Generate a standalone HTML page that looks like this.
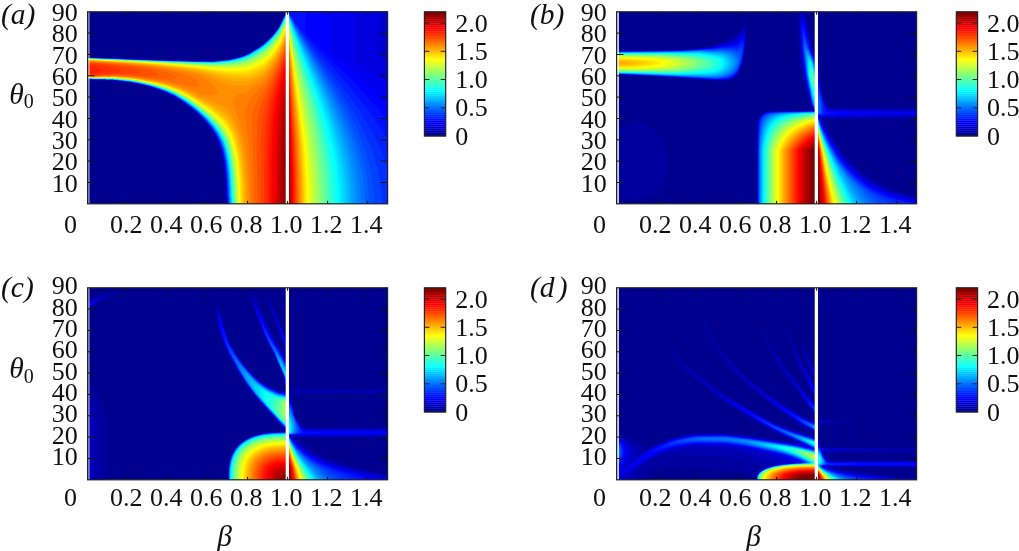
<!DOCTYPE html>
<html><head><meta charset="utf-8"><title>figure</title>
<style>
html,body{margin:0;padding:0;background:#fff}
body{width:1019px;height:551px;overflow:hidden}
svg{display:block}
text{font-family:"Liberation Serif","DejaVu Serif",serif;fill:#111}
.n{font-size:26px}
.i{font-size:29.5px;font-style:italic}
.s{font-size:20px}
</style></head><body>
<svg width="1019" height="551" viewBox="0 0 1019 551">
<rect width="1019" height="551" fill="#fff"/>
<g transform="translate(87.6 11.8)">
<rect x="0" y="0" width="300" height="192" fill="#00008f"/>
<path fill="#00009f" d="M0 45.4l10.2 0.1 3 0.3 24 0.7 3 0.4 10 0.1 3.6 0.4 50.4 1.5 21.6 0.1 14.4-1.5 12.1-2.7 7.8-3 10.7-6.6 5-3.4 3.5-3 4.9-5 4.6-5.6 3-4.7 6.3-13.5 101.9 0 0 192-161.7 0 0-4.2-0.5-2 0-9.6-0.5-2 0-5.4-0.5-2 0-4.5-0.5-1.5-0.1-3.4-0.4-1.6-0.6-6-2-10-1.4-5.1-1.6-4-4-8.1-5.8-8.4-5.5-6.4-5.7-5.7-2-1.5-2.4-2.4-10.5-8-7.9-5-8.2-4-7.6-3-9.2-3-12.2-2.9-8.3-1.5-10.1-1.1-1.6-0.4-3-0.1-1.4-0.4-5.6 0-3-0.4-10 0-2.4-0.4-3.8 0z"/>
<path fill="#0000af" d="M0 45.6l38.2 1.2 15.6 0.8 11.4 0.2 2.6 0.3 12 0.2 3 0.4 18 0.2 4 0.3 21.4 0 14-1.4 11.2-2.6 8.1-3 11-6.4 5-3.6 4-3.4 4.7-4.8 5-6.1 2.6-3.9 6.5-14 101.7 0 0 192-161.3 0-0.1-4.2-0.4-2.6 0-9-0.5-2.4 0-5-0.5-2.6-0.1-4-0.4-2-0.1-3-1-7.4-2.1-10.6-1.7-5.7-1.5-3.7-3.5-7-4.6-6.8-7-8.4-5.8-5.8-1.6-1.2-2.6-2.4-3.4-2.9-7.7-5.5-8.1-5-7.1-3.6-8.9-3.4-8.2-2.7-12-2.9-8.6-1.6-6-0.6-1.4-0.4-2.6-0.1-1.4-0.4-3 0-2-0.5-6 0-2-0.5-10.6 0.1-2-0.5-4.2 0z"/>
<path fill="#0000bf" d="M0 45.8l10.2 0.1 3.2 0.3 10.4 0.2 3 0.4 24 0.6 2.4 0.4 26 0.6 3.6 0.4 17.4 0.2 4 0.3 21.6 0.1 14.4-1.5 11.8-2.7 7.9-3 10.9-6.4 5-3.6 3.5-3 4.9-4.9 5-6.1 3-4.8 6.3-13.4 101.5 0 0 192-161 0-0.1-4.2-0.4-2.6-0.1-9.4-0.4-2-0.1-5.6-0.4-2-0.1-4-0.4-2-0.1-3-1.1-8-2-10-3-9.1-4-7.9-5.9-8.4-5.6-6.6-5.6-5.4-4.5-4-10.7-8-8-5-8.2-4-7.7-3-9.3-3-12.1-3-8-1.4-10-1.1-1.4-0.3-3-0.1-2-0.4-5.6 0-2.4-0.5-10.6 0.1-2.4-0.5-3.8 0z"/>
<path fill="#0000cf" d="M0 45.8l10.2 0.2 3 0.3 10.6 0.2 3 0.3 10.4 0.2 3 0.3 10 0.2 3 0.3 10.6 0.2 3.4 0.4 37 1 21.6 0.1 14.4-1.5 12.2-2.8 7.8-3 10.1-6 5.7-4 3.4-3 4.8-4.8 5.6-6.7 2.4-4.1 6.5-13.6 101.3 0 0 192-160.7 0-0.1-4.2-0.4-2.6-0.1-9.4-0.4-2-0.1-5.6-0.4-2-0.1-4-0.4-2-0.1-3-1.1-8-2-10-1.5-5-1.7-4.4-3.8-7.6-4.4-6.4-7.1-8.6-5.8-5.7-4.4-3.7-9.6-7.5-8.9-5.5-8.1-4-8-3.2-9-2.9-12.2-2.9-8.4-1.6-10-1-1.4-0.4-3-0.1-2-0.4-5.6 0-2.4-0.4-10.6 0-2.4-0.4-3.8 0z"/>
<path fill="#0000df" d="M0 45.9l9.8 0.1 3.4 0.4 10 0.2 3.6 0.3 10 0.2 3.4 0.3 42.6 1.6 21.4 0.5 21.6 0.1 14.4-1.5 11-2.4 8.2-2.9 2-1 9.1-5.6 5.6-4 3.5-3 4.6-4.6 5.6-6.7 2.4-4 6.6-13.9 92.7 0 0.1 44.2 0.2 0.6 1 0.7 7.2 2.4 0 144.1-160.5 0 0-4.2-0.5-2.6 0-9.4-0.5-2.6 0-5-0.5-2 0-4-0.5-2 0-3-1.1-8-2.2-10.4-3-9-4-7.8-5.7-8.2-5.6-6.6-6.1-6-4.1-3.4-9.7-7.6-9.7-6-7.5-3.6-8-3.1-9-2.9-12-2.9-8.6-1.6-6-0.5-1.4-0.4-2.6-0.1-1.4-0.4-3-0.1-1.6-0.4-6 0-2.4-0.5-10.6 0.1-2.4-0.4-3.8 0z"/>
<path fill="#0000ef" d="M0 46l9.2 0.1 73.6 3 21.4 0.5 21.6 0.1 14.4-1.5 11.3-2.4 8.1-3 11.1-6.6 5.1-3.5 4-3.4 4.4-4.5 5.6-6.7 2.4-4.1 6.8-14 68 0 0.1 49.2 1.4 1.6 29.7 18.2 1.8 0.8 0 122.2-160.2 0 0-4.2-0.5-2.6 0-9.4-0.5-2.6-0.1-5-0.4-2.4-0.1-4-0.4-1.6-0.1-3.4-1-7.6-2.2-10.4-3.1-9-4-8-5.7-8-5.5-6.6-6.4-6.2-4.4-3.8-10.7-8-8-5-7.9-3.8-8-3.1-9-2.8-12-2.9-8.6-1.6-10-1-1.4-0.4-3-0.1-1.6-0.4-6 0-2.4-0.4-10.6 0-2.4-0.5-3.8 0.1z"/>
<path fill="#0000ff" d="M0 46l82.8 3.2 22 0.5 21.4 0.1 10-1 7-1 8.6-2 8.1-3 11-6.6 5.3-3.8 3.7-3.2 4.9-4.8 5-6.2 2.4-4 6.9-14.2 43.3 0 0 38.8 0.4 2 2.4 2.4 38.3 31.6 15.3 12.8 1.2 0.6 0 103.8-160 0 0-4.2-0.5-3 0-9-0.5-2.6 0-5-0.5-2.4 0-4-0.4-1.6-0.2-3.4-1-7.6-2.1-10.4-3.1-9-4.1-8-4.4-6.4-7-8.4-6.4-6.2-1.6-1.1-2.5-2.5-10.9-8.1-7.8-4.9-8.2-3.9-8-3.1-9-2.9-12-2.8-8.6-1.6-10-1-1.4-0.4-3-0.1-1.6-0.3-6 0-2.4-0.5-10.6 0.1-2-0.5-4.2 0z"/>
<path fill="#0010ff" d="M0 46.1l37.2 1.2 30.6 1.4 11.4 0.2 3.6 0.3 21.4 0.6 22 0 14-1.4 5.6-1.1 7.4-1.9 7.9-3.2 12.7-7.8 5.7-4.6 5.7-5.9 5.6-7 2-3.5 6.4-13.4 18.7 0 0 19.8 0.3 1.4 1 1.6 8 8.9 32.2 32.1 14.2 14.4 13.4 14.6 11.8 13.8 1.2 0.9 0 84.5-159.7 0 0-4.2-0.5-3 0-9-0.5-2.6 0-5-0.5-2.4-0.1-4-0.4-2-0.1-3-1-7.6-2.2-10.4-1.5-5-1.7-4.6-3.9-7.4-6-8.6-5.6-6.4-6.3-6-4.2-3.7-9.6-7.2-9-5.7-8.2-4-8.2-3.1-9-2.9-12-2.8-8.6-1.6-10-1-1.4-0.4-3-0.1-1.6-0.3-6 0-2.4-0.5-10.6 0.1-2-0.4-4.2-0.1z"/>
<path fill="#0020ff" d="M0 46.2l37.2 1.2 30 1.4 37.6 1.1 21.4 0 14-1.4 5.6-1.1 7.4-1.9 7-2.7 11-6.6 5-3.6 3.9-3.4 4.7-4.6 5-6.1 2.4-3.9 7.2-14.6 1.8 0 1.6 3.6 2.4 4.2 5 7 6.6 8.3 12 14.2 30.7 34.9 16.4 20 11.4 15.6 6 9 5.9 9.7 0.8 0.5 0 65-159.4 0-0.1-4.8-0.4-2.4-0.1-9-0.4-2.6-0.1-5-0.4-2.4-0.1-4-0.4-2-0.1-3-1-7.6-2.2-10.4-1.5-5-1.8-4.6-3.8-7.4-4.5-6.6-7.2-8.4-6.3-6.1-4.4-3.9-9.6-7.1-9-5.6-8-3.9-8.4-3.2-9-2.9-12-2.9-8.6-1.5-10-1-1.4-0.4-2.6 0-2-0.4-6 0-2.4-0.5-10.6 0.1-2-0.4-4.2 0z"/>
<path fill="#0030ff" d="M0 46.2l10.2 0.2 3.5 0.4 10.1 0.1 3.1 0.3 9.9 0.2 3.4 0.4 42 1.5 22.6 0.6 21.4 0.1 14-1.4 5.6-1.1 7.4-1.9 7-2.7 11-6.6 5.1-3.5 3.9-3.5 4.6-4.6 5-6.1 2.4-3.9 6.3-12.9 1.1-1.8 1.1 0 1.5 3.5 2.6 4.3 10 14.5 11.4 15.5 27.3 35.4 13.4 18.6 11.5 17.4 9.1 16 5.7 12 3.1 7.6 2.9 8.2 0.6 0.9 0.2 0 0 38.1-159.2 0 0-4.8-0.5-2.4 0-9-0.4-2.6-0.1-5-0.5-2.4 0-4-0.5-2 0-3-1.2-8-2-10-1.5-5-1.8-4.6-4.1-7.8-4.4-6.5-7-8.1-6.6-6.3-4.3-3.7-9.7-7.3-9.3-5.7-7.7-3.7-8.4-3.3-9-2.8-12-2.8-8.6-1.5-10-1.1-1.4-0.3-3-0.1-1.6-0.4-6 0-2.4-0.4-10.6 0.1-2-0.5-4.2 0z"/>
<path fill="#0040ff" d="M0 46.3l9.8 0.2 3.4 0.3 10 0.2 3.6 0.3 10 0.2 45.4 1.9 22.6 0.6 21.4 0.1 14-1.5 5.6-1 7.4-2 7-2.6 11-6.6 5.2-3.6 3.8-3.4 4.6-4.6 5-6 2.5-4 6.3-13 1.2-1.5 0.4 0 0.8 0.9 3.8 7.2 6.4 10.1 32.8 47.7 12.5 19 10.6 17.6 8.5 16 4.4 9.4 3.9 9.6 3.2 9 2.8 9.4 2.1 9 1.4 9 0.9 9 0.3 8.8-153.5 0 0-4.8-0.5-2.4 0-9.6-0.5-2 0-5-0.5-2.4-0.1-4-0.4-2-0.1-3-1.1-8-2.2-10.6-3.1-9-4.2-8-4.5-6.4-6.8-8-6.8-6.6-4.1-3.4-11-8.1-8-4.9-8-3.9-8.3-3.1-9.1-2.9-12-2.8-8.6-1.5-10-1-1.4-0.4-3-0.1-1.6-0.4-6 0-2.4-0.4-10.6 0.1-2-0.4-4.2 0z"/>
<path fill="#0050ff" d="M0 46.3l9.8 0.2 72.4 3 22.6 0.5 21.4 0.1 14-1.4 5.6-1 7-1.8 7.4-2.9 11-6.5 5.3-3.7 3.7-3.3 4.6-4.5 5.1-6.2 2.5-4 6.3-13 1.1-1.3 0.4 0.1 4 7.5 5.6 9.2 27.2 42.5 12.6 20.4 10.9 19.6 8.6 17.4 4.4 10.6 3.6 9.4 3 9.6 2.4 9 1.8 9 1.4 9 0.8 9 0.3 9.2-145.4 0-0.1-4.8-0.4-2.4-0.1-9.6-0.4-2.4-0.1-5-0.4-2.6-0.1-3.4-1.6-13-2.2-10.6-3.1-9-4.2-8-6.1-8.4-5.7-6.6-6.3-6-4.4-3.6-11-8.1-8-4.9-8-3.8-8-3-9.4-3-12-2.8-8-1.4-10-1.1-2-0.4-2.6 0-2-0.4-6 0-2.4-0.5-10.6 0.1-2-0.4-4.2 0z"/>
<path fill="#0060ff" d="M281.3 192l-139.7 0 0-4.8-0.4-2.4-0.1-9.6-0.5-2.4 0-5-0.5-2.6 0-3.4-1.6-13-2.2-10.6-3.2-9-4.1-8-4.5-6.4-7.3-8.6-6.4-6-4.6-3.8-9.5-7.2-9.5-5.8-8-3.7-8-3.1-9.4-2.9-12-2.8-8-1.4-10-1-2-0.5-2.6 0-2-0.4-6 0-2.4-0.4-10.6 0.1-2-0.5-4.2 0.1 0-20.5 9.8 0.2 72.4 2.9 22.6 0.6 21.4 0.1 14-1.4 5.6-1 7.4-2 7.6-2.9 10.4-6.3 5.5-3.8 3.5-3.2 4.6-4.5 5.2-6.3 2.5-4 6.3-13 1-1.1 0.4 0.1 0.7 1 3.3 6.8 5.6 9.6 25.2 41.6 11 19 10 19 8.3 18 4.2 10.4 3.4 9.6 3 10 2.2 9 1.8 9.4 1.3 9 0.8 9.6z"/>
<path fill="#0070ff" d="M277.1 192l-135.2 0 0-4.8-0.5-3 0-9-0.5-2.4 0-5-0.5-2.6 0-3.4-1.6-13-2.2-10.6-1.6-5-1.8-4.4-4.2-8-5.8-8-5.8-6.6-6.6-6.3-4.4-3.7-9.6-7.1-9.6-5.8-8-3.8-8-3-9.4-2.9-12-2.8-8-1.4-10-1-2-0.4-2.6 0-2-0.5-6 0-2.4-0.4-10.6 0.1-2-0.4-4.2 0 0-20.4 9.2 0.2 73 3 22.6 0.6 21.4 0.1 14-1.4 5.6-1.1 7.4-1.9 7.6-2.9 11-6.6 5-3.6 8-7.6 5.3-6.4 2.5-4 6.2-12.9 1-1 0.4 0.1 9 17.3 24.2 41.9 10.5 19 9.5 19 7.7 17.6 3.7 10 3.2 9.4 2.9 10 2.2 9.6 1.8 9.4 1.2 9 0.7 9.6z"/>
<path fill="#0080ff" d="M273.4 192l-131.2 0 0-4.8-0.5-3 0-9-0.5-2.4 0-5-0.5-2.6 0-3.4-1.6-13-2.2-10.6-1.6-5-1.8-4.4-4.2-8-4.6-6.6-7-8-6.9-6.4-4.2-3.6-9.8-7.3-9.3-5.7-8.3-3.8-8-3-9-2.7-12.4-3-8-1.4-10-1-2-0.4-2.6 0-2-0.4-6 0-2.4-0.5-10.6 0.2-2-0.5-4.2 0 0-20.2 82.8 3.1 33 0.7 10 0.1 14.4-1.4 5.6-1.1 7.4-1.9 7.6-2.9 10.4-6.2 5.6-4 7.6-7.1 5.8-7 2.7-4.6 5.9-12.1 1-1 0.4 0.1 8.6 17.2 23.2 42.4 9.9 19 9.1 19 7.1 17 3.8 10.4 3 9.6 2.6 9.4 2.1 9.6 1.7 9.4 1.1 9 0.7 9.6z"/>
<path fill="#008fff" d="M270 192l-127.5 0 0-4.8-0.5-3 0-9-0.5-2.4 0-5-0.5-2.6-0.1-4-1.5-12.4-2.2-10.6-1.8-5.4-1.6-4-4.2-8-4.6-6.6-7.2-8.2-6.7-6.2-4.3-3.7-10-7.4-9-5.5-8.6-3.9-8-3-9-2.8-12.4-2.9-8-1.4-10-0.9-2-0.5-2.6 0-2-0.4-6 0-2.4-0.4-10.6 0.1-2-0.4-4.2 0 0-20.2 82.8 3.2 33.4 0.7 9.6 0 14.4-1.3 5.6-1.1 8-2 6.4-2.5 11-6.5 5.6-3.9 7.4-7.1 5.7-6.8 2.6-4 6.3-13 1-1 0.4 0.2 8 16.9 21.7 41.5 9.5 19 9.2 20 6.9 17.4 3.4 10 3.1 10 2.4 9.6 2 9.4 1.6 9.6 1.1 9 0.6 9z"/>
<path fill="#009fff" d="M266.8 192l-124 0-0.1-4.8-0.4-3-0.1-9-0.4-2.4-0.1-5-0.4-2.6-0.1-4-1.5-12.4-2.2-10.6-1.6-5-1.8-4.4-4.3-8.3-4.6-6.3-7.3-8.4-11.1-9.9-11-8-8-4.8-8.6-4-8-2.9-9-2.8-12.4-2.9-8-1.3-12-1.4-2.6-0.1-2-0.4-6 0.1-2.4-0.5-10.6 0.1-2-0.4-4.2 0 0-20 82.8 3.1 35.4 0.8 8 0 14.6-1.4 5.4-1.1 7.6-1.9 7.4-3 11-6.6 5-3.7 7.6-7.2 5.2-6.4 2.6-4 6.2-12.8 1-1 0.4 0.2 8 17.7 20.3 40.5 9.6 20 8.4 19.4 6.5 17 3.1 9.6 2.9 10 2.5 10 1.9 9.4 1.5 9.6 1 9 0.7 9z"/>
<path fill="#00afff" d="M263.9 192l-120.8 0-0.1-4.8-0.4-3-0.1-9-0.4-2.4-0.1-5-0.4-2.6-0.1-4-1.5-12.4-2.4-11-3.2-9-4.5-8.6-4.7-6.4-7-8-7.1-6.6-4.3-3.6-11-7.9-8-4.8-8.6-3.9-8-3-9-2.7-12.4-2.8-8-1.4-12-1.4-2.6 0-2-0.4-6 0-2.4-0.4-10 0.1-2.6-0.4-4.2 0 0-20 82.8 3.2 35.4 0.8 8 0 14.6-1.4 5.4-1.1 8-2.1 6.6-2.5 11-6.5 5.4-4 7.1-6.8 6.2-7.4 2.4-4 5.9-12.2 1-1.1 0.4 0.3 8 18.5 19.2 39.9 9 19.6 7.7 18.4 6.4 17.6 3.2 10 2.8 10 2.2 9.4 1.9 9.6 1.5 9.4 1 9 0.6 9.6z"/>
<path fill="#00bfff" d="M261.2 192l-117.8 0-0.1-4.8-0.4-3-0.1-9-0.4-2.4-0.1-5-0.4-2.6-0.1-4-1.6-13-2.2-10.4-2-6-1.4-3.6-4.3-8-4.7-6.4-7.4-8.3-7-6.4-4.4-3.7-11-7.9-8.6-5-8-3.7-8-2.9-9-2.7-12.4-2.8-8-1.4-12-1.4-2.6 0-2-0.4-6 0-2.4-0.4-10 0.2-2.6-0.5-4.2 0 0-19.9 82.8 3.3 38.4 0.8 5.6-0.1 14.4-1.4 6.6-1.3 7-1.9 7-2.8 11-6.6 3.4-2.6 3.6-3 6.1-6.2 4.7-6 2.4-4 6.2-12.8 0.6-0.2 1 1.1 3 8 4 9.4 18.6 40.5 8.2 18.4 7.4 18.6 6.4 18 5.7 20 2.3 10 1.7 9 1.4 9.4 0.9 9 0.7 9.6z"/>
<path fill="#00cfff" d="M258.7 192l-115 0-0.1-4.8-0.4-3-0.1-9-0.4-3-0.1-4.4-0.4-2.6-0.1-4-1.6-13-2.2-10.4-1.8-5.6-1.6-4-4.3-8-4.7-6.4-7.6-8.6-11.4-10-9.7-7-9.4-5.6-8-3.7-8.6-3.1-9-2.7-12-2.7-8.4-1.5-12-1.3-2.6-0.1-2-0.4-5.4 0.1-3-0.4-10 0.1-2.6-0.4-4.2 0 0-19.8 82.8 3.2 39.4 0.9 4.6-0.1 14-1.3 7-1.3 7.4-2.1 6-2.4 11-6.5 5.6-4.1 6.9-6.8 5.4-6.4 2.8-4.6 5.9-12.2 1-1.1 0.4 0.3 7.6 19.2 18.2 41.4 8 19 6.9 18 5.7 17 5.4 19.4 3.8 19 1.3 9.6 0.9 9 0.6 9z"/>
<path fill="#00dfff" d="M256.3 192l-112.3 0-0.1-4.8-0.4-3 0-9-0.5-3 0-4.4-0.5-3-0.1-3.6-1.5-13-2.3-10.4-1.5-5-1.9-4.6-4.6-8.4-4.7-6.6-7.2-8-11.5-10-10-7.2-9.4-5.6-8.6-3.9-8-2.8-9-2.7-12-2.7-8.4-1.5-10-0.9-1.6-0.4-3 0-2-0.4-5.4 0-3-0.4-10 0.1-2.6-0.4-4.2 0.1 0-19.8 82.8 3.3 43.4 0.8 14.6-1.3 7.4-1.4 7.6-2.1 6-2.4 11-6.6 6-4.6 6.1-6.2 5.7-7 2.4-4 6.2-12.7 0.8-0.3 0.8 1.2 3 8.9 4.4 11.5 17.2 40.4 7.1 17.6 6.6 18 5.5 17 5.2 19.4 3.6 19 2.2 18.6z"/>
<path fill="#00efff" d="M254 192l-109.7 0 0-4.8-0.5-3.4 0-8.6-0.5-3 0-4.4-0.5-3-0.1-3.6-1.5-13-2.2-10.4-1.6-5-1.8-4.6-4.6-8.4-4.8-6.6-7.2-8-11.8-10.2-11-7.8-8-4.7-8.4-3.9-8.6-3.1-9-2.6-12-2.7-8.4-1.4-10-1-1.6-0.3-3-0.1-2-0.4-5.4 0.1-3-0.5-10 0.2-2.6-0.4-4.2 0 0-19.6 82.2 3.2 40.6 1 4-0.1 10.4-0.8 5-0.7 7-1.3 7-2 6-2.6 11-6.5 5.6-4.3 6.4-6.5 5.2-6.4 2.7-4.6 5.7-11.7 1-1.1 0.4 0.3 0.6 1 3 9.4 4 10.8 16.7 41.3 6.6 17 6.4 18 5.3 17 5 19.6 3.4 18.4 2.1 18.6z"/>
<path fill="#00ffff" d="M251.7 192l-107.1 0 0-4.8-0.5-3.4 0-8.6-0.5-3 0-4.4-0.5-3 0-3.6-1.6-13-2.1-10.4-1.8-5.6-1.9-4.4-4.3-8-4.8-6.6-7.4-8.1-12-10.3-9.7-7-9.3-5.5-8.4-3.9-8-2.8-9.6-2.8-12-2.7-8.4-1.4-10-1-1.6-0.3-3-0.1-2-0.4-5.4 0.1-3-0.4-10 0.1-2.6-0.4-4.2 0.1 0-19.6 82.2 3.3 40 1 4.6 0 12-1 9.4-1.6 7.6-2 6-2.4 11-6.4 6-4.7 6.3-6.2 5.5-7 2.4-4 5.8-12 1-1.2 0.4 0.3 0.6 1.1 2.4 8.5 4 11.4 22.8 59.3 6.1 18 4.9 16.6 4.8 19.4 3.3 18.6 1.9 18z"/>
<path fill="#10ffef" d="M249.4 192l-104.5 0 0-5.2-0.5-3 0-8.6-0.4-3-0.1-4.4-0.4-3-0.1-3.6-1.5-13-2.3-11-1.6-5-1.9-4.4-4.7-8.6-4.8-6.4-7.3-8-11.7-10-9.8-7.1-9.6-5.6-8.4-3.8-8-2.9-9.6-2.7-12-2.7-8.4-1.4-11.6-1.3-3 0-2-0.4-5.4 0-3-0.4-10 0.2-2.6-0.4-4.2 0 0-19.4 82.2 3.3 40 1 5 0 10-0.8 6.6-0.8 5.4-1.1 7-1.9 5.6-2.2 11-6.4 3-2.1 3.4-2.9 6-6.1 5.3-6.7 2.4-4 5.9-12.1 1-1.2 0.4 0.3 0.6 1.2 3 10.5 4 11.7 15.2 41.2 6 17 5.7 17.4 4.7 16.6 4.5 19.4 3 18 1.9 18z"/>
<path fill="#20ffdf" d="M247.2 192l-101.9 0-0.1-5.2-0.4-3 0-8.6-0.5-3 0-4.4-0.5-3-0.1-3.6-1.5-13-2.2-11-1.6-5-1.9-4.4-4.7-8.6-4.8-6.4-7.4-8-11.8-10.2-10-7.2-9.6-5.5-8.4-3.8-8-2.8-9.6-2.7-12-2.7-8.4-1.4-16.6-1.7-5.4 0.1-3-0.5-10 0.2-2.6-0.4-4.2 0.1 0-19.4 82.2 3.3 41 1.2 7.6-0.3 8.4-0.7 11-1.8 7-2 5-2.1 11-6.4 6-4.7 6-6.1 5.3-6.5 2.6-4.6 5.7-11.7 1-1.3 0.4 0.4 0.6 1.2 3 11.1 4 12.3 20.1 57.6 5.3 17 4.3 16 4.4 19.4 2.9 18 1.8 18z"/>
<path fill="#30ffcf" d="M245 192l-99.4 0 0-5.2-0.5-3 0-8.6-0.4-3-0.1-4.4-0.4-3-0.1-3.6-1.5-13-2.3-11-1.2-4-2.2-5.4-4.7-8.6-5-6.6-7.4-8.1-12-10.2-10-7.1-9-5.2-9-4.1-8-2.7-9.6-2.7-12-2.7-8.4-1.4-16.6-1.7-5.4 0.1-2.6-0.4-10.4 0.2-2.6-0.4-4.2 0 0-19.2 82.8 3.3 40.4 1.3 6-0.2 10.6-0.8 10.4-1.7 7-1.9 5-2.1 11-6.3 6-4.7 6-6.1 5.2-6.6 2.7-4.4 5.7-11.9 1-1.3 0.4 0.3 0.6 1.3 2.4 10 4 13.1 19.4 57.9 5.1 17 4.1 16 4.1 19 2.8 18 1.7 18z"/>
<path fill="#40ffbf" d="M242.9 192l-96.9 0 0-5.2-0.5-3 0-9-0.5-2.6 0-5-0.4-2.4-0.7-9-1.5-11-1.7-7.6-1-3.4-2.6-6.6-4.8-8.4-4.9-6.6-7.4-8-12.2-10.2-11-7.6-8.6-4.9-8.4-3.7-8-2.8-9.6-2.7-12-2.6-8.4-1.4-16.6-1.7-5.4 0.1-2.6-0.4-10.4 0.2-2.6-0.4-4.2 0.1 0-19.2 82.8 3.4 40.4 1.3 6.6-0.1 9.4-0.6 12-1.9 6-1.7 5-2 11-6.3 6-4.7 5.6-5.5 5.3-6.7 3-5 5.7-11.9 1-1.3 0.4 0.3 3.6 13.9 2.4 8.6 14.4 44.4 5.8 19 4.5 16 3.5 14.6 3.8 18.4 2.6 18 1.6 17.6z"/>
<path fill="#50ffaf" d="M240.8 192l-94.4 0-0.1-5.2-0.4-3-0.1-9-0.4-2.6-0.1-5-0.4-2.4-0.6-9-1.6-11-2.6-11-2.5-6.6-4.8-8.5-4.9-6.5-7.5-8-12.2-10.1-3.4-2.7-8-5.3-8-4.6-9-3.9-8-2.7-9.6-2.7-12-2.6-8.4-1.4-16.6-1.6-5.4 0.1-2.6-0.4-10.4 0.2-2.6-0.5-4.2 0.1 0-19 82.8 3.4 41 1.5 16.4-0.8 11-1.7 6-1.6 5-2 11-6.2 6-4.7 5.6-5.5 5.3-6.7 3-5 5.7-12 1-1.3 0.4 0.2 3.6 14.7 2.4 9.1 13.8 44.7 5.4 18.6 4.1 15.4 3.4 14.6 3.6 18.4 2.4 17.6 1.4 17z"/>
<path fill="#60ff9f" d="M238.8 192l-92 0-0.1-5.2-0.4-3-0.1-9-0.4-3-0.1-4.6-1-11.4-1.6-11-1.6-7.6-1.1-4-2.6-6.4-4.9-8.6-5-6.4-7.1-7.7-12.6-10.3-3.4-2.7-8-5.2-8.6-4.8-8.4-3.7-8-2.7-9.6-2.6-12-2.6-8.4-1.4-16.6-1.6-5.4 0.1-2.6-0.4-10.4 0.2-2.6-0.4-4.2 0 0-18.9 123.8 5.1 16-0.6 11.4-1.7 6-1.5 5-2 11-6.1 6-4.6 5.9-5.9 5.1-6.6 2.7-4.4 5.9-12.4 1-1.4 0.4 0.2 3.6 15.5 2.4 9.7 12.9 43.8 5.3 19 3.8 15 3.1 14 3.3 18 2.4 17.6 1.4 17z"/>
<path fill="#70ff8f" d="M236.9 192l-89.7 0-0.1-5.2-0.4-3-0.1-9-0.4-3-0.1-4.6-1-11.4-1.5-11-2.8-11.6-2.5-6.4-4.9-8.6-4.9-6.4-7.7-8-12.6-10.4-10-6.9-9.4-5.4-8.6-3.7-8.4-2.9-9-2.4-12.6-2.7-8.4-1.4-16.6-1.6-5.4 0.1-2.6-0.4-10.4 0.2-2.6-0.4-4.2 0.1 0-18.8 124.2 5.3 16-0.6 12-1.7 6.6-1.8 4.4-1.9 10.6-5.8 6-4.8 5.4-5.7 5-6.4 2.7-4.6 5.9-12.2 1-1.5 0.4 0.2 3.6 16.4 2.4 10.3 12.6 44.8 4.6 17.6 3.5 14.4 3 14 3.1 18 2.1 17 1.4 17z"/>
<path fill="#80ff80" d="M235 192l-87.4 0 0-5.2-0.5-3.6 0-8.4-0.5-3 0-4.6-0.5-3-0.1-3.4-1.5-13-2.2-11-2-6.6-1.5-3.4-4.8-8.6-5-6.4-4.6-5-3.6-3.6-7.6-6.3-8-6-6.4-4.4-10-5.6-8.6-3.7-8-2.7-9.4-2.6-12.6-2.6-8.4-1.4-11.6-1.1-2.4-0.1-2-0.3-6 0-2.6-0.4-10.4 0.3-2.6-0.4-4.2 0 0-18.7 37.8 1.5 87 4.1 15.4-0.4 12.6-1.8 6.4-1.7 4-1.7 10.6-5.7 6-4.8 5.4-5.7 5-6.5 2.8-4.7 5.8-12.2 1-1.5 0.4 0.2 5.6 26.1 15.5 59.4 3.9 16.4 3.1 15.6 3 18 2 17 1.3 16.4z"/>
<path fill="#8fff70" d="M233.1 192l-85.1 0 0-5.2-0.5-3.6 0-8.4-0.4-3-0.1-4.6-0.4-3-0.1-3.4-1.6-13-2.1-11-1.8-6-1.6-4-4.9-8.6-5.4-7-4.3-4.7-4-3.7-7.3-6-2.3-1.5-5.6-4.5-6.8-4.6-9.6-5.3-9-3.9-8-2.6-9.4-2.6-12.6-2.7-8.4-1.3-16-1.5-6 0.1-2.6-0.4-10.4 0.2-2.6-0.4-4.2 0.1 0-18.6 48 1.9 77.2 3.9 15.6-0.3 12.4-1.7 6.6-1.7 4-1.7 10.4-5.7 6-5 5-5.2 5-6.5 2.6-4.3 6-12.7 1-1.6 0.4 0.2 5.6 27.5 14.7 59.8 3.5 16 2.9 15 2.8 17.6 1.9 16.4 1.1 16.6z"/>
<path fill="#9fff60" d="M231.2 192l-82.7 0 0-5.2-0.5-3.6 0-8.4-0.5-3 0-4.6-0.5-3-0.1-3.4-1.5-13-2.3-11.6-2-6.4-1.4-3.6-4.6-8-5.4-7-4.6-5-3.9-3.6-7.4-6.1-2.6-1.6-5.4-4.4-7-4.6-9.6-5.3-9-3.8-8-2.6-9.4-2.6-12.6-2.6-8.4-1.3-16-1.5-6 0.1-2.6-0.4-10.4 0.3-2.6-0.4-4.2 0 0-18.4 45.9 1.8 79.9 4.3 15-0.2 7-0.7 6-0.9 7.4-2.1 9.6-4.7 4.4-2.7 5-4.3 5-5.2 5-6.6 2.6-4.3 6-12.7 1-1.7 0.4 0.2 5.6 28.9 13.8 59.7 3.3 16 2.5 14 2.6 17 1.8 16.6 1 16z"/>
<path fill="#afff50" d="M229.3 192l-80.3 0-0.1-5.2-0.4-3.6 0-8.4-0.5-3-0.6-11-1.5-13-2.3-11.6-1.9-6.4-1.5-3.6-4.8-8.4-5.4-7-4.3-4.6-3.9-3.7-7.8-6.3-2.3-1.4-5.9-4.7-6.8-4.3-9.8-5.4-9-3.8-8-2.6-9.4-2.5-12.6-2.6-8.4-1.3-16-1.5-6 0.1-2.6-0.4-10.4 0.3-2.6-0.4-4.2 0.1 0-18.4 63.2 2.8 63 3.7 15-0.1 7.6-0.7 5.4-0.8 7-1.8 10-5 4.6-2.7 4.4-3.9 5-5.3 5-6.6 2.6-4.3 6-12.7 1-1.8 0.4 0.1 5.6 30.4 12.7 59.1 5.5 29.4 2.3 17 1.7 16 1 16z"/>
<path fill="#bfff40" d="M227.5 192l-78 0 0-5.2-0.5-3.6 0-8.4-0.4-3-0.6-11-1.6-13.6-2.2-11-2.1-7-1.4-3.4-4.6-8-5.4-7-4.8-5-4.1-3.9-7.6-6-2.4-1.5-5.6-4.3-7-4.6-10-5.4-9-3.7-8-2.6-9.4-2.5-12.6-2.5-8-1.3-12-1.1-2.4 0-2-0.4-6 0.1-2.6-0.4-10.4 0.3-2.6-0.4-4.2 0.1 0-18.2 60.4 2.7 66.8 4.2 15 0 8-0.7 5-0.8 6.6-1.7 10-4.9 4.4-2.9 4.6-3.9 5-5.5 4.6-6.2 2.4-4.2 7-14.6 0.4 0.1 5 29.3 12.2 60.4 5 29 2.2 16.4 1.6 16 0.9 16z"/>
<path fill="#cfff30" d="M225.7 192l-75.7 0 0-5.2-0.4-3.6-0.1-8.4-0.4-3-0.6-11-1.6-13.6-2.3-11.4-1.9-6.6-1.6-4-4.2-7.4-5.9-7.6-4.8-4.9-3.8-3.5-7.7-6-2.5-1.6-6-4.5-7-4.5-9.4-5.2-9.6-3.9-8-2.5-9.4-2.4-12.6-2.6-8-1.2-12-1.1-2.4 0-2-0.4-6 0.1-2.6-0.4-10.4 0.3-2.6-0.4-4.2 0.1 0-18 39 1.6 27.4 1.6 39.8 2.4 22 1.8 14.6 0.1 8-0.6 5.4-0.8 6-1.7 10-4.9 4-2.5 4.6-4 5-5.5 4.4-6.1 2.6-4.4 7-14.6 0.4 0 5.6 33.4 11.2 59.8 4 25 2 16.6 1.5 16 0.9 16z"/>
<path fill="#dfff20" d="M224 192l-73.4 0 0-5.2-0.5-3.6 0-8.4-0.4-3.6-0.6-10.4-1.6-13.6-2.2-11.4-3.3-10-3.4-6.6-2.3-3.4-4.5-5.6-5-5.2-4-3.6-8-6.2-2.6-1.5-5.9-4.5-6.5-4.1-10-5.4-9-3.7-8-2.5-10-2.5-12.6-2.5-8-1.2-16.4-1.5-6 0.1-2.6-0.4-10.4 0.4-2.6-0.4-4.2 0.1 0-17.9 36.6 1.5 34.9 2 36.6 2.6 21.1 1.8 14 0.2 7.6-0.4 6-0.8 5.4-1.5 10.6-5 4-2.6 4.4-4.1 5-5.7 4.3-5.9 2.3-4.1 7-14.8 0.4 0 0.6 2.1 4.4 30 10.7 60.8 3.7 24.4 1.9 17 1.4 16 0.8 15.6z"/>
<path fill="#efff10" d="M222.4 192l-71.2 0 0-5.2-0.4-4-0.1-8-0.4-3.6-0.6-11-1.5-13-2.3-11.4-1.9-6.6-1.5-4-3.3-6.4-2-3.1-4.9-5.9-4.9-5-4.2-3.8-8-6-2.9-1.8-5.5-4.1-6.6-4.2-10-5.3-10-4-8-2.5-9-2.2-12.4-2.5-8.6-1.3-16.4-1.4-6 0.1-2.6-0.3-10.4 0.3-2.6-0.4-4.2 0.1 0-17.8 33.9 1.5 34 2 38.9 2.9 18 1.8 7.4 0.5 12.6 0.3 7-0.4 5.4-0.7 5.6-1.5 10-4.7 4-2.6 4.4-4.1 5-5.8 4.4-6.1 2.2-3.9 7-14.9 0.4 0 0.6 2.1 4 28.3 9.7 59.4 3.7 26 1.9 17 1.2 16 0.8 15.4z"/>
<path fill="#ffff00" d="M220.9 192l-69 0 0-5.2-0.5-4 0-8-0.4-3.6-0.6-11-1.5-13-2.4-12-1.9-6.4-1.5-4-3.9-7.6-1.6-2.4-4.7-5.6-5-5-4.1-3.6-8-5.9-15.6-10.2-10.4-5.5-9-3.6-8-2.4-10-2.4-12.6-2.5-8-1.1-16.4-1.4-6 0.1-2.6-0.3-10.4 0.3-2-0.4-4.8 0.1 0-17.5 40.2 1.9 31.5 2 34.1 2.6 20 2.3 13 0.9 11.4-0.1 7.6-0.7 5-1.3 10-4.6 4-2.6 4.4-4.2 5-5.8 4.3-6.1 2.3-4.1 7-14.9 0.4 0 0.6 2.2 3.4 26.2 9.3 59.6 3.5 27 1.7 16.6 1.3 16.4 0.7 15.6z"/>
<path fill="#ffef00" d="M219.5 192l-66.8 0-0.1-5.2-0.4-4 0-8-1.1-14.6-1.5-13.4-2.1-11-1.4-5-2.1-6-4-8-1.6-2.6-7.2-8-7.4-6.5-8-5.8-2.6-1.3-6-4.3-4.4-2.8-12-6.5-10-3.9-8.6-2.5-9-2.1-12.4-2.5-8.6-1.2-12-1-2.4 0-2-0.4-6 0.2-2.6-0.3-10.4 0.3-2-0.3-4.8 0.1 0-17.4 37.2 1.8 37.4 2.4 32.6 2.9 19 2.4 13.6 1.2 11 0.1 8-0.7 4.4-1.3 10-4.6 4-2.7 4-3.8 4.6-5.3 4.4-6.3 2.4-4.3 7.2-15.4 0.4 0 0.6 2.3 3.4 27.5 7.8 53 3.9 31 1.6 16.6 1.1 16 0.7 16z"/>
<path fill="#ffdf00" d="M218.3 192l-64.8 0-0.1-5.8-0.4-3.4 0-8-1-14.6-1.6-13.4-2.2-11.6-1.7-6-1.8-5-4.4-9-3.5-4.4-5-5.4-7.6-6.4-8-5.6-3-1.6-5.4-3.8-7-4.2-10-5.2-10-3.8-8-2.4-9.6-2.2-12.4-2.3-8.6-1.2-16.4-1.4-5.6 0.2-3-0.4-10 0.4-3-0.4-4.2 0.2 0-17.2 42.2 2.1 34.5 2.6 31.7 3 18.8 2.7 13.6 1.5 11 0.2 7.4-0.6 4-1.1 10-4.5 3.6-2.3 4.4-4.3 4.6-5.4 4.4-6.4 2.4-4.4 7.2-15.4 0.4 0 0.6 2.5 3 25 7.6 54.9 3.2 27.6 1.7 18.4 1.1 16 0.6 16z"/>
<path fill="#ffcf00" d="M217.1 192l-62.7 0-0.1-5.8-0.4-3.4 0-8.6-1-14-1.5-13.4-2.3-12-2-7-1.5-4-4.5-9.6-2.2-3-6.1-6.4-7.6-6.3-8.4-5.7-3-1.6-5.6-3.7-7-4.2-10-5-10.4-3.9-8-2.3-9.6-2.1-12.4-2.4-8.6-1.1-16.4-1.3-5.6 0.2-3-0.4-10 0.4-2.4-0.3-4.8 0.1 0-16.9 38.7 1.9 33.7 2.6 34.7 3.4 20.1 3.3 13.6 1.9 11 0.5 7.4-0.4 4-1.1 10-4.4 3.6-2.4 4-3.8 5-6 4.4-6.6 2.2-4 7.4-16 0.4 0.1 0.6 2.6 3 26.2 6.7 51.1 3.3 30 1.5 17.6 1 16 0.6 16z"/>
<path fill="#ffbf00" d="M216.1 192l-60.7 0 0-5.8-0.4-4-0.1-8-0.9-14-1.5-13.4-2.2-12-1.4-5-2-6-4.7-10-2.6-4-5.4-5.6-8.4-6.8-8.1-5.2-3-1.4-12.9-7.9-10-5-10.6-3.8-8.4-2.4-9.6-2-12.4-2.3-8.6-1.1-16.4-1.3-5.6 0.2-3-0.3-10 0.4-2.4-0.4-4.8 0.2 0-16.7 34.9 1.8 38.6 3 35.3 4 32.4 6 11 0.8 7.6-0.4 4-1.1 9.4-4.3 3.6-2.4 4-4 5-6.2 4.4-6.7 2.3-4.1 7.3-16 0.4 0.1 3.6 30.3 6.2 49.6 3 28.4 1.4 17.6 0.9 16 0.6 16z"/>
<path fill="#ffaf00" d="M215.1 192l-58.5 0-0.5-17.8-0.9-14.4-1.5-13.6-2.1-11.4-2.5-9-1.5-4-4.7-10-2.1-3.4-3.2-3.6-4.8-4.2-5.3-3.8-9.1-5.6-7.2-3.6-9.4-5.6-10-4.7-10.6-3.7-8-2.2-9.4-2-13-2.2-8.6-1.2-16.4-1.1-5.6 0.2-3-0.3-10 0.4-2.4-0.4-4.8 0.2 0-16.4 38.4 2.2 19.3 1.4 20.8 2 30.7 4 33 7.3 9.6 0.9 7.4-0.1 4.6-1.2 9.4-4.4 3.6-2.5 3.4-3.5 4.6-5.6 5-7.4 2.4-4.7 6-13.5 1.6-3 0.4 0.2 9.2 79.1 2.7 27.4 2.3 33.6z"/>
<path fill="#ff9f00" d="M214.1 192l-56.1 0-0.4-17.8-1.4-20-2.1-15-1.1-5.4-1.9-7.6-1.8-5-3.9-9-4.6-7.7-1-1.3-2.2-2-7.4-5.3-10.4-5.7-8-3.7-9-5-7.6-3.6-3.4-1.4-10-3.4-8.6-2.1-22.4-4.1-12-1.4-13-0.8-5.6 0.2-3-0.3-10 0.4-2.4-0.3-4.8 0.2 0-16.1 41 2.4 22.8 2 17.8 2 20.9 3 8.2 1.6 6.2 1.4 21.3 6.4 4 1 9.6 1 7.4 0 4.6-1.3 9-4.5 3.4-2.4 3.6-3.6 5-6.4 5-7.7 2.4-4.8 6-13.6 1.6-2.9 0.4 0.3 8.7 79.1 2.5 27 2 32.4z"/>
<path fill="#ff8f00" d="M213.2 192l-53.5 0-0.4-17.8-1.3-19.4-1.4-12.6-1.6-9-3.2-12-4.4-11-4-7.4-2.2-3.5-1.4-1.7-2-1.6-6-3.4-10.6-4.4-8.4-3.1-9.6-4.8-11-4.7-10-3.1-8.4-2-23-4-8.6-1-16.4-1.1-5.6 0.3-3-0.3-10 0.5-2.4-0.3-4.8 0.2 0-15.7 21.7 1.1 26.6 2 23.8 2.6 14.2 2 17.2 3 10.2 2.4 7.1 2.6 17 7.1 3.4 1.2 3 0.6 4.6 0.4 9.4-0.1 2.6-0.5 2.4-1 9-5 3.6-2.5 3.4-3.7 5-6.6 5.6-8.7 2.4-5 6-13.8 1.6-2.8 0.4 0.4 0.6 3.4 2.4 27.2 5.3 49.4 1.9 22 2.1 33.4z"/>
<path fill="#ff8000" d="M199.8 26.5l0.4 0.6 0.6 3.7 8.9 97 1.9 33 0.6 31.2-50.5 0-0.4-17.8-0.8-15-1.1-14-1.6-11.4-1.2-6.6-1.9-7.4-8.6-26.6-0.6-3 0.2-2.4 0.8-2 1.7-1.7 2.7-1.3 7.3-2.1 3.6-1.7 12-8.4 3.4-3.4 5.6-7.4 6.4-10.5 3-6 6-14.1zM0 49.4l31 1.8 31.1 3 20.7 3 19 4 5.6 1.6 5.5 2 4.1 2 4.1 2.4 3.9 3 3.4 3.6 1.6 3 0.1 2-0.6 1-0.7 0.5-3.6 0.9-4.4 0.3-6-0.9-4-1.2-17.6-6.8-11-3-9-1.9-9-1.6-18.4-2.6-20-1.3-5.6 0.3-3-0.3-10 0.6-2.4-0.4-4.8 0.2z"/>
<path fill="#ff7000" d="M199.8 28.8l0.4 0.9 0.6 4 8.2 95.1 1.7 32.4 0.6 30.8-47.3 0-0.3-18.2-0.9-20-1.7-21-3.2-24-0.2-6.6 0.5-4.4 1.7-5 3.6-6 4.4-5.6 8.3-8.4 3.6-4.9 4-6.3 6.4-11.5 8-18.7zM0 49.7l25.3 1.5 22 2 19.4 2.6 13.8 2.4 13.4 3.6 10.4 4 2.8 1.4 2.5 2 1.6 2 0.4 2-0.5 1-1.3 0.8-1.6 0.2-3-0.2-22-4.6-9-1.6-23.4-3.2-8-0.8-17-0.9-5.6 0.4-3-0.3-10 0.6-2.4-0.3-4.8 0.1z"/>
<path fill="#ff6000" d="M199.8 31.3l0.4 1.2 0.6 4.3 7.4 92.4 1.7 32.6 0.5 30.2-43.6 0-0.6-32.8-1.9-42 0.2-9 1.1-8 1.4-5.4 2.1-5 1.9-3.6 6.8-10.1 10.4-19 3.6-7.4 6.4-15.9zM0 50.1l18.8 1.1 17.1 1.6 16.6 2 12.3 2 9.2 2 7.9 2.4 4.8 2.6 1.6 1.4 0.2 1-0.7 0.7-1.6 0.5-7 0.2-19-1.4-9-1.2-12.4-0.9-13-0.5-5.6 0.3-3-0.2-10 0.6-2.4-0.3-4.8 0.3z"/>
<path fill="#ff5000" d="M199.8 34.1l0.4 1.4 0.6 4.8 6.7 89.9 1.5 32 0.5 29.8-39.6 0-0.8-67.8 0.5-12 1.1-9 1.9-7.4 3.4-8.6 5-11.4 9.2-19.5 8-20 1-1.8zM0 50.5l28.3 2.3 12.6 1.4 9.5 1.6 9.6 2 5 1.4 4.3 2 0.9 1 0.1 0.6-1.1 0.9-1.4 0.4-7 0.6-18-1.2-16.6-0.4-6 0.4-3-0.2-10 0.8-2.4-0.3-4.8 0.2z"/>
<path fill="#ff4000" d="M199.8 37l0.4 1.8 0.6 5.3 6 87.7 1.4 30.4 0.5 29.8-35.4 0-0.1-62.2 0.8-14 1.5-12 2.5-11.6 3.7-11.4 3.3-8.6 5.8-13.5 8-20.6 0.4-0.8zM0 51.2l19.2 1.6 18.2 2.4 10.4 2.6 3.4 1.4 1 1-0.2 0.6-1.2 0.6-6 0.7-8 0.3-10.6 0-5.4 0.6-3.6-0.2-10 0.9-2.4-0.3-4.8 0.4z"/>
<path fill="#ff3000" d="M199.8 40.3l0.4 2.2 5.9 88.7 1.3 31.6 0.4 29.2-31.4 0 0-37.2 0.4-23 0.8-16 1.5-13.6 2.4-12 3.3-11.4 11.4-31.6 2.6-6.1 0.4-0.8zM0 52l12.4 1.2 12.5 2 6.9 2 1.8 1 0.3 0.6 0 0.4-1.1 0.8-3.6 0.9-8 1-3.4 0-10 1.2-3-0.2-4.8 0.4z"/>
<path fill="#ff2000" d="M199.2 43.6l0.6 0.2 0.4 2.7 4.9 79.3 1.5 34.4 0.4 31.8-28 0 0.2-36.8 0.3-22 0.8-16.4 1.4-13.6 2-11.4 2.8-11 8.7-27.4 3-8zM0 53.6l4.3 0.6 6.5 1.6 3.5 1.4 1.1 1 0.1 0.6-0.8 1-0.8 0.4-3.1 1-3 0.7-3 0.1-4.8 0.6z"/>
<path fill="#ff1000" d="M199.2 47.3l0.6 0.5 0.4 3.2 4.3 75.2 1.3 34.6 0.4 31.2-24.8 0 0.1-36.2 0.4-21 0.8-16.6 1.3-14 2-12.4 3-12.6 5.8-20.4 3.4-9.7z"/>
<path fill="#ff0000" d="M199.2 51.3l0.6 0.8 0.9 10.1 3.2 64.6 1.2 33.4 0.4 31.8-22 0 0.6-54.2 0.7-17 1.2-14 2-13.6 3.6-17 3.8-14.4 2.8-8.7z"/>
<path fill="#ef0000" d="M199.2 55.9l0.6 1.1 0.7 9.2 2.9 60.6 1.1 34 0.3 31.2-19.2 0 0.6-52.2 0.7-17 1.1-14 2-16 2.9-15.6 3.1-12.4 2.2-7.1z"/>
<path fill="#df0000" d="M199.2 61l0.6 1.6 0.5 6.6 2.6 58 1 34.6 0.3 30.2-16.6 0 0.6-50.8 0.7-17.4 1-15 1.7-14.6 2.2-13.4 3-13 2-6.3z"/>
<path fill="#cf0000" d="M199.2 66.9l0.6 2 0.4 6.5 2.1 51.8 0.9 33 0.3 31.8-14.1 0 0.6-49.8 0.6-17 0.9-14.4 1.4-14 1.8-12 3.1-14 1-3.4z"/>
<path fill="#bf0000" d="M199.2 73.9l0.6 2.5 0.4 7.5 1.7 43.3 0.8 33.6 0.3 31.2-12 0 0.6-47.2 1.3-30.6 1.1-12.4 1.4-11 2.5-13 0.9-3.4z"/>
<path fill="#af0000" d="M199.2 82.3l0.6 3.1 0.4 8.8 1.2 33.6 0.7 33.4 0.3 30.8-9.8 0 0.5-43.2 1.1-29 0.9-12 1.2-10.6 1.9-12.1 0.6-2.2z"/>
<path fill="#9f0000" d="M199.2 93.1l0.6 3.6 0.4 10.1 0.8 24 0.6 31.4 0.2 29.8-7.7 0 0.5-37.8 0.9-26.4 1.7-22.6 1.6-11.2z"/>
<path fill="#8f0000" d="M199.2 107.9l0.6 4 1 30.2 0.5 49.9-5.5 0 0.4-31.2 0.7-23 1.2-21 0.7-7z"/>
<path fill="#800000" d="M199.2 132l0.6 3 0.4 13.8 0.5 43.2-3.1 0 0.6-39.2 0.6-14.9z"/>
<rect x="0.6" y="0" width="1.3" height="192" fill="#fff" opacity="0.70"/>
<rect x="198.1" y="0" width="3.3" height="192" fill="#fff"/>
<path d="M0 170.7h7M300 170.7h-7M0 149.3h7M300 149.3h-7M0 128.0h7M300 128.0h-7M0 106.7h7M300 106.7h-7M0 85.3h7M300 85.3h-7M0 64.0h7M300 64.0h-7M0 42.7h7M300 42.7h-7M0 21.3h7M300 21.3h-7M40.0 0v3M40.0 192v-3M80.0 0v3M80.0 192v-3M120.0 0v3M120.0 192v-3M160.0 0v3M160.0 192v-3M200.0 0v3M200.0 192v-3M240.0 0v3M240.0 192v-3M280.0 0v3M280.0 192v-3" stroke="#111" stroke-width="1" fill="none"/>
<rect x="0" y="0" width="300" height="192" fill="none" stroke="#222" stroke-width="1.2"/>
<text class="n" x="-9.8" y="179.8" text-anchor="end">10</text>
<text class="n" x="-9.8" y="158.4" text-anchor="end">20</text>
<text class="n" x="-9.8" y="137.1" text-anchor="end">30</text>
<text class="n" x="-9.8" y="115.8" text-anchor="end">40</text>
<text class="n" x="-9.8" y="94.4" text-anchor="end">50</text>
<text class="n" x="-9.8" y="73.1" text-anchor="end">60</text>
<text class="n" x="-9.8" y="51.8" text-anchor="end">70</text>
<text class="n" x="-9.8" y="30.4" text-anchor="end">80</text>
<text class="n" x="-9.8" y="9.1" text-anchor="end">90</text>
<text class="n" x="-17" y="220.8" text-anchor="middle">0</text>
<text class="n" x="38.7" y="220.8" text-anchor="middle">0.2</text>
<text class="n" x="78.7" y="220.8" text-anchor="middle">0.4</text>
<text class="n" x="118.7" y="220.8" text-anchor="middle">0.6</text>
<text class="n" x="158.7" y="220.8" text-anchor="middle">0.8</text>
<text class="n" x="198.7" y="220.8" text-anchor="middle">1.0</text>
<text class="n" x="238.7" y="220.8" text-anchor="middle">1.2</text>
<text class="n" x="278.7" y="220.8" text-anchor="middle">1.4</text>
</g>
<g transform="translate(424.4 11.8)">
<rect x="0" y="122.26" width="21.3" height="2.24" fill="#00008f"/>
<rect x="0" y="120.32" width="21.3" height="2.24" fill="#00009f"/>
<rect x="0" y="118.38" width="21.3" height="2.24" fill="#0000af"/>
<rect x="0" y="116.44" width="21.3" height="2.24" fill="#0000bf"/>
<rect x="0" y="114.50" width="21.3" height="2.24" fill="#0000cf"/>
<rect x="0" y="112.56" width="21.3" height="2.24" fill="#0000df"/>
<rect x="0" y="110.62" width="21.3" height="2.24" fill="#0000ef"/>
<rect x="0" y="108.67" width="21.3" height="2.24" fill="#0000ff"/>
<rect x="0" y="106.73" width="21.3" height="2.24" fill="#0010ff"/>
<rect x="0" y="104.79" width="21.3" height="2.24" fill="#0020ff"/>
<rect x="0" y="102.85" width="21.3" height="2.24" fill="#0030ff"/>
<rect x="0" y="100.91" width="21.3" height="2.24" fill="#0040ff"/>
<rect x="0" y="98.97" width="21.3" height="2.24" fill="#0050ff"/>
<rect x="0" y="97.03" width="21.3" height="2.24" fill="#0060ff"/>
<rect x="0" y="95.09" width="21.3" height="2.24" fill="#0070ff"/>
<rect x="0" y="93.15" width="21.3" height="2.24" fill="#0080ff"/>
<rect x="0" y="91.21" width="21.3" height="2.24" fill="#008fff"/>
<rect x="0" y="89.27" width="21.3" height="2.24" fill="#009fff"/>
<rect x="0" y="87.33" width="21.3" height="2.24" fill="#00afff"/>
<rect x="0" y="85.39" width="21.3" height="2.24" fill="#00bfff"/>
<rect x="0" y="83.45" width="21.3" height="2.24" fill="#00cfff"/>
<rect x="0" y="81.51" width="21.3" height="2.24" fill="#00dfff"/>
<rect x="0" y="79.57" width="21.3" height="2.24" fill="#00efff"/>
<rect x="0" y="77.62" width="21.3" height="2.24" fill="#00ffff"/>
<rect x="0" y="75.68" width="21.3" height="2.24" fill="#10ffef"/>
<rect x="0" y="73.74" width="21.3" height="2.24" fill="#20ffdf"/>
<rect x="0" y="71.80" width="21.3" height="2.24" fill="#30ffcf"/>
<rect x="0" y="69.86" width="21.3" height="2.24" fill="#40ffbf"/>
<rect x="0" y="67.92" width="21.3" height="2.24" fill="#50ffaf"/>
<rect x="0" y="65.98" width="21.3" height="2.24" fill="#60ff9f"/>
<rect x="0" y="64.04" width="21.3" height="2.24" fill="#70ff8f"/>
<rect x="0" y="62.10" width="21.3" height="2.24" fill="#80ff80"/>
<rect x="0" y="60.16" width="21.3" height="2.24" fill="#8fff70"/>
<rect x="0" y="58.22" width="21.3" height="2.24" fill="#9fff60"/>
<rect x="0" y="56.28" width="21.3" height="2.24" fill="#afff50"/>
<rect x="0" y="54.34" width="21.3" height="2.24" fill="#bfff40"/>
<rect x="0" y="52.40" width="21.3" height="2.24" fill="#cfff30"/>
<rect x="0" y="50.46" width="21.3" height="2.24" fill="#dfff20"/>
<rect x="0" y="48.52" width="21.3" height="2.24" fill="#efff10"/>
<rect x="0" y="46.58" width="21.3" height="2.24" fill="#ffff00"/>
<rect x="0" y="44.63" width="21.3" height="2.24" fill="#ffef00"/>
<rect x="0" y="42.69" width="21.3" height="2.24" fill="#ffdf00"/>
<rect x="0" y="40.75" width="21.3" height="2.24" fill="#ffcf00"/>
<rect x="0" y="38.81" width="21.3" height="2.24" fill="#ffbf00"/>
<rect x="0" y="36.87" width="21.3" height="2.24" fill="#ffaf00"/>
<rect x="0" y="34.93" width="21.3" height="2.24" fill="#ff9f00"/>
<rect x="0" y="32.99" width="21.3" height="2.24" fill="#ff8f00"/>
<rect x="0" y="31.05" width="21.3" height="2.24" fill="#ff8000"/>
<rect x="0" y="29.11" width="21.3" height="2.24" fill="#ff7000"/>
<rect x="0" y="27.17" width="21.3" height="2.24" fill="#ff6000"/>
<rect x="0" y="25.23" width="21.3" height="2.24" fill="#ff5000"/>
<rect x="0" y="23.29" width="21.3" height="2.24" fill="#ff4000"/>
<rect x="0" y="21.35" width="21.3" height="2.24" fill="#ff3000"/>
<rect x="0" y="19.41" width="21.3" height="2.24" fill="#ff2000"/>
<rect x="0" y="17.47" width="21.3" height="2.24" fill="#ff1000"/>
<rect x="0" y="15.53" width="21.3" height="2.24" fill="#ff0000"/>
<rect x="0" y="13.58" width="21.3" height="2.24" fill="#ef0000"/>
<rect x="0" y="11.64" width="21.3" height="2.24" fill="#df0000"/>
<rect x="0" y="9.70" width="21.3" height="2.24" fill="#cf0000"/>
<rect x="0" y="7.76" width="21.3" height="2.24" fill="#bf0000"/>
<rect x="0" y="5.82" width="21.3" height="2.24" fill="#af0000"/>
<rect x="0" y="3.88" width="21.3" height="2.24" fill="#9f0000"/>
<rect x="0" y="1.94" width="21.3" height="2.24" fill="#8f0000"/>
<rect x="0" y="0.00" width="21.3" height="2.24" fill="#800000"/>
<path d="M0 96.0h5M21.3 96.0h-5M0 67.7h5M21.3 67.7h-5M0 39.5h5M21.3 39.5h-5M0 11.3h5M21.3 11.3h-5" stroke="#222" stroke-width="1" fill="none"/>
<rect x="0" y="0" width="21.3" height="124.2" fill="none" stroke="#222" stroke-width="1.2"/>
<text class="n" x="30.8" y="132.8">0</text>
<text class="n" x="30.8" y="104.6">0.5</text>
<text class="n" x="30.8" y="76.3">1.0</text>
<text class="n" x="30.8" y="48.1">1.5</text>
<text class="n" x="30.8" y="19.9">2.0</text>
</g>
<g transform="translate(616.6 11.8)">
<rect x="0" y="0" width="300" height="192" fill="#00008f"/>
<path fill="#00009f" d="M181.9 0l7.1 0 2 8.2 3.2 17.9 2 9.4 2.6 7 0.4 0.9 0.6 0.3 1-0.9 0.7 2 2.3 24 1 8 1 5.4 1 3.7 1.4 3.6 2 3 2 2 1.6 0.9 86.2 0.5 0 11.3-90.8 0.5-1 0.1-0.6 0.4 0.3 1 7.9 14.5 7.4 12 4.6 5.9 4 4.7 9.5 9.5 6.4 5.4 5.4 4 5.7 3.6 7.4 4 7.7 3.4 10.5 4 9.2 3 6.4 1.6 0 7.2-160.1 0 0.2-78.8 0.5-4 1.3-3.4 1.8-2.6 2.5-2.1 3-1.5 2.6-0.6 43.4-0.5 1.6-0.3 0-0.5-3.3-5.9-2-5.6-5.5-19.4-2.4-12.6-0.8-9-1-34.4zM128.8 8.9l0.5 3.3 0.3 5.6-0.4 12.4-1.1 12-1.5 8-2 6-2.4 5-1.5 2-1.9 1.9-2.6 2-1.4 0.8-2 0.5-5 0.6-8.6 0.1-20-1.7-35.4-2.2-43.8-2 0-24.3 39.2-0.5 30-0.9 12.6-0.9 5.8-0.8 7.4-1.6 4.8-1.4 9.6-4 5.1-2.6 3.3-2 2.4-2.2 4-4.7 1.6-2.6 2.4-6zM19.2 110.6l3 0.1 3 0.5 3 0.8 3 1.2 5.6 3.5 4.6 4.5 4.2 6 2.9 6.6 1.9 7.4 0.7 7.6-0.5 7.4-1.7 7.6-2.7 6.4-4 6.2-4.6 4.8-5.4 3.7-3 1.4-3 1-3 0.6-3 0.2-5-0.5-5-1.5-4.4-2.3-5-3.9-0.8-0.3 0-60.6 0.8-0.2 5-3.9 4-2.1 4.4-1.5z"/>
<path fill="#0000af" d="M182.9 0l4.3 0 1.5 4.2 1.7 7 4.8 24.4 2 5.7 2 4.8 1.6 2.6 0.4 1.8 1.2 8.3 1.8 16.9 1.6 8 1 3.4 1.4 3.4 2 3 2 2.1 1.6 0.8 86.2 0.7 0 8.9-73.8 0.4-20 0.4-0.7 0.4 0.3 1 3.2 5.6 5.8 10.8 7.4 12.1 4.6 6.1 4 4.8 4.4 4.7 5.3 4.9 5.8 5 6.1 4.6 5.7 3.4 7.6 4 7.9 3.6 9.5 3.4 9.6 3 7.3 1.7 0 6.1-159.7 0 0.3-78.8 0.4-4 1.4-3.4 1.8-2.5 2-1.7 3-1.5 2.6-0.7 11.4-0.3 33.8-0.3 0.3-0.6-2.8-5.4-2-5.6-5.1-19-2.5-13-0.9-9-1.1-22-0.4-16.4zM128.7 12.8l0.5 7.4-0.3 3.6 0 6.4-1.1 11.6-1.7 9-2.5 7-2.2 4-3.2 3.3-3.4 2.3-2 0.6-5 0.6-8.6 0.1-19.4-1.6-36.2-2.3-43.6-2 0-23.5 39.2-0.5 30-1 13-0.9 12.6-2.1 3.8-1 10.8-4 5.8-2.5 2.9-1.5 2.7-2.2 3.4-4 1.6-2.5 2-4.7 0.4-0.6z"/>
<path fill="#0000bf" d="M184.5 0l0.4 0 1.6 2.2 1.7 4 1.4 5.6 5 24 5.9 16 1.5 7 2.2 18 1.6 7.9 1 3.2 1.4 3.4 2 3 2 2.2 1.6 0.8 86.2 0.7 0 7.1-52.2 0.2-41 0.6-2.9-0.1-0.2 0.4 10.5 19.6 7.6 12 4 5.6 4.4 5.4 4.6 4.8 5.4 5.2 6.5 5.4 5.5 4.1 5.8 3.5 7.8 4 8.3 3.4 10 3.6 9.1 2.6 6.8 1.5 0 5.1-159.4 0 0-53.2 0.3-25.6 0.6-4.4 1.6-3.6 1.7-2 2.4-1.9 3-1.2 2.6-0.5 43.4-0.6 1.4-0.2-0.2-1-3-6-1.4-4.6-5.1-20-2.4-13.4-1.5-18-1-24 0.2-8.2 0.6-2.2zM128.2 14.6l0.6 2.4 0.1 3.2-0.3 3 0 7-1 11.6-1.6 8.4-2.1 6-2.5 5-3.2 3.6-2.4 1.8-1.6 0.7-2 0.5-5 0.6-7.4 0.1-20-1.6-36-2.3-43.8-2 0-23.2 39.2-0.5 30-0.9 12.6-0.8 12.2-2 4.3-1 17.7-6 2.8-1.3 2-1.5 3.4-3.9 1.6-2.4 2-4.3z"/>
<path fill="#0000cf" d="M184.8 3l0.4 0.1 1 1.1 1.7 4 1.4 5.6 4.6 21.4 5.7 15.6 2.2 9.9 2.2 16.5 1.8 8.3 1 3.1 1.4 3.3 2 3.1 2 2.3 1 0.5 15.3 0.4 71.5 0.6 0 5.4-52.2 0.4-41 0.7-1.6-0.1-2-0.8-0.4-0.1-0.3 0.5 0.7 2.1 10.6 19.7 8 12.8 4 5.6 4.4 5.4 4.6 4.8 4.8 4.6 6.6 5.5 6 4.4 6 3.5 7 3.6 8.4 3.4 10.2 3.5 9 2.5 7.2 1.5 0 4.3-159.2 0 0-53.2 0.4-24.6 0.4-4.4 1.5-4 1.5-2 2.2-1.9 2.4-1.2 3-0.8 13-0.4 32-0.3 0.7-0.4-3-6.6-1.5-4.4-5-20.6-1.9-11-1.9-19-1-21 0-10 0.5-2.4zM128.2 17.5l0.4 3.3-0.2 8.4-0.5 7.6-1 8-1.3 6-2.1 6-2.4 4.4-3.3 3.6-3.6 2.2-2 0.6-5 0.5-8 0.1-19.4-1.5-36-2.3-43.8-1.9 0-22.9 39.2-0.5 29.7-0.9 12.9-0.9 11-1.5 6-1.3 16-4.6 4-1.5 2-1.3 2.4-2.6 2-2.7 2.6-4.7z"/>
<path fill="#0000df" d="M184.8 5.5l0.4 0 1 1.1 1.6 3.8 5.8 25.4 5.5 14.4 3.1 16.3 2 13.2 1.6 6.6 2.4 6.3 2 3.2 2 2.3 2 0.4 24 0.6 61.8 0.6 0 3.7-52.2 0.4-41 1-1.6-0.2-2.4-0.7-0.7 0.3-0.1 0.6 1.8 4.1 9.4 18.2 8.6 13.7 4 5.6 4.4 5.4 4.6 4.8 5 4.7 5.4 4.6 5 3.8 4.6 2.9 5 2.7 9 4.2 9.4 3.5 12.6 3.7 9.2 1.8 0 3.5-159 0 0-53.2 0.4-24 0.4-5 0.6-2 1-2 1.6-2 2.2-1.9 2.6-1.2 3-0.6 15.4-0.5 29.6-0.4 0.4-0.4-2.7-5.6-1.5-4.4-5-21-1.9-10.6-2-19-1-16.4-0.2-11.6 0.3-3.4zM128.1 20.2l0.1 8.6-0.5 8-1.1 8.4-1.5 6.6-2.3 6-2 3.6-3.6 3.5-1.9 1.3-1.5 0.7-7 1-7.6 0.1-19.4-1.5-36-2.3-43.8-1.9 0-22.6 38.8-0.5 30.4-0.8 9-0.5 14-1.8 6-1.1 17.3-4.2 3.7-1.3 2-1.3 2.6-2.7 1.4-2 2-3.6 0.6-0.4z"/>
<path fill="#0000ef" d="M185.2 8l1 1 1.3 3.2 5.7 23.6 4.3 11 1.5 4.4 5.1 29 1.6 6.6 2.5 6.5 3.6 5.3 2 0.5 25 0.8 61.2 1.2 0 0.9-52.8 1-40.4 1.2-4-0.6-0.7 0.2-0.4 0.4 0.5 2.1 1.6 3.5 8.4 16.7 3.6 6.2 5 7.9 4 5.8 4.4 5.6 5 5.4 5.2 4.8 5.8 5 5.5 4 4.5 2.9 5.9 3.1 8.7 3.8 10 3.5 11 3.1 9.2 1.8 0 2.6-158.8 0 0-53.2 0.4-22.6 0.5-6.4 0.6-2 1-2 1.6-2 1.9-1.6 2.6-1.2 3-0.7 12.4-0.4 31.6-0.4 1.4-0.3 0.2-0.4-2.9-6-1.4-4.6-4.6-20-1.9-10.4-2.1-19-0.9-15-0.3-12 0.4-3zM127.5 22.8l0.5 5.4-0.5 8.6-1.1 8.4-1.6 6.8-2 5.3-2 3.7-3.8 3.8-1.8 1.2-1.7 0.8-7.3 0.9-7 0.1-55.4-3.7-43.8-1.9 0-22.4 39.2-0.5 30-0.8 8.6-0.5 14-1.6 6-0.8 7-1.7 12-2.3 2.9-0.8 1.5-1 2-2.1 4-5.5z"/>
<path fill="#0000ff" d="M185.2 11l0.6-0.1 0.4 0.6 1 2.3 5.6 22 4.6 11.4 1.2 3.6 1 5 1.6 11.1 4.4 20.3 2 5.6 3.1 6 0.5 0.5 1.6 0.4 20 1.1 5.6 0.4 0.5 0.6-4.7 0.4-27.4 1.5-4-0.4-1.1 0.5-0.1 1 0.6 2.2 3.6 7.8 8 15.5 6.4 10.7 6.6 9.2 7.4 8.5 9.6 8.6 9 6.6 8 4.4 9 3.9 6.4 2.3 10 2.9 8 2 5.8 0.9 0 1.7-158.6 0 0-52.8 0.3-20.4 0.5-8 0.6-2.4 1-2.2 1.4-2 2.4-2 2.2-1 3-0.7 13.4-0.5 30.6-0.4 1.7-0.4-0.1-1-2.5-5-1.3-4-4.7-20.4-1.5-8-1.5-11.6-1.4-15-0.8-17 0.1-4zM127.2 24.8l0.5 4-0.4 8.4-1.1 7.7-2 7.9-2 5.1-2 3.3-3.7 3.6-1.4 1-1.9 0.7-6.4 1-7.6 0.1-55.4-3.6-43.8-1.9 0-22.2 39.2-0.4 30-0.9 8.6-0.4 18-2 9-1.7 13-1.9 2.4-0.6 1-0.6 2-2 3.6-4.6z"/>
<path fill="#0010ff" d="M185.8 14l0.4 0.2 0.6 0.9 1 2.7 4.9 19 5.4 13.4 1.4 6.6 1.7 12.6 1.6 5.8 1.8 9 1.5 5.6 3 7.4 0.4 2 0.3 0.6 1 0.4 8.1 1 0.3 0.6-8.4 1-8.6 0.4-0.4 0.2-0.4 0.8 1.8 6 4 8.6 6.6 12.6 7 11.5 6.4 9.1 7.6 8.4 9.4 8.5 4.6 3.5 4.4 3.1 8.6 4.5 10 4.1 12 3.8 15.8 3.9 0 0.2-158 0 0-52.8 0.3-19 0.6-9.4 0.7-2.9 1-2 1.8-2.1 2.1-1.6 2.3-1 2.4-0.5 14.4-0.6 30-0.4 1-0.1 0.5-0.4-0.2-1-2.6-5.4-1.3-4-4.6-21-1.3-7.6-2.8-25.4-0.7-15.6 0-3.1zM127.2 27.9l0 6.9-0.7 7-1.3 6.7-2 6.4-1.9 4.3-1.5 2.2-3.8 3.4-3.1 1.4-6.7 1.1-7.4 0.1-55-3.5-43.8-1.9 0-22 57.8-0.8 20.4-0.9 18.6-1.8 9-1.6 14-1.4 1-0.3 1-0.7 5-5.4z"/>
<path fill="#0020ff" d="M186.2 17.5l0.6 0.4 1 2.4 4.6 16.5 4.2 10 1.4 4 1.5 7.4 1.7 13.8 1.6 5.2 2.2 10 2.8 9 0.2 3.6 0.4 1.4-0.2 0.6-2 0.7-4.4 0.6-0.5 0.7 0.5 2.7 2.4 6.7 4 8.4 5 9.9 6 10.1 6 8.9 7.6 9 9 8.5 8.4 6.8 7 4.2 9.6 4.5 8 3 15.9 4.7 1 0.6 0 0.2-149.9 0 0-52.8 0.4-18.4 0.6-9.6 0.9-3.4 1-2 1.8-2 2.1-1.6 2.6-1 2-0.3 14.6-0.6 30.5-0.5 0.6-0.6-0.2-1-2.7-5.4-1.1-3.6-4.5-21-1.3-7-2.9-26-0.5-13.4 0.1-2.6zM126.8 30.2l0.1 5.6-0.7 6.3-1.4 7.3-2 6-1.6 3.3-2 2.7-3.4 3.1-3 1.4-6.6 1.1-7.4 0.2-55-3.4-43.8-1.9 0-21.8 57.8-0.8 20.4-0.9 18.6-1.5 10.4-1.5 13-0.5 1.6-0.8 4.4-4.2z"/>
<path fill="#0030ff" d="M186.8 21.3l0.4 0.5 1 2.4 3.8 12.6 4.4 10 1.5 4.4 1.6 8.6 1.7 14.7 1.6 4.7 3.7 15 0.2 3.6-0.2 3.4-0.3 0.6-1 0.4-3.4 0.7-0.7 0.9 0.1 1.2 1.6 5 2 5.1 9 18.2 7.4 12.5 6 8.4 7.6 8.5 8.4 7.9 7 5.5 7 4.4 9.6 4.6 15.3 6.1 0.5 0.8-140.6 0 0-52.8 0.3-14.4 0.5-9.4 0.4-4.2 1-3.4 1-2 1.2-1.6 2-1.4 2.2-1 2.6-0.7 14-0.7 30.6-0.5 1-0.1 0.3-0.6-2.7-6-1.3-4-5.6-27-2.9-26-0.4-11.4 0.1-2zM126.2 33.3l0.2 2.5-0.2 3.6-1 6.5-1.4 5.7-2 5.4-2 3.2-3 2.9-2.6 1.7-2.8 1-7.2 1-9 0-51.4-3.1-43.8-1.9 0-21.6 58.2-0.8 19.6-0.8 6.4-0.6 12.6-0.7 10.4-1.2 6.6-0.1 6.4 0.5 1.6-0.6 3.4-2.9 0.6-0.2z"/>
<path fill="#0040ff" d="M187.2 25.1l1 1.5 3.3 9.6 4.6 10.6 1.5 4.4 1.9 9.6 1.7 16.3 2 6.5 1.9 8.2 0.4 5-0.2 4.4-1.1 0.9-3 1-0.2 0.7 0.2 1.7 1.6 5.1 2 5.1 6.4 13.7 7 12.6 4.6 7.2 5.4 7.3 6 6.9 7 6.7 7 5.9 7 4.9 12.5 7.3 2.8 2.6 0.6 1.2-129 0 0-52.8 0.5-14.4 0.4-7 0.6-5.6 0.9-3.4 1.3-2.9 1.3-1.7 2.1-1.4 2.5-1 2.8-0.6 13.7-0.7 29.6-0.5 1.3-0.2 0.2-0.6-2.6-5.4-1.2-3.6-5.5-27-3.1-26.4-0.2-9zM125.7 37.2l-0.1 3.6-0.8 5.5-2 7.1-2 4.7-2.6 3-3 2.5-2.2 1.2-3.9 1-6.3 0.8-7.6 0-51.4-3-43.8-1.9 0-21.4 39.2-0.4 30-0.8 15-1 12.6-0.4 10-0.8 7.4 0.2 6.6 1 4-2.1 0.4 0.1z"/>
<path fill="#0050ff" d="M187.8 28.7l1 1.3 2.7 7.2 4.8 10.6 1.1 3.4 1 4.6 1.2 7.4 1.2 13.4 0.4 3.2 2.4 9 0.9 7-0.2 5.4-0.5 0.6-2.6 1-0.3 1.4 1.9 6.9 4 9.8 6 12.3 6 10.6 4.4 7.1 5 6.8 6 6.9 6.6 6.4 7 6.2 10 8 5 5.6 0.6 1.2-121 0 0-52.8 0.4-12.6 0.4-7.4 0.8-5.4 1.1-4.6 1.4-3 1.7-2 2.2-1.4 2.8-1 2.6-0.4 13-0.7 29-0.5 1.5-0.4 0-1-2.5-5.4-1.2-3.6-5.2-25.6-3.1-27-0.1-6.4zM124.6 40.8l-0.1 3-0.8 4.4-1.9 6.7-1.6 3-3 3.3-3 2.3-3.2 1.3-4.4 1-5.4 0.5-7.3-0.1-50.1-2.7-43.8-1.9 0-21.2 58.2-0.8 19-0.7 7-0.6 12.6-0.1 9-0.7 8.4 0.6 3 0.7 3.6 1.2 3-0.7 0.4 0.3z"/>
<path fill="#0060ff" d="M188.2 31.8l1 1.2 6.6 14.2 1.4 4 1.2 5.6 1.2 8 1.2 14.7 2.1 10.7 0.6 5.6-0.2 5.4-2.1 1.3-0.3 0.7-0.1 1 2 7.3 3.4 9 7.6 15.4 6 10.6 5.4 8.3 4.6 5.9 5 5.7 15.9 15.8 7 8.6 0.5 1.2-115.6 0 0-52.8 0.4-11 0.6-8 0.8-5.4 1.4-5 1.4-3 1.7-2 1.9-1.4 2.6-1.2 2.4-0.5 4.4-0.5 10.3-0.4 27.4-0.6 1.7-0.4-0.1-1-2.3-4.6-1.5-4.4-5.1-25.6-2.8-25.8-0.1-5.2zM123.2 44.2l-0.2 3.6-1.2 5.4-1 2.7-1.7 2.3-2.9 3-2.4 1.8-4.6 1.6-4.4 0.9-5 0.5-7-0.1-58-3-34.8-1.4 0-21 58.2-0.8 19.6-0.6 6.4-0.6 12 0.1 9.6-0.4 6 0.6 4.4 1 2.2 1 2.4 1.4 1.6 0.6 0.5 0.4z"/>
<path fill="#0070ff" d="M188.8 34.5l0.4 0.3 1 1.7 5.6 11.2 1.2 3.5 1.4 6.6 1.2 8.4 1.2 16.7 1.4 8.3 0.4 4.6 0 5-0.2 0.4-1.5 1.6-0.2 1.4 1.5 6.2 3 8.4 7.6 16 6 11 4.4 7.3 8 10.6 13.4 15.1 9 12 0.5 1.2-111.2 0 0-52.2 0.3-9.3 0.7-7.7 0.9-6.6 1.3-5 1.7-3.5 2-2.4 2-1.5 3-1.3 3.4-0.7 14-0.9 27-0.7 0.7-0.4-0.4-1.6-2.3-4.4-1.2-3.6-5-25-0.9-6.4-1.9-18.6 0-4.4zM121.8 47.8l-0.3 3.4-1 3.6-1.6 2.4-2.8 3-2.3 1.9-2.6 1.1-4.4 1.4-4 0.7-5 0.3-6.6-0.1-91.2-4.1 0-20.8 57.8-0.7 19.4-0.6 7-0.5 12 0.3 9-0.2 6.6 0.9 2.4 0.6 2.6 1.1 1.9 1.3 1.4 1.4 1.3 2z"/>
<path fill="#0080ff" d="M189.2 36.8l1 0.9 1.6 2.5 3.7 7.6 1.4 4 1.5 7 1.1 8 1.1 18.4 1.2 10.6-0.1 5-0.9 1.9-0.1 1.5 1.5 6.6 3 8.6 7 15.3 5.6 10.4 4 6.8 6.4 9.4 11.2 13.9 10.7 15.6 0.5 1.2-107.4 0 0-52.2 0.3-6.6 0.7-8.8 1.1-7.2 1.5-5.2 1.7-3.8 1.7-2.1 2.4-1.9 3.4-1.4 3.2-0.8 12-0.9 27-0.6 1.5-0.3 0.5-0.4-0.2-1-2.8-5.4-1-2.9-4.9-24.7-0.9-6.6-1.7-17.4 0-4zM120.4 49.8l-0.1 2.4-0.9 2.6-2.1 3-2.5 2.5-2.3 1.5-3.4 1.4-3.9 1.1-4 0.7-5.4 0.2-7-0.1-88.8-3.8 0-20.6 58.2-0.7 19.6-0.5 6.4-0.5 12 0.6 8.6 0 6.7 1.2 2.7 0.9 2 1.1 1.8 1.4 1.1 1.6 0.9 2z"/>
<path fill="#008fff" d="M189.8 38.7l1 0.8 1 1.5 3.5 6.8 1.4 4 1.7 8 1.2 10 0.7 18.4 0.6 7.6-0.1 2.8-1-1-1.6-2.4-1.5-4-5-24.4-1.1-7.6-1.4-16 0-3.4zM118.9 50.2l-0.1 2.4-0.9 2.2-1.7 2.5-2.4 2.5-3.3 2-3.3 1.3-3.4 0.9-3.6 0.5-8 0.3-19.5-0.6-72.7-3 0-20.4 58.2-0.7 25.6-0.8 12.4 0.8 7.6 0.1 6 1.1 2.7 0.9 2.3 1.2 1.6 1.4 1.2 1.4 0.9 2zM150.5 107.2l2.2-2 2.7-1.4 2.8-1.1 4.6-0.8 10-0.7 28-0.8 0.3 0.8-0.6 2 0.2 1.6 2.5 9.7 4 10.3 5.6 11.6 5 9.7 4.4 7.7 12.5 18 12.3 19 0.5 1.2-103.9 0 0-52.2 0.4-7.6 1-9 1.3-7 1.9-5.4z"/>
<path fill="#009fff" d="M117.3 50.2l-0.1 2-0.8 2.6-1.7 2.4-2 2-3.2 2-3.3 1.4-3.4 1-3.6 0.4-8.4 0.3-20.6-0.4-70.2-2.8 0-20.2 68.2-0.8 15.6-0.5 12 1 7 0.2 5.4 1 2.6 1 2.4 1.2 1.6 1.2 1.2 1.6 0.8 1.4zM190.2 40.4l1 0.7 1.6 2.3 2.8 5.8 1.2 3.8 1.8 8.8 0.7 5.4 0.4 7.6 0.3 20-0.2 1.4-0.6-0.2-1-1.4-1.5-3.8-5-25-0.9-7-1.1-14.6 0-3zM151.4 107.8l2.2-2 2.6-1.6 3-1.1 4-0.9 11.3-1 25.8-0.4 0.3 0.4-0.2 2 0.4 2.3 2.4 9.4 3.6 9.3 5 11 9 17.3 9.9 15.7 13.6 22.6 0.4 1.2-100.7 0 0-52.2 0.4-6 1.1-10 1.5-7 1.8-5z"/>
<path fill="#00afff" d="M115.6 50.8l-0.2 2-1 2.4-1.4 2-2.3 2-2.5 1.6-3.3 1.4-3.1 0.8-4 0.6-8.6 0.3-20-0.3-69.2-2.6 0-20 67.8-0.6 16-0.4 18 1.5 5.4 1 4.6 2.1 1.4 1.2 1.2 1.4 0.8 1.6zM190.8 42l1 0.7 1.4 2.2 2.5 5.3 1.6 6 1.4 7.6 0.7 6.4 0.3 10.6-0.5 12-0.4 1.5-0.6-0.5-1-2.1-1-3.7-4.4-23.2-0.8-6.6-0.8-12.4 0-3zM152.3 108.2l2.5-2.1 3-1.7 3.3-1.2 4.6-1 4.3-0.4 10.8-0.6 18-0.4 1.4 0.3 0.6 4.7 2.4 9.6 3 8.2 4 9.2 9 18.1 22.7 39.9 0.4 1.2-97.8 0 0-52.2 0.3-4.6 1.2-10 1.5-7.4 2.1-5.6z"/>
<path fill="#00bfff" d="M0 41.1l84.2-0.7 18 1.8 4.6 1.2 2.8 1.4 2.5 2 1.4 2.4 0.3 2.6-0.4 2-1.2 2.1-1.6 1.9-2.6 2-2.8 1.4-2.4 0.8-6.6 1.1-11 0.3-20.9-0.2-64.3-2.3zM191.2 43.5l1 0.7 1 1.4 2.4 5.2 1.8 7 1.4 7.3 0.5 6.1 0.2 10-0.8 10.6-0.5 0.7-0.4-0.5-1-2.8-4.9-25-0.7-6.4-0.5-10.6 0.1-2.9zM153.2 108.7l2.6-2.2 3.2-1.7 4.5-1.6 4.7-0.9 5.3-0.5 9.6-0.6 15.1-0.3 1.8 0.3 0.8 5 2 8 2.4 7.4 3.6 8.6 9.4 20 13 24.8 8.7 15.8 0.4 1.2-95.3 0 0-51.8 0.2-4.5 1.3-9.9 1.7-7.7 2.2-5.3z"/>
<path fill="#00cfff" d="M112 50.8l-0.1 2-0.8 2-1.4 2-2.2 2-2.5 1.4-2.6 1-3.2 0.8-4 0.5-11.4 0.5-19 0-64.8-2.2 0-19.6 84.2-0.4 17 2.1 4 0.9 3 1.4 1.8 1.6 1.5 2zM191.8 45.1l0.4 0.2 1 1.1 2.2 4.4 1.8 7.1 1.5 7.9 0.5 7 0.1 9-0.6 6.4-0.5 2.2-0.4 0.2-0.6-0.9-1-4.1-4.1-21.8-0.6-6-0.4-9 0.1-2.9zM154.2 109.1l2.6-2.1 3.1-1.8 4.2-1.4 4.3-1 5.8-0.8 7.6-0.5 15-0.5 3 0.3 0.3 0.5 0.7 4.7 2 8.2 2.4 7.5 3 7.5 9.6 20.7 11 22.4 9.4 18 0.3 1.2-93 0 0-51.8 0.3-3.9 1.4-10.1 1.7-7.4 2.3-5.6z"/>
<path fill="#00dfff" d="M0 41.4l49.8-0.3 34.4 0.1 16.6 2.4 4 1.1 2.4 1.4 1.7 1.7 1.1 2 0.2 2-0.5 2-1.1 2-1.8 2-2 1.4-2.4 1-2.6 0.8-7 1-15.6 0.6-14.4 0.1-62.8-2zM192.2 46.6l0.6 0.2 1 1.3 1.4 3.2 2 7.5 1.3 7 0.5 6 0.1 8.4-0.5 5.6-0.4 2.1-0.4 0.9-0.6-0.6-0.4-1.6-4.5-22.8-0.5-6-0.2-7.6 0.2-2.8zM199.3 101.2l0.6 0.6 1.3 7.4 2 7.6 4.6 12.4 15 33.5 13.8 28.1 0.3 1.2-90.9 0 0.1-53.8 1.1-8.4 1.3-6.6 1.7-5.4 2-4.3 2.6-3.4 3-2.6 4-2.2 4.7-1.5 6.3-1.3 8-0.7 11.8-0.6z"/>
<path fill="#00efff" d="M0 41.5l49.8-0.2 34 0.4 15.7 2.5 3.7 1.1 2.6 1.3 1.4 1.5 0.9 1.7 0.3 2-0.5 2-1.2 2-1.5 1.5-2.1 1.5-2.4 1-2.9 0.7-7.6 1-14.4 0.8-15.6 0-60.2-1.8zM192.8 48.2l1 0.8 1.4 3.2 2 7.5 1.1 6.1 0.5 5.4 0.1 8-0.5 5-0.6 2.6-0.6-0.3-0.4-1.5-4.2-20.8-0.5-5-0.1-6 0.2-4zM156.2 110l2.8-2.2 3.8-2 4-1.4 4.7-1.2 6.9-1 6.5-0.4 12.9-0.5 1.4 0.1 0.5 0.4 3.1 13.8 4.4 13 14 32.9 13.9 29.3 0.3 1.2-88.8 0 0.2-54.2 1.4-9.6 2.1-8 2.6-6z"/>
<path fill="#00ffff" d="M0 41.6l52.2-0.1 31.6 0.7 14.4 2.7 4 1.2 2.1 1.1 1.4 1.6 0.7 1.4 0.1 1.6-0.5 2-0.9 1.4-1.4 1.6-2.5 1.5-2.4 1-3.6 0.8-9.4 1.1-12.6 0.7-15 0.1-58.2-1.6zM193.2 49.9l1 1 1.6 4 1.4 5.8 1 5.9 0.4 5.2 0 6-0.3 4.4-0.5 2.3-0.6 0-0.4-1.3-3-13.6-1-5.4-0.4-5 0-4.4 0.3-4zM157.5 110.2l2.7-2.1 3.5-1.9 4.2-1.4 4.3-1.1 5.4-0.9 7.6-0.8 13.6-0.5 0.6 0.3 3.4 14.2 4 12 13.4 33.1 13.4 29.7 0.4 1.2-86.8 0 0.2-54.2 1.7-10 2.1-7.6 2.6-5.4 1.8-2.6z"/>
<path fill="#10ffef" d="M0 41.8l52.2 0 31.6 0.9 11.9 2.5 5.1 1.6 1.8 1 1 1 0.8 1.4 0.2 1.6-0.6 2-1 1.4-1.8 1.5-2 1.1-6 1.7-10.4 1.3-11.6 0.7-15 0.2-56.2-1.4zM193.8 51.8l1 1.4 1.4 4.4 1 4.2 0.9 5.4 0.3 5.6-0.1 6-0.5 3.4-0.6 0.2-0.4-1.1-2-8.2-1.8-9.3-0.3-4 0-4.6 0.5-3zM199.2 101.9l0.6 1.2 3 13.4 4 12.2 13 33.1 12.5 29 0.3 1.2-84.7 0 0-53.2 1.2-7 1.3-6 1.8-5.6 1.9-4 2.7-3.7 3-2.8 3.8-2.5 5-2 6-1.4 7.2-1.1 11.6-0.9 4.8-0.2z"/>
<path fill="#20ffdf" d="M0 42l53.2 0.1 17 0.5 13 0.7 10.6 2.5 4.8 1.4 1.9 1 1.1 1 0.6 1 0.2 1.6-0.7 2-1.3 1.4-2.2 1.4-2.4 1.1-7.6 1.7-11 1.2-11.4 0.6-12.6 0.1-53.2-1.2zM193.8 53.8l0.4 0 0.6 0.7 1 2.4 1 3.6 1 5.4 0.3 4.3 0.1 4.6-0.4 4.6-0.6 0.8-0.4-0.8-1.6-5.3-1.8-9.3-0.4-7 0.2-2.5zM159.5 111.2l2.7-2.1 3.4-1.9 3.9-1.4 4.7-1.4 6.4-1.2 8.2-0.9 8.4-0.5 1.6 0.1 0.4 0.3 3.6 14.7 3.4 11 12.6 33.2 12.3 29.7 0.3 1.2-82.8 0 0.1-53.8 1.8-9.4 2.4-7.6 2.9-5.6 1.7-2.4z"/>
<path fill="#30ffcf" d="M0 42.1l52.8 0.3 17 0.6 13 1 9.1 2.2 4.4 1.6 1.8 1 1.1 1 0.5 1 0.1 1-0.6 1.4-1.3 1.6-2.1 1.3-2.6 1-8 1.9-10.3 1.2-10.7 0.6-12.4 0.2-51.8-1.1zM194.2 55.6l0.6 0.3 1 2.2 1 3.6 0.8 4.5 0.3 7-0.1 2.7-0.6 1.8-0.4-0.3-1-2.7-2-9.2-0.4-6.7 0.4-2.5zM198.8 102.1l0.4 0.4 0.6 1.6 3 13.3 3.4 11.2 12 32.9 11.8 29.3 0.3 1.2-81 0 0-53.2 1.1-6 1.4-5.6 1.5-4.4 1.9-4.3 2.6-3.8 3-3.2 3.9-2.7 4.2-2 5.9-1.8 7-1.4 11-1.3z"/>
<path fill="#40ffbf" d="M0 42.3l49.8 0.3 14 0.5 12 0.8 8 1 7.5 2.3 4.1 2 1 1 0.2 1.6-0.7 1.4-1.1 1.2-2.3 1.4-2.6 1-7.7 1.8-10 1.3-10.4 0.6-12 0.2-49.8-0.9zM194.8 57.5l0.4 0.6 1 2.8 1.2 5.9 0.2 6-0.4 2.3-0.4 0.4-0.6-0.9-1-3.1-1.2-6.7-0.2-5 0.4-2.2zM198.8 102.4l0.4 0.5 0.6 1.6 3 13.4 3 9.9 12 34 11.3 29 0.2 1.2-79.3 0 0-53.2 1.1-5.6 1.4-5.4 1.6-4.6 1.9-4 2.7-4 3.1-3.2 3.9-2.8 4.2-2 5.9-1.8 7-1.5 9-1.1 5-0.5z"/>
<path fill="#50ffaf" d="M0 42.5l46.8 0.3 13 0.5 13.2 0.9 7.7 1 4.4 1 3.8 1.6 2.8 1.4 1.1 1 0.3 1.6-0.9 1.4-1.1 1-2.8 1.6-2.7 1-7.4 1.6-9.4 1.2-10.6 0.6-12 0.1-46.2-0.7zM194.8 59.4l0.4 0.3 0.6 1 1.1 5.1 0.4 5-0.5 2.5-0.6-0.4-0.4-1.2-1.4-5.9-0.2-4.6zM198.8 102.8l0.4 0.6 0.6 1.5 3 13.5 3 10.1 11.4 33.5 10.9 28.8 0.3 1.2-77.7 0 0.1-52.8 1-5.2 1.4-5.5 1.6-4.3 1.8-4 2.6-4 3.3-3.4 3.7-2.8 4.6-2.2 6.1-2 6.9-1.5 11.4-1.5z"/>
<path fill="#60ff9f" d="M0 42.7l45.8 0.4 13.4 0.6 10.6 0.8 8.4 1.2 5.6 1.3 4.2 2.2 1 1 0.3 1.6-0.9 1.4-1.2 1-4.4 2.1-7.6 1.8-9.7 1.1-9.7 0.6-12.6 0.2-43.2-0.6zM195.2 61.7l1 2.4 0.6 3.1 0 2.7-0.6 0.8-1-2.7-0.4-3.2 0-2.1zM198.8 103.2l0.4 0.6 0.6 1.5 3 13.6 2.6 9.3 11.4 34 10.7 29.8-76 0 0-52.8 0.9-4.4 1.6-5.6 1.4-4 1.8-3.9 2.6-4.1 3.2-3.4 4-3 4.2-2.3 6-2.1 7-1.6 10.5-1.6 3.1-0.2z"/>
<path fill="#70ff8f" d="M0 43l41.8 0.4 12.4 0.4 11 0.9 8.7 1.1 6.5 1.4 2.6 1 1.5 1 0.9 1 0.3 1-0.5 1.6-1 1-3.9 2-6.5 1.7-9.6 1.3-9.4 0.6-13 0.2-41.8-0.5zM198.8 103.6l1 2.1 3 13.8 2.4 8.9 3.8 10.8 7.2 23.2 10.4 29.6-74.3 0 0-52.8 2.3-9 3.2-7.6 2.7-4.4 3-3.4 3.8-3 4.4-2.6 5.5-2.1 7-1.7 10-1.7 3-0.3z"/>
<path fill="#80ff80" d="M0 43.2l39.2 0.4 21.4 1.2 8.6 1 7 1.4 2.9 1 1.8 1 0.9 1 0.3 1-0.5 1.6-1.1 1-4.3 2-6.2 1.4-8.8 1.2-9 0.6-12.4 0.3-39.8-0.4zM198.8 104l1 2.1 3 13.9 2.4 9.1 3.5 10.1 7.3 24 9.7 28.8-72.6 0 0.1-52.8 2-8 3.1-7.4 2.8-4.6 3-3.4 3.7-3.1 4.4-2.7 5.6-2.2 7-1.9 10.4-1.8 2.6-0.2z"/>
<path fill="#8fff70" d="M0 43.5l37.8 0.5 12 0.5 9.4 0.7 8 1 6.6 1.6 3.3 1.4 1.1 1 0.3 1-0.2 1-0.9 1-1.5 1-2.4 1-6.3 1.7-9 1.2-9 0.5-12 0.3-37.2-0.2zM198.8 104.5l1 2.1 3 14 2 7.6 3.5 11 7.3 24.6 9.2 28.2-70.8 0 0-52.8 2.1-7.4 2.9-7 2.7-4.6 3.1-3.6 3.9-3.4 4.1-2.4 5.4-2.4 6.6-1.9 10.4-1.9 2.6-0.3z"/>
<path fill="#9fff60" d="M0 43.7l35 0.5 20.8 1.2 7 0.9 6.8 1.5 3.7 1.4 1.2 1 0.4 1-0.3 1-1 1-1.7 1-2.6 1-6.4 1.6-7.1 0.9-8.9 0.5-11.7 0.4-35.2-0.2zM198.8 105l1 2 3 14.2 2 7.7 3.2 10.3 7 24.6 8.8 28.2-68.9 0 0-52.8 1.9-6.5 2.6-6.5 2.6-4.4 3.2-4.1 3.9-3.5 4.1-2.6 5.2-2.4 6.4-2 10-2 2.4-0.4z"/>
<path fill="#afff50" d="M0 44l34.8 0.6 18.5 1.2 7.5 1 6 1.4 3.3 1.6 0.6 0.4 0.4 1-0.4 1-1 1-3.2 1.6-5.8 1.4-7.3 1-8.6 0.6-11.6 0.4-33.2-0.1zM198.8 105.5l1 2 3 14.4 2 7.8 2.9 9.5 7.1 25.8 8.1 27-67.1 0 0-52.8 1.8-6 2.5-6 2.9-5 3.2-3.9 3.6-3.2 4.3-2.9 5.3-2.4 6.1-2 9.7-2.2 2.6-0.3z"/>
<path fill="#bfff40" d="M0 44.3l33.2 0.7 18.8 1.2 6.8 1 4.1 1 3.3 1.6 0.6 0.4 0.4 1-0.4 1-1.1 1-3.4 1.6-4.5 1.1-6.4 0.9-18.9 1-32.5 0zM198.8 106.1l1 1.9 4.4 20.6 3.2 10.6 6.8 26.2 7.7 26.6-65.2 0 0.1-52.8 1.5-5 2.5-5.8 2.6-4.6 3-4 3.7-3.6 4.2-3 5.5-2.7 6.4-2.2 9.6-2.2 2-0.2z"/>
<path fill="#cfff30" d="M0 44.6l29.2 0.7 18.6 1.2 6.1 0.7 4.7 1 3.6 1.6 0.6 0.4 0.5 1-0.9 1.6-3 1.4-4.6 1.2-6.6 0.9-18 1-30.2 0.2zM198.8 106.6l1 1.9 4.4 20.9 2.9 9.8 6.7 26.6 7.2 26.2-63.3 0 0-52.2 1.1-4 2.4-6 2.9-5 3-4 3.5-3.6 4.2-3 5-2.7 6-2.3 9.7-2.4 2.3-0.3z"/>
<path fill="#dfff20" d="M0 45l28.2 0.7 15.6 1.1 7.6 1 4.3 1 2.4 1 0.7 0.4 0.5 1-0.5 1-0.5 0.6-3.1 1.3-5 1.1-5.4 0.7-17 1-27.8 0.3zM198.8 107.2l1 1.9 4 19.1 3 11 5.4 23 7.9 29.8-61.4 0 0-52.2 0.6-2.6 2.5-6 2.6-5 3.3-4.4 3.4-3.6 4.1-3.1 5.2-2.9 6.3-2.4 9.1-2.5 2-0.2z"/>
<path fill="#efff10" d="M0 45.4l26.2 0.8 15.4 1 6.6 1 3.6 0.9 2.6 1.1 0.6 1-0.6 1-0.7 0.6-2.4 1-4.5 1-6 0.7-16 1-24.8 0.3zM198.8 107.9l0.4 0.5 1 3.2 3.6 17.3 2.7 10.3 5.3 23.2 7.4 29.6-59.5 0 0.1-52.2 0.4-2 2-5.2 2.6-4.8 3.1-4.6 3.8-4 4.1-3.2 5-2.9 6-2.5 9-2.6 2-0.3z"/>
<path fill="#ffff00" d="M0 45.8l23.8 0.8 14.4 1.1 8.8 1.5 2.4 1 0.7 1-0.7 1-2.6 1.2-3.6 0.8-6.4 0.9-15 0.9-21.8 0.4zM198.8 108.5l1 1.7 3.4 17.3 2.9 11.3 5.1 23.6 7.1 29.6-57.5 0 0-52.2 0.4-2 1.6-3.7 2.7-5.3 3.1-4.6 3.6-3.9 4-3.3 5.4-3.2 5.8-2.6 8.4-2.5 2-0.3z"/>
<path fill="#ffef00" d="M0 46.3l19.8 0.7 13.4 1 7.7 1.2 2.9 1 0.8 1-0.8 1-2.6 1-9 1.5-13.4 0.8-18.8 0.5zM198.8 109.2l0.4 0.5 1 3.1 3 15.4 2.8 11 4.8 23.1 6.8 29.7-55.7 0 0-51.8 0.3-2 1-2.6 2.7-5.4 3.3-4.9 3.6-3.9 4-3.4 5-3.2 5.4-2.6 8.6-2.8 1.4-0.3z"/>
<path fill="#ffdf00" d="M0 46.8l15.2 0.6 12.6 1 8.2 1.4 2.2 1 0.2 0.4-1 1-1.3 0.6-4.3 0.9-4.6 0.5-12 0.8-15.2 0.5zM198.8 110l0.4 0.4 1 3 2.6 13.2 2.8 12.2 4.6 23.3 6.6 29.9-53.8 0 0-51.8 0.1-1.4 0.7-1.7 2.6-5.3 3.2-5 3.6-4.3 4-3.5 4.9-3.2 5.7-2.8 8-2.8 1.4-0.3z"/>
<path fill="#ffcf00" d="M0 47.4l10.8 0.5 11.1 0.9 6.4 1 1.7 0.4 0.9 0.6 0.3 0.4-0.3 0.6-2.8 1-6.3 0.9-9.6 0.7-12.2 0.5zM198.8 110.7l0.4 0.4 0.6 1.1 3 15.1 2.7 11.9 4.7 25 5.9 27.8-52 0 0-51.8 0.5-2.4 2.6-5.3 3.1-4.7 3.5-4.2 4.3-3.8 4.7-3.2 5.5-2.8 7.5-2.8 1.4-0.3z"/>
<path fill="#ffbf00" d="M0 48.1l15.7 1.1 5.5 1 1.2 0.6 0.3 0.4-0.4 0.6-1.3 0.4-5.2 1-15.8 1zM198.8 111.5l0.4 0.4 0.6 1 3 15.2 2.4 11.1 4 22.1 6.2 30.7-50.1 0 0-51.8 0.5-2.3 2.6-5.1 3-4.6 3.4-4 4-3.6 4.8-3.4 5.2-2.6 7.2-2.8z"/>
<path fill="#ffaf00" d="M0 49l8.2 0.8 3.6 0.8 0.8 0.6-0.7 0.6-2.1 0.5-9.8 1zM198.8 112.4l0.4 0.3 0.6 1 0.4 1.9 2.6 13.3 2.1 9.9 3.9 21.9 6 31.3-48.3 0 0-51.2 0.3-2.6 2.6-5 3.1-4.4 3.4-4 3.9-3.5 4.4-3.2 5.3-2.9 6.7-2.6z"/>
<path fill="#ff9f00" d="M198.8 113.2l0.4 0.4 0.6 1 4.9 24.2 4.1 23.9 5.4 29.3-46.5 0 0-51.2 0.3-2.6 2.5-4.4 3.1-4.6 3.5-4 3.7-3.3 4.4-3.1 5-2.8 6-2.5z"/>
<path fill="#ff8f00" d="M198.8 114.2l0.4 0.3 0.6 0.9 0.4 1.8 4.3 21.6 3.7 23.2 5.4 30-44.7 0 0-51.2 0.4-2.6 2.5-4.3 3-4.2 3-3.5 3.7-3.4 4.3-3.1 5.1-2.9 5.3-2.4z"/>
<path fill="#ff8000" d="M198.8 115.1l0.4 0.3 0.6 0.9 0.4 1.8 4.1 20.7 3.5 22.4 5.2 30.8-42.8 0 0-51.2 0.2-2 1.9-3.6 3.1-4.4 3.4-3.9 3.4-3.2 4.6-3.4 4.4-2.6 5-2.3z"/>
<path fill="#ff7000" d="M198.8 116.1l0.4 0.3 0.6 0.9 0.4 1.7 3.9 19.8 3.7 24.7 4.6 28.5-40.9 0 0-51.2 0.2-2 2.1-3.7 3-4.1 3-3.4 3.5-3.4 4.5-3.2 4.6-2.8 4.3-2z"/>
<path fill="#ff6000" d="M198.8 117.2l0.4 0.3 0.6 0.8 0.4 1.7 3.7 18.8 3.3 23.9 4.6 29.3-39 0 0-51.2 0.2-2 2.1-3.6 3-4 3.1-3.4 3-2.8 4.4-3.2 4.6-2.9 3.6-1.6z"/>
<path fill="#ff5000" d="M198.8 118.2l0.4 0.3 0.6 0.8 0.4 1.7 3.5 17.8 7.5 53.2-37 0 0-51.2 0.2-2 1.8-3.1 3-3.9 3-3.4 3-2.7 4-3.1 4.7-2.8 2.9-1.4z"/>
<path fill="#ff4000" d="M198.8 119.4l0.4 0.2 0.6 0.8 0.4 1.6 3.3 16.8 7.1 53.2-35 0 0-51.2 0.2-2 1.9-3 2.7-3.6 6-6 3.9-3 4.9-3 2-0.8z"/>
<path fill="#ff3000" d="M198.8 120.5l1 1.1 0.4 1.5 3.1 15.7 6.7 53.2-33 0 0-51.2 0.2-2 1.6-2.5 2.7-3.5 5.7-5.7 3.7-2.9 4.3-2.8 2-0.9z"/>
<path fill="#ff2000" d="M198.8 121.7l1 1 0.4 1.6 2.9 14.5 6.4 53.2-31.1 0 0.1-52.8 0.7-1.4 3.1-4 5.9-6 3.6-2.8 4-2.6 1.4-0.6z"/>
<path fill="#ff1000" d="M198.8 123l1 1 0.4 1.4 2.7 13.4 6 53.2-29 0 0.1-52.8 0.7-1.4 2.5-3.3 5.7-5.7 6.9-5.1 1.4-0.7z"/>
<path fill="#ff0000" d="M198.8 124.3l1 0.9 0.4 1.5 2.5 12.5 5.6 52.8-27 0 0.1-52.8 0.8-1.4 2.4-3 5.6-5.6 6-4.5 1-0.4z"/>
<path fill="#ef0000" d="M198.8 125.6l1 0.9 0.4 1.5 2.3 11.2 5.1 52.8-24.7 0 0.1-52.8 0.8-1.4 2-2.6 5.4-5.3 5-3.8 1-0.5z"/>
<path fill="#df0000" d="M198.8 127l1 0.9 0.4 1.4 2.1 9.9 4.6 52.8-22.5 0 0.1-52.8 0.5-1 2-2.4 5.2-5.2 4-3.1 1-0.5z"/>
<path fill="#cf0000" d="M198.8 128.4l1 0.9 0.4 1.4 1.8 8.5 4.2 52.8-20.2 0 0.1-52.8 0.5-1 1.6-2 5.1-5 3.5-2.6z"/>
<path fill="#bf0000" d="M198.8 129.9l1 0.8 0.4 1.4 1.6 7.1 3.6 52.8-17.8 0 0.1-52.8 0.5-1 1.6-1.8 5-4.8 2-1.5z"/>
<path fill="#af0000" d="M197.8 131.4l1.4 0.2 0.6 0.6 1 3.3 0.7 3.7 3.1 52.8-15.4 0 0-52.2 0.6-1.6 2.8-3 3.6-3.2z"/>
<path fill="#9f0000" d="M197.8 132.9l1.4 0.3 0.6 0.6 1.4 5.4 2.5 52.8-12.8 0 0-52.2 0.6-1.6 1.9-2 2.8-2.6z"/>
<path fill="#8f0000" d="M197.8 134.6l1 0 1 0.8 1 3.8 2 52.8-10.3 0 0.1-52.2 0.3-1 1.3-1.7 2-1.9z"/>
<path fill="#800000" d="M197.8 136.2l1 0 1 0.8 0.6 2.8 1.4 52.2-7.6 0 0.1-52.2 0.3-1 0.8-1 1.4-1.2z"/>
<rect x="0.6" y="0" width="1.6" height="192" fill="#fff" opacity="1.00"/>
<rect x="198.1" y="0" width="3.3" height="192" fill="#fff"/>
<path d="M0 170.7h7M300 170.7h-7M0 149.3h7M300 149.3h-7M0 128.0h7M300 128.0h-7M0 106.7h7M300 106.7h-7M0 85.3h7M300 85.3h-7M0 64.0h7M300 64.0h-7M0 42.7h7M300 42.7h-7M0 21.3h7M300 21.3h-7M40.0 0v3M40.0 192v-3M80.0 0v3M80.0 192v-3M120.0 0v3M120.0 192v-3M160.0 0v3M160.0 192v-3M200.0 0v3M200.0 192v-3M240.0 0v3M240.0 192v-3M280.0 0v3M280.0 192v-3" stroke="#111" stroke-width="1" fill="none"/>
<rect x="0" y="0" width="300" height="192" fill="none" stroke="#222" stroke-width="1.2"/>
<text class="n" x="-9.8" y="179.8" text-anchor="end">10</text>
<text class="n" x="-9.8" y="158.4" text-anchor="end">20</text>
<text class="n" x="-9.8" y="137.1" text-anchor="end">30</text>
<text class="n" x="-9.8" y="115.8" text-anchor="end">40</text>
<text class="n" x="-9.8" y="94.4" text-anchor="end">50</text>
<text class="n" x="-9.8" y="73.1" text-anchor="end">60</text>
<text class="n" x="-9.8" y="51.8" text-anchor="end">70</text>
<text class="n" x="-9.8" y="30.4" text-anchor="end">80</text>
<text class="n" x="-9.8" y="9.1" text-anchor="end">90</text>
<text class="n" x="-17" y="220.8" text-anchor="middle">0</text>
<text class="n" x="38.7" y="220.8" text-anchor="middle">0.2</text>
<text class="n" x="78.7" y="220.8" text-anchor="middle">0.4</text>
<text class="n" x="118.7" y="220.8" text-anchor="middle">0.6</text>
<text class="n" x="158.7" y="220.8" text-anchor="middle">0.8</text>
<text class="n" x="198.7" y="220.8" text-anchor="middle">1.0</text>
<text class="n" x="238.7" y="220.8" text-anchor="middle">1.2</text>
<text class="n" x="278.7" y="220.8" text-anchor="middle">1.4</text>
</g>
<g transform="translate(956.3 11.8)">
<rect x="0" y="122.26" width="21.3" height="2.24" fill="#00008f"/>
<rect x="0" y="120.32" width="21.3" height="2.24" fill="#00009f"/>
<rect x="0" y="118.38" width="21.3" height="2.24" fill="#0000af"/>
<rect x="0" y="116.44" width="21.3" height="2.24" fill="#0000bf"/>
<rect x="0" y="114.50" width="21.3" height="2.24" fill="#0000cf"/>
<rect x="0" y="112.56" width="21.3" height="2.24" fill="#0000df"/>
<rect x="0" y="110.62" width="21.3" height="2.24" fill="#0000ef"/>
<rect x="0" y="108.67" width="21.3" height="2.24" fill="#0000ff"/>
<rect x="0" y="106.73" width="21.3" height="2.24" fill="#0010ff"/>
<rect x="0" y="104.79" width="21.3" height="2.24" fill="#0020ff"/>
<rect x="0" y="102.85" width="21.3" height="2.24" fill="#0030ff"/>
<rect x="0" y="100.91" width="21.3" height="2.24" fill="#0040ff"/>
<rect x="0" y="98.97" width="21.3" height="2.24" fill="#0050ff"/>
<rect x="0" y="97.03" width="21.3" height="2.24" fill="#0060ff"/>
<rect x="0" y="95.09" width="21.3" height="2.24" fill="#0070ff"/>
<rect x="0" y="93.15" width="21.3" height="2.24" fill="#0080ff"/>
<rect x="0" y="91.21" width="21.3" height="2.24" fill="#008fff"/>
<rect x="0" y="89.27" width="21.3" height="2.24" fill="#009fff"/>
<rect x="0" y="87.33" width="21.3" height="2.24" fill="#00afff"/>
<rect x="0" y="85.39" width="21.3" height="2.24" fill="#00bfff"/>
<rect x="0" y="83.45" width="21.3" height="2.24" fill="#00cfff"/>
<rect x="0" y="81.51" width="21.3" height="2.24" fill="#00dfff"/>
<rect x="0" y="79.57" width="21.3" height="2.24" fill="#00efff"/>
<rect x="0" y="77.62" width="21.3" height="2.24" fill="#00ffff"/>
<rect x="0" y="75.68" width="21.3" height="2.24" fill="#10ffef"/>
<rect x="0" y="73.74" width="21.3" height="2.24" fill="#20ffdf"/>
<rect x="0" y="71.80" width="21.3" height="2.24" fill="#30ffcf"/>
<rect x="0" y="69.86" width="21.3" height="2.24" fill="#40ffbf"/>
<rect x="0" y="67.92" width="21.3" height="2.24" fill="#50ffaf"/>
<rect x="0" y="65.98" width="21.3" height="2.24" fill="#60ff9f"/>
<rect x="0" y="64.04" width="21.3" height="2.24" fill="#70ff8f"/>
<rect x="0" y="62.10" width="21.3" height="2.24" fill="#80ff80"/>
<rect x="0" y="60.16" width="21.3" height="2.24" fill="#8fff70"/>
<rect x="0" y="58.22" width="21.3" height="2.24" fill="#9fff60"/>
<rect x="0" y="56.28" width="21.3" height="2.24" fill="#afff50"/>
<rect x="0" y="54.34" width="21.3" height="2.24" fill="#bfff40"/>
<rect x="0" y="52.40" width="21.3" height="2.24" fill="#cfff30"/>
<rect x="0" y="50.46" width="21.3" height="2.24" fill="#dfff20"/>
<rect x="0" y="48.52" width="21.3" height="2.24" fill="#efff10"/>
<rect x="0" y="46.58" width="21.3" height="2.24" fill="#ffff00"/>
<rect x="0" y="44.63" width="21.3" height="2.24" fill="#ffef00"/>
<rect x="0" y="42.69" width="21.3" height="2.24" fill="#ffdf00"/>
<rect x="0" y="40.75" width="21.3" height="2.24" fill="#ffcf00"/>
<rect x="0" y="38.81" width="21.3" height="2.24" fill="#ffbf00"/>
<rect x="0" y="36.87" width="21.3" height="2.24" fill="#ffaf00"/>
<rect x="0" y="34.93" width="21.3" height="2.24" fill="#ff9f00"/>
<rect x="0" y="32.99" width="21.3" height="2.24" fill="#ff8f00"/>
<rect x="0" y="31.05" width="21.3" height="2.24" fill="#ff8000"/>
<rect x="0" y="29.11" width="21.3" height="2.24" fill="#ff7000"/>
<rect x="0" y="27.17" width="21.3" height="2.24" fill="#ff6000"/>
<rect x="0" y="25.23" width="21.3" height="2.24" fill="#ff5000"/>
<rect x="0" y="23.29" width="21.3" height="2.24" fill="#ff4000"/>
<rect x="0" y="21.35" width="21.3" height="2.24" fill="#ff3000"/>
<rect x="0" y="19.41" width="21.3" height="2.24" fill="#ff2000"/>
<rect x="0" y="17.47" width="21.3" height="2.24" fill="#ff1000"/>
<rect x="0" y="15.53" width="21.3" height="2.24" fill="#ff0000"/>
<rect x="0" y="13.58" width="21.3" height="2.24" fill="#ef0000"/>
<rect x="0" y="11.64" width="21.3" height="2.24" fill="#df0000"/>
<rect x="0" y="9.70" width="21.3" height="2.24" fill="#cf0000"/>
<rect x="0" y="7.76" width="21.3" height="2.24" fill="#bf0000"/>
<rect x="0" y="5.82" width="21.3" height="2.24" fill="#af0000"/>
<rect x="0" y="3.88" width="21.3" height="2.24" fill="#9f0000"/>
<rect x="0" y="1.94" width="21.3" height="2.24" fill="#8f0000"/>
<rect x="0" y="0.00" width="21.3" height="2.24" fill="#800000"/>
<path d="M0 96.0h5M21.3 96.0h-5M0 67.7h5M21.3 67.7h-5M0 39.5h5M21.3 39.5h-5M0 11.3h5M21.3 11.3h-5" stroke="#222" stroke-width="1" fill="none"/>
<rect x="0" y="0" width="21.3" height="124.2" fill="none" stroke="#222" stroke-width="1.2"/>
<text class="n" x="30.8" y="132.8">0</text>
<text class="n" x="30.8" y="104.6">0.5</text>
<text class="n" x="30.8" y="76.3">1.0</text>
<text class="n" x="30.8" y="48.1">1.5</text>
<text class="n" x="30.8" y="19.9">2.0</text>
</g>
<g transform="translate(87.6 287.8)">
<rect x="0" y="0" width="300" height="192" fill="#00008f"/>
<path fill="#00009f" d="M129.2 16l0.6 0.1 1.2 2.7 9.8 32 2.4 5.7 3.6 6.2 4 6 4.4 6 10 11.2 4 3.9 3.1 2.4 5 3.6 4.3 2.4 8.7 3.6 3.4 1 4.5 0.8 1-0.3 0.4-0.5 0.2-3.6-2-0.6-0.9-0.8-0.7-7.5-2-5-9.4-21.5-6.8-12.6-5-12-4.6-13-4.4-14.4-1.3-6.6 0-1.4 0.5-0.6 1 0.3 1 0.9 2.3 3.4 10.3 23.7 5.4 11.6 5 9.2 7.9 11.9 3.2 6 0.8 2.6 0.5 3.4 1.2 19.1 0.9 3.9 0.9 1.6 96.4 0.1 0 4.7-94.8 0-1 0.1-0.3 1.1 0.3 3.9 1.6 9.3 1 4.3 1.4 4.5 1.6 3 2.4 3.2 2.6 2.2 3.4 2.1 1.6 0.3 80.2 0.3 0 9.9-89.7 0.4-0.9 0.6 0.8 1 5 4 9 6.4 6 3.6 7.1 3.4 11.3 4.6 14.4 4.4 20.4 5 9.9 2 6.7 1.1 0 5.7-160.2 0 0.2-7.8 0.4-5.4 1-5.6 1-3.4 1.7-4 1.9-3.6 3-4 3.2-3.1 3.6-2.7 4-2.3 5-2.2 4.4-1.4 4.6-1.1 6-0.9 6.4-0.6 10-0.2 1.3-0.5-0.5-1-8.8-10-19.3-21.4-6.4-8-4.6-6.6-5.4-8.4-10.6-19-3.5-7-2.9-7-2.5-7.6-1.9-7.4-1.2-6-0.9-8.6-0.2-7zM30.4 5.8l-0.3 0.4-1.7 1-11.4 4.6-5.3 2.4-5.9 3.6-4.6 3.2-1.2 0.4 0-8.7 8.8-4.2 7.4-2.4 4.6-0.8 4.4-0.3 4 0.2zM179.8 6.2l0.4 0 15.3 36.6 3.9 10.4 1.1 4 0.2 3-0.2 3-0.7 1-0.6 0.3-1.4-0.2-0.8-0.5-0.8-4.9-5-14.7-8.7-23-2.1-6.4-1.2-5 0-2zM0 94.4l1.5 0.8 3.6 4 3 4 2.7 4.6 2.1 4.4 1.8 4.6 1.4 4.4 1.2 5.6 0.8 5.4 0.4 5.6 0 54.2-18.5 0z"/>
<path fill="#0000af" d="M164.2 6.5l0.6 0.1 1 1 2.4 4.3 9.6 21.9 6.4 13.3 3.6 6.2 6.7 10.5 4.7 8.6 1.2 5.4 0.5 8 0.1 11.4-0.2 0.9-0.6 0.4-2-0.1-0.8-0.6-0.4-1.6-0.2-5.1-2-5.3-9-20.6-6.9-13-4.9-11.4-4-11-3.9-12.6-1.9-7.4-0.2-2zM20.6 7.8l-0.2 0.4-1.4 1-9.1 5-8.7 6-1.2 0.4 0-7.1 0.8-0.1 6.4-3.3 4.6-1.7 6-1.1 2 0zM181.2 11.9l1.6 2.3 12.2 28.6 3.4 9 1.5 4.4 0.5 3-0.3 3.6-0.3 0.9-0.6 0.3-1-0.1-0.6-0.7-0.8-4.2-2.6-7.6-11.1-30.2-1.9-6.6-0.2-1.8zM129.8 17.8l0.4 0.6 1.3 3.4 7.3 24.1 2 5.9 3 6.5 3.4 5.9 7.6 10.5 6 7.1 5 5.3 3.9 3.7 3.1 2.4 4.3 3 4.3 2.6 5.8 2.4 4.2 1.6 3.9 1 3.5 0.5 1-0.5 1-3.1 0.4-0.6 1.6 1.6 1 0.3 96.2 0 0 2.5-95.2 0-1 0.2-0.6 1.1 1 7.4 1.6 8.4 1 3.9 1.4 4.2 2 3.7 2 2.4 2.8 2.4 3.2 2.1 1.6 0.2 80.2 0.3 0 8.1-91.8 0.4-1.6 0.5 0.5 1 4 3.4 9.7 7.6 7.1 4.4 7.9 4 12.7 5 14.9 4.6 21.6 5 15 2.4 0 4.8-159.8 0 0.4-11.8 0.9-6 1.5-5 1.9-4.4 2.2-3.6 2.4-3 3.3-3.1 3.4-2.6 4.6-2.6 4.4-1.8 5-1.6 8.6-1.6 6-0.5 13.2-0.6 0.2-0.6-0.6-1-12.4-14-13.2-14.4-9.1-11-4.9-7-5-8-10.4-18.6-3.1-6-3-7-2.5-7-1.9-7-1.5-7-0.7-4.4-0.7-10.6 0.1-1.4zM0 104.6l0.8 0.4 1.6 2.8 3.6 8 2.4 8 1.3 7.4 0.5 7 0 53.8-10.2 0z"/>
<path fill="#0000bf" d="M14.8 9.3l0.1 0.5-1 1-12.7 8.8-1.2 0.5 0-6 9.2-4 3.6-0.9zM165.2 10.2l0.6-0.1 0.4 0.5 2.6 4.2 9 20.5 6.4 13.2 3 5.2 6.8 10.5 5.2 9.6 1 4.4 0.5 8 0 10.6-0.3 1-0.6 0.4-1.6-0.1-0.8-0.9-0.5-6.4-2.1-5.5-9-20.6-6.4-11.9-5-11.6-3.4-9.4-3.4-10.6-1.9-7zM183.2 17.3l2 3.8 8.2 18.7 4.5 11.4 1.5 4.6 0.7 3-0.2 3.4-0.7 1.3-1-0.1-0.3-0.6-0.7-3.3-2.4-7.6-10.6-28.8-1.1-4.3-0.1-1zM129.8 20.1l0.4-0.3 1 2.4 7.6 24.6 2.4 6.9 4.6 8.6 6 8.9 6 7.6 8 8.7 4.5 4.3 6.9 5 6.4 3.4 4.9 2 4.7 1.6 5.6 1 1-0.1 1.4-1.3 0.8 0.4 0.4 1 3.4 17.8 2 6.6 1.4 3.2 2 2.9 2.6 2.6 2.4 1.9 2 1.2 1.6 0.2 80.2 0.3 0 6.7-92.8 0.5-2.4 0.2-0.2 0.3 1.2 1.6 8 7 7.9 6 6.5 4 9.3 4.4 13.4 5 14 4 20.4 4.6 14.7 2.2 0 4-159.6 0 0.1-7.2 0.5-6 1-5.6 1-3.4 1.9-4.6 2.1-3.4 2.8-3.6 3.4-3.3 3.6-2.5 3.4-2 4.6-1.9 4.4-1.5 4.6-1 6.4-1 6.6-0.6 11-0.3 0.7-0.3 0.1-0.6-0.8-1.4-22.8-25-10.6-12.6-7.4-10.4-8.1-13.6-9.4-17.4-2.9-7-2.1-6-2.4-8.6-1.4-7-0.8-8zM0 114.4l0.8 0.6 2.3 7.2 1.4 6.6 0.7 6 0.1 57.2-5.3 0z"/>
<path fill="#0000cf" d="M10.8 11.1l-0.3 0.7-1.6 1.4-7.7 5.9-1.2 0.5 0-5.1 7.8-3.2 2-0.4zM166.8 13.6l1 1.2 1.4 2.7 8.6 19.1 5.4 11.1 3.6 6.2 6.6 10.3 5.7 10.6 1 4.4 0.5 7-0.1 10-0.2 1-0.5 0.7-1 0.1-1.1-0.8-0.7-6.4-2.2-5.9-9-20.6-6.2-11.5-4.5-10.6-3.5-9.4-3.4-10.6-1.5-6-0.2-2zM130.2 21.8l0.6 0.3 1 2.7 6.9 22.4 2.5 7 4 7.7 6.6 9.7 6 7.6 7.4 8.2 4.7 4.4 5.9 4.4 5.9 3.6 7.1 3 5 1.5 7 1.1 0.5 0.4 0.9 1.3 0.6 1.5 3 14.8 1 3.6 1.4 3.9 1.6 2.8 2 2.7 2 2.1 3 2.4 1.4 0.7 81.8 0.5 0 5.5-55.8 0.1-37.4 0.5-3.6-0.5-0.3 0.5 0.3 0.6 3.6 4 7.4 6.7 8 5.8 6.6 3.9 9.6 4.6 12.4 4.4 14.1 4 19.3 4.2 15.8 2.4 0 3.2-159.5 0 0.5-12.2 0.9-5.6 1.1-4 1.6-4 2.3-4 2.6-3.4 3.3-3.2 3.4-2.7 4-2.3 5-2.1 4.6-1.4 5-1.2 7-0.9 16.4-0.7 0.6-0.4 0-0.7-0.7-1.4-23.2-25.6-9.8-11.4-7.2-10-7.9-13-10-18.6-5-12.4-2.4-8.6-1.4-7-1-8.7zM185.8 24l8 17.4 4.2 10.8 1.8 6.6 0 2.4-0.6 1.7-0.4 0.2-0.7-0.9-0.6-3-2.3-6.7-9-25.1-0.8-3.2zM0 126.4l0.2 0 0.6 1.3 0.4 2.5 0.6 7 0 54.8-1.8 0z"/>
<path fill="#0000df" d="M7.6 12.8l-0.6 1-5.8 4.8-1.2 0.6 0-4.2 5.8-2.3 1.4-0.2zM167.8 17.4l0.4 0.2 1.6 2.5 8 17.6 5.4 11 3 5.2 6.7 10.3 6 11 1.1 4.6 0.5 7-0.3 9.4-0.2 1-0.5 0.6-0.7 0-0.9-0.6-0.7-6.4-2-5-9-20.8-6.7-12.8-3.8-9-3-8-2.9-8.9-1.6-5.4zM130.8 24.3l0.4 0.4 1 2.7 6.4 20.4 2.5 6.4 4.1 8 6.6 9.8 5.4 6.9 7.6 8.3 4.7 4.6 5.3 4 5.4 3.5 6.4 2.9 5.6 2 7 1.5 1.3 0.5 1.7 2.9 0.6 1.2 3 13.8 2.4 7.3 1.6 2.8 2 2.7 5 4.7 1.4 0.6 81.8 0.5 0 4.3-54.2 0.2-39 0.5-3.6-0.3-0.9 0.4 0.5 1.1 5 5.8 7 6.3 8 5.8 7 4 9.8 4.4 12.6 4.5 13.6 3.7 19 4 15.2 2.3 0 2.3-159.3 0 0.4-11.8 0.9-5.4 1.4-5 1.6-4 2.4-4 2.8-3.6 3-2.9 4-2.8 3.6-2 5-2.1 4.4-1.3 5-1.1 7-0.9 16.6-0.9 0.2-1-0.8-1.6-22.2-24.4-9.9-11.4-6.6-9-8.4-13.6-10.6-19.4-4.9-12-1.8-6.2-2-8.8-1-8.8zM188.8 31.7l6 12.8 4 10.9 0.6 2.4 0.3 2-0.5 2.2-0.4 0.3-10.1-29.5z"/>
<path fill="#0000ef" d="M5 14.2l-0.6 1-3.6 3.4-0.8 0.2 0-3.4 3.8-1.3 1-0.1zM169.2 21.3l2 3.3 6.3 13.6 5.7 11.4 2.6 4.3 6.6 10.3 6.4 11.6 1.1 4.4 0.5 7-0.3 9-0.3 1-0.6 0.4-1-0.3-0.3-0.5-0.7-6.3-3-7.4-8-18.4-6.2-11.9-4.3-10-4.9-14.2-1.6-5.7zM131.8 28l1.4 3.5 5.4 16.7 2.5 6.6 4.5 8.4 6.6 9.8 5.6 6.8 7.4 8.3 4.6 4.2 5.1 3.9 5.6 3.6 6.5 3 5.8 2 6.4 1.2 1 0.7 2.6 5.3 3 12.7 2.4 7.1 3 5 5 5.2 2 0.7 81.8 0.7 0 2.9-54.8 0.3-39 0.7-4 0-0.2 0.5 0.8 1.7 3 3.8 3.4 3.8 6.6 5.7 8.4 5.9 7.5 4.1 9.1 3.9 11 3.8 10.4 3 17.6 3.9 20.2 3.7 0 0.9-159.2 0 0.2-7.8 0.4-5.4 1.1-5.6 1-3.4 1.9-4.6 2.2-3.4 2.3-3 3.3-3.3 3.6-2.6 3.4-2 4.6-2 4.4-1.4 6-1.4 5.6-0.7 6.4-0.6 11-0.3 0.8-0.3 0.1-1-0.3-1.3-23-25.1-9.9-11.6-5.9-8-7.5-12-10.8-19.4-2.5-5.2-2.5-6.4-1.9-6-2-8.1-1.1-6.3-0.2-4zM192.2 40.1l3.6 7.6 3 8.5 0.6 3-0.2 1.4-0.4 0.5-6.6-19.5-0.2-1.4z"/>
<path fill="#0000ff" d="M2.8 15.6l-1.2 1.6-0.8 0.8-0.8 0.3 0-2.4 2.2-0.5zM170.8 26l0.4 0.4 7.8 15.8 4.2 8 8.8 14 6.8 12.5 1 4.1 0.4 6-0.2 8.4-0.2 1.6-0.6 0.6-0.4 0-0.6-0.6-0.9-6.6-11.1-25.8-6.1-11.6-3.9-9.1-4-11.3-1-3.4zM132.8 33.7l0.4-0.2 1 2.3 5.8 17 4.2 8.4 3.5 5.6 5.1 7.2 4.4 5.6 5.6 6.1 4 4.2 3.7 3.3 4.7 3.6 4.7 3 5.1 2.4 5.1 2 4.1 1.2 5 1 0.6 0.4 0.7 1 0.7 2.7 2 4.4 2.8 11.3 2.2 6 3 5.1 5 5.5 2 0.4 15 0.3 66.8 0.9 0 0.9-76.8 1.1-21 0.7-0.4 0.4 0.4 1.6 3 4.3 3 3.4 4 3.9 4 3.4 5 3.7 8.6 5 9.4 4.2 13 4.6 12 3.4 21.9 5.2 2.9 1 0.7 0.8-148.7 0 0.1-7.2 0.4-5.6 0.9-5 1.1-4 1.6-4 2.3-4 2.7-3.4 3.1-3.1 3.6-2.6 3.4-2 4.6-2 5-1.6 6.4-1.4 5-0.7 7-0.5 10-0.2 1-0.5 0.1-1-0.5-1.4-22.3-24.6-10-11.4-5.9-8-6.5-10-11.4-20.6-4.5-9.6-2.4-7-1.6-5.5-1-4.9zM194.8 46.5l2 4.7 2 6.1 0.1 1.5-0.1 0.8-1-2.2-3-9.1-0.3-1.5z"/>
<path fill="#0010ff" d="M0 17.6l0-1.1 0.9 0.3-0.1 0.5zM172.8 31.2l10.2 19.6 8.9 14 4.5 8 2.4 4.6 0.9 3.8 0.4 5.6-0.2 7.4-0.2 2-0.5 0.9-0.4 0-0.6-0.7-0.8-6.2-11.1-26-6.1-11.6-3-6.9-3.4-9.7-1-3.6zM134.8 40.1l1 1.7 4.8 13 4.9 9 4.7 7 4 5.4 4.6 5.4 6.4 7.1 3.8 3.5 3.7 3 4.3 3 4.2 2.6 8.6 3.6 4.4 1.4 4.6 0.8 1.1 0.6 0.7 1.6 1.2 4.4 1.4 2.9 2.8 10.7 1.8 4.8 2.4 4.7 5 6.8 1 0.5 18 1.2-2.8 0.4-17.6 0.8-7 0.7-4 0.1-1 0.3-0.1 1.1 1.5 2.9 2.6 3.5 3 3.5 5 4.8 5.4 4.4 6 4 6 3.2 7.6 3.3 10 3.7 25.5 7.7 4.4 2 0.6 0.8-138.2 0 0.5-12.2 0.9-5.6 1.1-4 1.9-4.4 2-3.6 2.7-3.4 3.6-3.4 3.4-2.5 3.6-2 4.4-1.9 4.6-1.4 5-1.1 7-1 6.4-0.5 10.4-0.2 0.7-0.6 0.1-1-0.4-1.4-0.6-1-21.3-23-9.5-11-5.4-7-6-9-5.1-8.6-6.3-11.5-5-10-2.6-6.6-1.4-4.9-1.1-5-0.1-3z"/>
<path fill="#0020ff" d="M174.8 37.1l1 1.1 7.9 14.6 9.3 14.4 5.8 11 0.8 3.6 0.5 5-0.3 7-0.6 2.9-0.4 0-0.6-1.2-0.4-4.3-0.4-1.4-10.9-25.6-5.7-11-2-4.4-3-7.9zM136.8 48.2l0.4-0.1 3.3 7.1 3.5 6.6 6.7 10 7.5 9.4 9.6 10.2 7.3 5.8 7.1 4.3 8 3.4 4 1.1 4.6 0.8 1 0.6 0.7 1.8 0.7 4 0.6 1.4 1.4 2.7 4 13.5 2 4.3 4.3 6.7 1 3-1 0.4-2.7 0.7-8.6 0.8-0.8 0.5 0.4 1.6 2 3.6 5 6.3 4.4 4.5 4.6 3.8 5.4 4 5 3 5 2.5 6 2.6 23.9 8.7 6.8 3.4 0.5 0.8-129.2 0 0.5-12.2 0.9-5.6 1.3-4.4 1.7-4 2.4-4 2.8-3.4 3-2.8 3.4-2.6 3.6-1.9 4.4-2 5-1.5 5.6-1.2 6.4-0.9 16.6-0.7 0.4-0.3 0.3-0.7-0.3-1.8-0.4-1.1-21.5-23.1-7-8-6.1-7.6-5.6-8-7.4-12-9.4-17.7-2-4.6-2-5.7-0.9-4z"/>
<path fill="#0030ff" d="M177.2 42.6l6.3 10.6 8.7 13.4 3.8 6.6 2.8 5.7 0.8 3.3 0.4 4.6-0.2 6-0.6 3.2-0.4 0.1-1.3-6.3-11.1-26-6.2-12.1-3-7.9zM139.2 54.7l1 1.2 6.4 10.3 6.8 9.6 8.8 10.2 7 7 7 5.3 6.6 3.8 7.4 3.1 4 1.1 4.6 0.8 1 0.7 0.7 2 0.7 4.7 2.6 5.4 3.2 10.9 2.1 4.4 3.1 5.6 0.5 1.4-0.1 2-1.1 1-3.3 0.8-6.6 0.8-0.4 0.4 0.6 2 2 3.6 5 6.6 4 4.1 4 3.5 5 3.8 4.4 3 8 4.3 18.7 8.1 8.3 5 0.4 0.8-120.3 0 0.1-7.2 0.5-5.6 0.7-4.4 1.4-5 2-4.6 2.1-3.4 2.7-3.3 3-2.8 3.4-2.6 4-2.2 4.6-1.9 4.4-1.3 5.6-1.2 6.4-0.9 16.6-0.7 0.4-0.2 0.4-0.9-0.3-2-0.5-1.2-5-5.1-22-24.3-6.3-7.4-5.3-7.3-8-12.9-9-16.6-3-6.9-1-3.6z"/>
<path fill="#0040ff" d="M179.8 48.3l11 16.4 4.6 8.1 3.4 6.7 0.6 2.7 0.5 4.6-0.1 5.1-0.6 3.2-0.4 0.2-1.2-5.5-10.6-25-6.2-12.7-1-2.7zM141.8 60l8.7 12.2 5.1 6.6 8.6 9.7 6 5.7 6.6 4.7 6.4 3.7 7 2.9 4 1.1 4.6 0.8 1 0.8 0.6 2 0.8 5.7 0.6 1.4 1.4 2.4 3.8 11.5 4.1 8.6 0.5 2-0.2 2.4-1.2 1-3.4 0.8-4.6 0.5-1 0.3-0.1 0.4 0.1 1.1 3 5.7 3 4.2 3.6 3.9 4 3.9 5 4.2 8 5.5 14.3 8.1 9.9 7 0.9 1.2-111.5 0 0.1-7.2 0.5-5.6 0.7-4.4 1.3-4.6 1.6-4 2.3-4 2.8-3.4 3.1-3 3.5-2.6 3.9-2.2 4.6-1.8 5-1.6 5.4-1.1 6.6-0.8 16-0.6 0.5-0.3 0.4-1-0.3-2-0.6-1.4-5-5.2-20.6-22.5-7-8.3-5-6.8-7.4-11.8-8.6-15.5-2-4.1-1.4-3.8-0.4-2.2z"/>
<path fill="#0050ff" d="M182.2 53.4l5 6.6 3.6 5.4 4.5 7.8 3.5 7 0.6 2.6 0.4 4-0.1 4-0.5 3.4-0.4 0.2-0.9-4.2-11-26-4.7-9.8zM143.8 64.6l0.4 0 1 1.1 7.3 9.5 7.1 8.6 6.6 7 5 4.4 6.6 4.6 6.4 3.5 6.6 2.6 3.4 1 4.6 0.8 0.8 0.5 0.8 2.6 0.8 6.4 0.6 1.4 2 3.4 2.7 8.2 3.6 8.6 0.5 2-0.1 3-0.5 1-2.8 1-5 0.6-1.1 0.4-0.2 0.4 0.3 1.4 2 4.1 2.6 4 2.4 3.2 3.6 3.9 4 3.9 8 6.4 10.7 7.1 11.8 9.6 0.9 1.2-105.7 0 0.1-7.2 0.5-5.6 0.7-4.4 1.3-4.6 1.6-4 2.3-4 2.8-3.4 3.2-3 3.5-2.6 3.7-2 4.6-2 5-1.5 5.4-1.1 6.8-0.8 15.8-0.6 0.7-0.4 0.2-1-0.4-2.6-0.5-1.1-5-5.1-18.6-20.2-8-9.4-5-6.6-6.4-10-5.6-9.6-5.4-10.9-1-2.5z"/>
<path fill="#0060ff" d="M184.3 57.8l0.5-0.2 2 2.5 4.4 6.7 4.1 7 3.5 7.1 0.6 2.9 0.3 4-0.5 5.4-0.4 0.3-0.8-3.3zM146.2 68.7l0.6 0.1 1 1 7.6 9.4 8.6 9.6 4.8 4.6 4 3.2 6.4 4.4 6.6 3.3 6 2.2 7 1.4 0.5 0.3 0.6 1 0.5 2 0.8 7.2 0.6 1.4 1.4 2.4 1 2.2 2.4 6.8 2.6 6.6 0.4 2-0.1 4-0.5 1-2.2 0.8-5 0.7-0.9 0.5 0.1 1.4 1.8 3.9 4.4 7.1 6.6 7.3 6.4 5.8 11 8.5 11.3 10 0.8 1.2-101.7 0 0.1-7.2 0.5-5.6 0.8-5 1.2-4 1.6-3.8 2.4-4.2 2.8-3.4 3.2-3 3.5-2.6 3.6-2 3.9-1.6 4.6-1.5 6.1-1.3 6.3-0.9 16.6-0.6 0.8-0.5 0.2-1-0.3-2.6-0.7-1.3-4.6-4.6-17.4-19.1-8.6-9.8-5.4-7.2-6.6-9.9-5-8.7-4-8.1-1-2.7z"/>
<path fill="#0070ff" d="M186.2 60.7l2 2.2 4.6 7 3 5.4 3 6.2 0.5 2.3 0.3 4-0.4 4.3-0.4 0.4-0.8-2.7-7.8-17.9-3.4-9.1zM148.8 73l0.4-0.2 1 0.9 8.8 10.1 7.6 8 3.6 3.2 4.6 3.4 6.4 4 5.6 2.5 5.4 2 7 1.5 0.6 0.8 0.5 2 0.9 8.5 3.6 7.1 3.4 9.9 0.5 2.5 0 4-0.2 1-0.4 0.6-2.3 0.8-4.2 0.6-0.8 0.6 0.1 1.4 1.9 4.2 4.4 7.3 5.6 6.6 6 5.7 10.2 8.8 10.5 10 0.8 1.2-98.6 0 0.1-6.8 0.4-5.6 1-5.4 1-3.8 2-4.6 2-3.5 2.6-3.1 3-3 3.3-2.4 3.7-2.2 4.2-1.8 4.8-1.6 6.4-1.4 5.6-0.7 7-0.5 10-0.2 0.9-0.6 0.2-1-0.3-2.6-0.8-1.6-4.6-4.5-16.8-18.3-8.6-10-5-6.5-5.6-8.2-5-8.4-3.4-7-0.9-2.5z"/>
<path fill="#0080ff" d="M187.8 63.6l1.4 1.6 3.6 5.3 5.8 11.3 0.6 2.5 0.3 2.9-0.3 3.8-0.4 0.4-8-18.6-2.6-6.8zM151.7 76.8l2.1 1.6 13.4 14.3 3.6 3 5 3.6 6 3.6 5.4 2.5 5 1.7 6 1.2 1.1 0.5 0.9 2.4 1 9.7 0.6 1.4 2.4 4.4 3.1 8.5 0.6 3.6-0.1 4.4-0.2 1-0.4 0.6-2 0.7-4 0.7-0.6 0.6 0.2 1.2 1.4 3.7 4 7.1 5.6 7.1 6 6.2 9.3 8.7 9.9 10 0.7 1.2-95.9 0 0.4-11.4 1-5.8 1-4.1 2-4.8 2-3.4 3-3.7 3.3-3 3.6-2.6 3.7-2 3.5-1.4 4.9-1.6 5-1.1 6.6-0.9 7-0.5 10-0.2 0.6-0.3 0.5-1-0.2-3-0.9-1.8-4.6-4.5-16.6-18.1-7.8-9.1-5.6-7-5-7.4-5-8.5-2.4-5.4-0.5-1.6z"/>
<path fill="#008fff" d="M189.1 66.2l1.7 1.9 2.4 3.9 5.1 9.8 0.8 2.4 0.3 2.6-0.2 3.2-0.4 0.7-2-4.1-5.6-12.9-2-5.5-0.3-1.4zM154.2 80.6l0.6 0.1 1.4 1.2 12.6 12.5 4 3.1 4.4 3.1 5 2.8 6 2.7 4.6 1.4 5.4 1 1 0.5 0.6 0.9 0.4 1.9 1 10.3 4 8.6 1.4 4.5 0.5 4 0 4-0.2 1-0.4 0.6-1.3 0.5-4 0.8-0.7 0.7 0.1 1 1.2 3.1 4 7.5 5.4 7.6 5.6 6.2 8.2 8 10.1 11 0.2 0.8-93.3 0 0.1-7.8 0.5-5.4 0.6-3.9 1.6-5.2 1.9-4.5 2.1-3.2 2.6-3.2 3.3-3 3.6-2.6 3.7-2 3.6-1.4 4.8-1.6 4.8-1 6.8-1 7.7-0.4 9.1-0.2 0.8-0.4 0.4-1-0.2-3-0.9-2-4.7-4.5-16.4-17.9-9-10.5-4.6-5.9-4.4-6.8-4-6.9-1.6-3.7-0.2-1.8z"/>
<path fill="#009fff" d="M190.2 68.4l3.6 5.1 4.4 8.8 0.6 1.5 0.4 2.9 0 2.1-0.4 1.2-2-3.7-5.6-13-1.4-4.5zM157.2 84.2l2 1.4 10.6 10 8.4 5.9 4.6 2.5 6 2.5 4.4 1.4 5.6 1 0.4 0.3 0.6 1 0.4 2 0.6 7.9 0.4 3.2 3.9 8.9 0.9 3.6 0.4 3.4-0.3 5-1.4 1-3.9 1-0.5 0.6 1.5 4.3 4 7.8 5 7.1 5.4 6.6 7.3 7.6 9.2 10.6 0.6 1.2-91.2 0 0.1-7.8 0.5-5.4 1.1-5.5 1-3.3 2-4.5 2-3.3 2.4-3.1 3.1-2.9 3.4-2.4 3.6-2 4.7-2 4.9-1.6 4.9-1 7.4-1 16-0.6 0.6-0.4 0.3-1-0.2-3-0.8-2-5.3-5.3-15.6-16.8-8-9.3-5.4-7.1-4-6.1-3-5.4-0.9-3 0-1.4z"/>
<path fill="#00afff" d="M190.8 70.2l1 0.9 1.4 2.3 5 9.6 0.9 3.8-0.3 2.6-1.6-2.3-6-14.4zM160.2 88.1l2 1.1 6 5.5 3.6 2.8 5 3.4 4.4 2.6 4 1.9 4.6 1.8 4 1.1 4.4 0.7 1 0.5 0.9 2.7 0.7 9.2 0.4 3.1 3.4 8.3 0.8 3.4 0.3 3-0.2 5-1.5 1-3.7 1-0.1 1 1 3 3.6 7.4 5 7.7 5.4 7.1 7.1 7.8 8.6 10.6 0.6 1.2-89.3 0 0.1-6.2 0.5-6.3 1-5.6 1-3.4 2-4.7 2-3.3 2.5-3.3 3.2-3 3.5-2.4 3.6-2 4.7-2 5.1-1.6 4.8-1 8.4-1 14.6-0.4 0.6-0.2 0.3-0.8-0.1-3-0.8-2.6-5.4-5.5-15.6-16.9-8.4-10-4.6-5.9-3-4.6-2-4-0.3-2.5z"/>
<path fill="#00bfff" d="M191.8 72.7l0.4 0.2 1 1.4 4.6 8.4 1 2.8 0 3.1-0.6-0.1-1.4-2.9-4-9.7zM163.5 92.2l0.7 0 10.6 7.7 8 4.7 7.4 3 4 1 4 0.7 1 0.5 0.9 3 0.7 9.9 0.4 3 2.4 6.1 1.2 5 0.3 5.4-0.2 1.6-0.5 1-2.6 0.8-1.8 0.2 0.2-3.6-0.4-2-0.6-1.3-5.4-5.4-14.1-15.3-10.5-12.4-3.4-5-2-3.6-0.5-2zM230 191.8l0 0.2-87.6 0 0.2-8.8 0.6-6.1 1-4.5 1-3.1 1.6-3.4 2-3.4 2-2.6 2.8-2.9 3.1-2.4 3.2-2 4.2-2 4.2-1.6 8.7-2 9.6-1 13.2-0.3 1.4 4.5 2 4.7 5 8.7 5 7 8.4 10z"/>
<path fill="#00cfff" d="M193.8 76.4l2.4 4.2 2 4.2 0.4 2-0.4 1-1-1.5-3.4-8.8zM167.2 96l2 0.8 9 5.7 7 3.5 5.6 2 7.4 1.5 1 0.6 0.8 2.7 0.8 11.2 0.4 2.9 2.1 5.9 1 4.4 0.1 5.6-0.2 1.4-0.4 0.6-3 0.8-0.5-0.4-0.2-4-0.9-2.5-5.4-5.4-13.6-14.8-9.4-11.3-2.1-3-1.6-3-0.2-4zM228.7 191.8l0 0.2-86.1 0 0.1-8.2 0.5-5.6 1-5 1-3.2 1.6-3.5 1.4-2.7 2.6-3.4 2.4-2.6 3.1-2.6 3.1-2 3.9-2 3.9-1.4 7.8-2 10.8-1.3 13.4-0.3 0.6 0.2 2 5.6 2 4.4 5 8.7 4.4 6.5 7.1 8.6z"/>
<path fill="#00dfff" d="M196.2 81.9l1.6 3 0.2 0.9-0.2 0.5-1.6-3.3zM170.3 99.2l0.5-0.2 1 0.2 10.4 5.8 4.6 2 6 1.9 5.4 0.8 1 0.6 0.8 2.9 0.8 12.2 0.4 2.8 1.9 6 0.7 3.6 0.1 5-0.3 1.4-0.4 0.6-1.4 0.5-1.2-0.1-0.4-4.4-1-2.4-5.4-5.3-13.1-14.3-7.9-9.6-1.6-2.4-0.9-2zM143.8 176.4l2-7.2 1.4-3.2 2-3.3 2-2.6 2.9-2.9 3.2-2.4 3.4-2 7.1-3 8.1-2 9.9-1.2 13.4-0.2 0.6 0.5 4 9.9 4.4 8.1 4.6 6.8 6.6 8.5 7.6 10.6 0.5 1.2-84.8 0 0.3-8.8z"/>
<path fill="#00efff" d="M173.2 101.5l0.6-0.2 1.4 0.5 7.6 3.8 5.4 2.3 4.6 1.2 5.4 0.9 1 0.6 0.7 3.2 0.9 12.9 0.4 2.9 1.5 5.2 0.5 3.4 0.1 5-0.3 1-0.4 0.6-1.2 0.4-0.6 0-0.6-5-0.8-2-5.6-5.4-11.9-13-5.1-6-2.6-3.5-0.8-1.5-0.3-1.6-0.1-4.4zM226.3 191.8l0 0.2-83.3 0 0.2-8.8 0.6-5.4 1-4.7 1-3.2 1.4-3.4 2-3.4 2-2.6 2.7-2.7 3.1-2.6 3.2-2 4.1-2 4.2-1.4 8.6-2 9.3-1 12.4-0.3 0.4 0.1 0.6 0.8 4 9.7 5 9.2 4.4 6.8 5.8 7.7z"/>
<path fill="#00ffff" d="M176.2 103.4l1.6 0.4 6 2.7 5 1.9 4.4 1.1 5 0.7 1 0.7 0.7 2.9 0.9 14.5 1.9 9.9 0 5-0.2 1-0.4 0.6-0.9 0.2-0.4-0.2-0.5-4.6-0.4-1.4-0.7-1-3.4-3.2-5.6-5.8-8.9-10-4.6-6-0.8-1.6-0.2-1.4 0.1-6zM225.3 191.8l0 0.2-82 0 0.2-8.8 0.7-6.6 2-7.1 1.6-3.3 2-3.3 2-2.7 2.5-2.4 3.2-2.6 3.2-2 7-3 7.9-2 10.2-1.2 13-0.3 0.4 0.3 0.6 0.7 4 9.8 4.4 8.6 3.6 5.6 6.1 8.5z"/>
<path fill="#10ffef" d="M178.7 105.2l1.1 0.1 5 2.1 4.4 1.5 4.6 1 4.4 0.6 1 0.7 0.6 2.6 1 16.2 1.4 8.8 0 4-0.4 1.7-0.6 0.2-0.2-0.5-0.6-4.4-0.9-2-3.7-3.4-4.6-4.8-9.5-10.8-2.6-3.6-0.9-2.4 0-6.6zM224.3 191.8l0 0.2-80.7 0 0.2-8.8 1-7.2 2-6.8 1.4-3.2 2.1-3.2 2.5-3 2.6-2.6 2.7-2 3.3-2 7.3-3 8.5-2 9.1-1 12.5-0.2 1 1 4 9.9 4.4 8.8 4 6.5 5.3 7.6z"/>
<path fill="#20ffdf" d="M181.7 107.8l1.6 0 8.9 2.2 6 0.8 1 0.8 0.6 2.6 0.8 16.6 1.2 8.3 0 2.8-0.6 1.8-0.6-4.5-0.7-1.4-4.1-3.7-4.6-4.8-7-8.1-2.9-4-0.5-1.4 0.4-6.6zM223.4 192l-79.4 0 0.3-9.2 0.9-7.2 2-6.5 1.6-3.1 2-3.1 2.1-2.7 2.6-2.4 2.6-2 3.2-2 7-3 7.9-2 10-1.2 12.6-0.3 1 1.1 4 9.9 4 8 4 6.8 5 7.7z"/>
<path fill="#30ffcf" d="M185.5 109.8l1.7-0.2 11.6 1.6 0.4 0.7 0.6 3.3 0.4 12.5 0.7 9.1-0.1 1.5-0.8-1.1-3.2-2.5-4.6-4.6-5.4-6.3-3-4-0.5-1.6 0.2-3 1.1-4zM222.6 192l-78.1 0 0.2-9.2 1-7 1.1-3.9 1.1-3.1 1.8-3.6 1.7-2.4 2.1-2.6 2.7-2.4 2.6-2 3.4-2 7.4-3 8.2-1.9 10-1 11-0.2 0.4 0.3 1 1.7 3.6 9.1 4 8.1 3.4 6 4.8 7.3z"/>
<path fill="#40ffbf" d="M188.8 110.8l2-0.1 7.4 0.6 0.6 0.2 0.4 0.8 0.5 4.5 0.6 19-0.4 0.4-2.1-1-4-3.8-4.6-5.2-3.1-4.4-0.5-2.6 0.4-3.4 1.7-4zM221.8 192l-76.8 0 0.3-9.2 0.9-7 2.1-6.6 1.5-3 2-3 2-2.5 2.5-2.5 2.7-2 3.3-2 7.2-3 8.3-1.9 10-1 11-0.2 0.4 0.3 1 1.6 3.6 9.2 3.4 7.3 3.6 6.3 4.6 7.4z"/>
<path fill="#50ffaf" d="M190.8 111.7l2-0.2 5.4 0.2 0.6 0.1 0.4 0.9 0.5 4.5 0.3 14-0.2 3.6-0.6 0.6-2-1.1-3.4-3.4-3.6-4.1-1.9-3-0.4-3.6 0.2-3.4 1.1-3 0.9-1.6zM221.1 192l-75.6 0 0.3-8.8 1-7.2 2.1-6.8 1.5-3 1.8-2.8 2-2.4 2.6-2.4 3-2.3 3-1.7 6.7-2.8 8.3-2 9.4-1.1 11.6-0.2 0.4 0.3 1 1.5 3.6 9.4 3.4 7.4 7.7 13.1z"/>
<path fill="#60ff9f" d="M192.9 112.2l5.3-0.2 0.6 0.2 0.4 1 0.7 16-0.1 3.5-0.6 1.7-0.4 0.1-1-0.5-3.2-2.8-3.4-4-0.9-2-0.4-4.4 0.1-3.6 1.4-3.4 0.7-1zM220.4 192l-74.3 0 0.2-8.8 0.9-6.7 2.1-6.7 1.5-3 1.9-3 2.1-2.6 2.4-2.3 5.6-3.7 6.8-3 8.1-2 9.5-1 11.6-0.2 1 0.8 0.4 0.9 3.6 9.5 3 6.6 7.6 13.4z"/>
<path fill="#70ff8f" d="M195.2 112.6l3-0.3 0.6 0.3 0.4 1.2 0.5 15.4-0.4 3.6-0.5 0.6-2-1.1-2.6-2.4-1.4-2.1-0.7-2-0.5-6 0.2-3 1.4-3.1 1-0.9zM219.8 192l-73.1 0 0.3-8.8 0.8-6.4 2-6.6 1.4-3 2-3.1 2-2.4 2.6-2.5 2.7-2 3.3-1.9 6.4-2.7 8-1.9 9-1 11.6-0.2 1 0.6 0.4 0.9 3.6 9.7 3 6.7 7.2 12.8z"/>
<path fill="#80ff80" d="M197.8 112.8l1 0.2 0.5 2.8 0.2 12.4-0.3 3.2-0.4 0.8-1-0.4-1.2-1-2.2-3-0.7-2.6-0.5-5 0.1-3 1.3-3 1.1-1zM219.1 192l-71.7 0 0.3-9.2 0.9-6.6 2.1-6.4 3.3-5.6 4.2-4.5 2.6-1.9 3.4-2 6.6-2.8 7.4-1.8 9-1 11.6-0.2 1 0.5 0.4 0.8 3.6 9.9 2 4.7 3 6 4.7 8.3z"/>
<path fill="#8fff70" d="M198.2 113.3l0.6 0.3 0.5 4.2-0.1 11.6-0.4 1.3-0.6 0-1-0.9-1.5-2.6-0.6-2.4-0.5-5 0.1-2.6 0.8-2 1.2-1.4zM218.4 192l-70.3 0 0.2-8.8 0.9-6.4 2.1-6.6 1.5-2.8 1.7-2.6 4.3-4.6 2.5-2 3.3-2 6.6-2.7 7.6-1.8 9.4-1 11-0.1 1 1.1 3.6 10 2.4 5.9 6.8 12.6z"/>
<path fill="#9fff60" d="M198.2 114l0.6 0.5 0.3 4.3 0.1 7.4-0.4 2.9-0.6-0.1-0.4-0.5-0.9-1.7-0.6-3-0.4-4 0.1-2 0.4-1.6 0.8-1.4zM217.7 192l-68.9 0 0.3-8.8 0.9-6.4 2.1-6.6 3.1-5.2 2-2.4 2.6-2.3 5.3-3.5 6.7-2.8 7.6-1.8 8.8-0.9 11-0.2 1 0.9 0.6 1.1 3 9.1 2.4 6.1 6.3 11.9z"/>
<path fill="#afff50" d="M198.2 115.5l0.6 0.8 0.1 4.5-0.1 5.5-0.6 0.2-0.7-3.3-0.3-4.4 0.3-2zM217 192l-67.4 0 0.3-8.8 0.9-6.4 2-6 1.4-2.9 1.8-2.7 2.2-2.4 2.2-2 5.4-3.6 6.4-2.6 7.6-1.7 8.4-1 11-0.2 1 0.7 0.6 1.1 2.4 7.9 2.6 6.4 6.2 12.4z"/>
<path fill="#bfff40" d="M216.3 192l-65.9 0 0.3-8.8 1-6.4 2-6 3.1-5.1 2-2.3 2.3-2.2 5.3-3.4 6.4-2.6 7.4-1.7 8-0.9 11.6-0.3 1 1.5 2.4 8.1 2.6 6.6 5.7 11.7z"/>
<path fill="#cfff30" d="M215.6 192l-64.3 0 0.2-8.2 1-6.6 2-6 1.6-3 1.7-2.3 4-4.1 5.4-3.6 6-2.4 7-1.6 7.6-0.8 12-0.6 1 1.4 2.4 8.2 2.6 6.8 5.2 11z"/>
<path fill="#dfff20" d="M214.9 192l-62.7 0 0.3-8.2 1-6.6 2-6 3.1-5 4-4 5.2-3.3 5.4-2.2 7-1.7 8-0.9 10-0.3 1.6-0.4 0.4 0.3 0.6 1 4.4 13.9 5.3 11.6z"/>
<path fill="#efff10" d="M214.3 192l-61.1 0 0.2-8.2 0.9-6 1.9-5.7 2.9-4.9 3.8-4 5.2-3.4 5.7-2.4 6.4-1.6 8-1 10-0.3 1.6-0.5 0.4 0.2 0.6 1 4 12.7 5.3 12.3z"/>
<path fill="#ffff00" d="M213.7 192l-59.5 0 0.3-8.2 0.9-6 1.9-5.6 2.7-4.4 3.8-4 5-3.3 5.2-2.3 6.2-1.5 7.6-1 10.4-0.3 1.6-0.8 0.4 0.2 0.6 0.9 4 12.8 4.8 11.7z"/>
<path fill="#ffef00" d="M200.2 155.4l1 2.4 3.6 11.4 4.6 11.6 3.7 11.2-57.8 0 0.4-9.8 0.6-3.4 1-3.6 1.2-3 1.8-3 1.9-2.5 2.7-2.5 2.8-2 3.1-1.6 3.2-1.4 3.8-1.1 9-1.4 11.4-0.5 1.6-0.9z"/>
<path fill="#ffdf00" d="M200.2 156l1 2.3 3.6 11.6 4.2 10.9 3.5 11.2-56.1 0 0.4-9.2 0.5-3.6 1-3.4 1.3-3 1.7-3 2-2.6 2.5-2.3 2.4-1.8 3-1.6 6.6-2.4 4-0.9 5-0.6 11.4-0.5z"/>
<path fill="#ffcf00" d="M200.2 156.7l1 2.2 3.6 11.6 3.7 9.7 3.5 11.8-54.4 0 0.3-8.8 0.6-3.4 0.9-3.6 1.2-3 1.6-2.7 2-2.5 2.4-2.2 5.2-3.4 6.4-2.4 8.6-1.5 11.4-0.5z"/>
<path fill="#ffbf00" d="M200.2 157.4l0.6 0.7 3.4 11.6 3.9 10.5 3.4 11.8-52.7 0 0.3-8.8 1.5-6.4 1.2-3 1.4-2.6 2-2.4 2-2.1 5-3.3 6-2.3 4-0.9 4.6-0.7 12-0.6z"/>
<path fill="#ffaf00" d="M200.8 158.8l3.4 11.6 3.7 10.4 3.1 11.2-50.9 0 0.3-8.2 1.4-6.6 1.2-3 1.5-2.4 2-2.6 2.1-2 2.6-1.8 2.6-1.4 6-2.2 8-1.3 11-0.6 1.4-1.7z"/>
<path fill="#ff9f00" d="M200.8 159.5l3.4 11.7 3.2 9 3.2 11.8-49.2 0 0.3-8.2 0.6-3.6 0.9-3 1.1-2.4 1.5-2.6 2-2.4 2-1.8 4.4-2.9 6-2.2 7.6-1.3 10.4-0.5 1-0.7 1-1.4z"/>
<path fill="#ff8f00" d="M200.8 160.3l3.4 11.6 2.9 8.3 3 11.8-47.3 0 0.3-7.8 1.3-6 1-2.4 1.4-2.6 2-2.4 2-1.9 4-2.7 5.4-2.1 7.6-1.4 10.4-0.5 1-0.7 1-1.6z"/>
<path fill="#ff8000" d="M200.8 161.1l6 19.1 2.9 11.8-45.5 0 0.3-7.8 1.3-5.4 1-2.6 1.4-2.4 3.6-3.9 4-2.7 5-1.9 7.4-1.5 10-0.5 1-0.7 1-1.8z"/>
<path fill="#ff7000" d="M200.8 162l5.7 18.2 2.7 11.8-43.5 0 0.3-7.2 1.2-5.6 2.2-4.4 3.4-3.8 3.4-2.4 4.6-1.9 3.4-1 4-0.6 10-0.6 1-0.8 1-1.9z"/>
<path fill="#ff6000" d="M200.8 162.9l5.4 17.3 2.6 11.8-41.5 0 0.2-6.8 1.1-5 2.1-4.4 3.1-3.6 4.3-3 5.5-2 6.2-1 8.4-0.4 1-0.9 1-2.1z"/>
<path fill="#ff5000" d="M200.8 163.9l5.1 16.3 2.4 11.8-39.4 0 0.2-6.2 1-5 1.9-4 2.9-3.6 4.3-2.9 5-1.8 6-1 8-0.4 1-0.9 1-2.3z"/>
<path fill="#ff4000" d="M200.8 164.9l4.8 15.3 2.3 11.8-37.3 0 0.2-6.2 1-4.6 1.9-4 2.6-3 3.9-2.6 5-1.8 5.6-1 7.4-0.4 0.6-0.2 0.4-0.7 1-2.5z"/>
<path fill="#ff3000" d="M200.8 165.9l1 2.6 3.5 11.7 2.2 11.8-35.2 0 0.2-5.8 1-4.4 1.7-3.6 2.6-2.9 3.4-2.4 4.6-1.7 5.4-1 7-0.4 0.6-0.2 0.4-0.8 1-2.7z"/>
<path fill="#ff2000" d="M200.8 167l1 2.5 3 10.3 2.2 12.2-32.9 0 0.2-5.2 0.8-4 1.6-3.6 2.1-2.4 3.4-2.6 4-1.6 5-0.9 7-0.4 0.6-0.3 0.4-0.8 1-2.9z"/>
<path fill="#ff1000" d="M200.8 168.2l1 2.4 2.7 9.2 2.1 12.2-30.6 0 0.2-4.8 0.6-3.4 1.4-3.3 2.2-2.7 2.8-2.1 4-1.7 4.6-0.8 6.4-0.4 0.6-0.3 0.4-0.8 1-3.1z"/>
<path fill="#ff0000" d="M200.8 169.4l1 2.3 2.4 8.4 1.9 11.9-28.2 0 0.2-4.2 0.7-3.6 1.3-3 1.7-2 3-2.3 3.4-1.4 3.6-0.7 6.4-0.5 0.6-0.3 1.4-4.1z"/>
<path fill="#ef0000" d="M200.8 170.7l1 2.2 2 6.9 1.8 12.2-25.7 0 0.2-4.2 0.6-3 1.2-2.6 1.6-2 2.7-2 3-1.2 3-0.6 6-0.5 0.6-0.3 0.4-0.9 1-3.4z"/>
<path fill="#df0000" d="M200.8 172l1 2.1 1.8 6.1 1.5 11.8-23.1 0 0.2-3.8 0.5-2.4 0.8-2 1.4-2 2.3-1.9 2.6-1.1 3-0.8 5.4-0.4 0.6-0.3 0.4-0.9 1-3.7z"/>
<path fill="#cf0000" d="M200.8 173.4l1 2 1.4 4.8 1.4 11.8-20.5 0 0.6-5.2 0.7-2 1.1-1.6 1.7-1.5 2.6-1.3 2.4-0.6 5-0.5 0.6-0.3 0.4-1 1-3.8z"/>
<path fill="#bf0000" d="M200.8 174.8l1 1.9 1 3.5 1.2 11.8-17.6 0 0.3-4.2 0.5-1.6 1-1.6 1.6-1.4 2-1.1 2.4-0.6 4-0.5 0.6-0.2 0.4-1 1-4.1z"/>
<path fill="#af0000" d="M200.8 176.3l0.4 0.5 1.1 3.4 1.1 11.8-14.8 0 0.4-3.8 1.2-2.4 1.2-1 1.8-1 5.6-1.2 0.4-0.8 1-4.5z"/>
<path fill="#9f0000" d="M200.8 177.9l0.4 0.4 0.7 1.9 0.8 11.8-11.7 0 0.4-3.2 1.2-2 2.2-1.4 3.4-0.6 0.8-0.6 0.6-1.4 0.6-3.9z"/>
<path fill="#8f0000" d="M200.8 179.6l0.5 1.2 0.7 11.2-8.6 0 0.3-2.2 0.9-1.6 1.2-0.8 3-0.8 0.4-0.5z"/>
<path fill="#800000" d="M200.8 185.6l0.5 6.4-5.4 0 0.2-1.2 0.5-1 2.6-1.4z"/>
<rect x="0.6" y="0" width="1.3" height="192" fill="#fff" opacity="0.70"/>
<rect x="198.1" y="0" width="3.3" height="192" fill="#fff"/>
<path d="M0 170.7h7M300 170.7h-7M0 149.3h7M300 149.3h-7M0 128.0h7M300 128.0h-7M0 106.7h7M300 106.7h-7M0 85.3h7M300 85.3h-7M0 64.0h7M300 64.0h-7M0 42.7h7M300 42.7h-7M0 21.3h7M300 21.3h-7M40.0 0v3M40.0 192v-3M80.0 0v3M80.0 192v-3M120.0 0v3M120.0 192v-3M160.0 0v3M160.0 192v-3M200.0 0v3M200.0 192v-3M240.0 0v3M240.0 192v-3M280.0 0v3M280.0 192v-3" stroke="#111" stroke-width="1" fill="none"/>
<rect x="0" y="0" width="300" height="192" fill="none" stroke="#222" stroke-width="1.2"/>
<text class="n" x="-9.8" y="177.2" text-anchor="end">10</text>
<text class="n" x="-9.8" y="155.8" text-anchor="end">20</text>
<text class="n" x="-9.8" y="134.5" text-anchor="end">30</text>
<text class="n" x="-9.8" y="113.2" text-anchor="end">40</text>
<text class="n" x="-9.8" y="91.8" text-anchor="end">50</text>
<text class="n" x="-9.8" y="70.5" text-anchor="end">60</text>
<text class="n" x="-9.8" y="49.2" text-anchor="end">70</text>
<text class="n" x="-9.8" y="27.8" text-anchor="end">80</text>
<text class="n" x="-9.8" y="6.5" text-anchor="end">90</text>
<text class="n" x="-17" y="218.2" text-anchor="middle">0</text>
<text class="n" x="38.7" y="218.2" text-anchor="middle">0.2</text>
<text class="n" x="78.7" y="218.2" text-anchor="middle">0.4</text>
<text class="n" x="118.7" y="218.2" text-anchor="middle">0.6</text>
<text class="n" x="158.7" y="218.2" text-anchor="middle">0.8</text>
<text class="n" x="198.7" y="218.2" text-anchor="middle">1.0</text>
<text class="n" x="238.7" y="218.2" text-anchor="middle">1.2</text>
<text class="n" x="278.7" y="218.2" text-anchor="middle">1.4</text>
</g>
<g transform="translate(424.4 287.8)">
<rect x="0" y="122.26" width="21.3" height="2.24" fill="#00008f"/>
<rect x="0" y="120.32" width="21.3" height="2.24" fill="#00009f"/>
<rect x="0" y="118.38" width="21.3" height="2.24" fill="#0000af"/>
<rect x="0" y="116.44" width="21.3" height="2.24" fill="#0000bf"/>
<rect x="0" y="114.50" width="21.3" height="2.24" fill="#0000cf"/>
<rect x="0" y="112.56" width="21.3" height="2.24" fill="#0000df"/>
<rect x="0" y="110.62" width="21.3" height="2.24" fill="#0000ef"/>
<rect x="0" y="108.67" width="21.3" height="2.24" fill="#0000ff"/>
<rect x="0" y="106.73" width="21.3" height="2.24" fill="#0010ff"/>
<rect x="0" y="104.79" width="21.3" height="2.24" fill="#0020ff"/>
<rect x="0" y="102.85" width="21.3" height="2.24" fill="#0030ff"/>
<rect x="0" y="100.91" width="21.3" height="2.24" fill="#0040ff"/>
<rect x="0" y="98.97" width="21.3" height="2.24" fill="#0050ff"/>
<rect x="0" y="97.03" width="21.3" height="2.24" fill="#0060ff"/>
<rect x="0" y="95.09" width="21.3" height="2.24" fill="#0070ff"/>
<rect x="0" y="93.15" width="21.3" height="2.24" fill="#0080ff"/>
<rect x="0" y="91.21" width="21.3" height="2.24" fill="#008fff"/>
<rect x="0" y="89.27" width="21.3" height="2.24" fill="#009fff"/>
<rect x="0" y="87.33" width="21.3" height="2.24" fill="#00afff"/>
<rect x="0" y="85.39" width="21.3" height="2.24" fill="#00bfff"/>
<rect x="0" y="83.45" width="21.3" height="2.24" fill="#00cfff"/>
<rect x="0" y="81.51" width="21.3" height="2.24" fill="#00dfff"/>
<rect x="0" y="79.57" width="21.3" height="2.24" fill="#00efff"/>
<rect x="0" y="77.62" width="21.3" height="2.24" fill="#00ffff"/>
<rect x="0" y="75.68" width="21.3" height="2.24" fill="#10ffef"/>
<rect x="0" y="73.74" width="21.3" height="2.24" fill="#20ffdf"/>
<rect x="0" y="71.80" width="21.3" height="2.24" fill="#30ffcf"/>
<rect x="0" y="69.86" width="21.3" height="2.24" fill="#40ffbf"/>
<rect x="0" y="67.92" width="21.3" height="2.24" fill="#50ffaf"/>
<rect x="0" y="65.98" width="21.3" height="2.24" fill="#60ff9f"/>
<rect x="0" y="64.04" width="21.3" height="2.24" fill="#70ff8f"/>
<rect x="0" y="62.10" width="21.3" height="2.24" fill="#80ff80"/>
<rect x="0" y="60.16" width="21.3" height="2.24" fill="#8fff70"/>
<rect x="0" y="58.22" width="21.3" height="2.24" fill="#9fff60"/>
<rect x="0" y="56.28" width="21.3" height="2.24" fill="#afff50"/>
<rect x="0" y="54.34" width="21.3" height="2.24" fill="#bfff40"/>
<rect x="0" y="52.40" width="21.3" height="2.24" fill="#cfff30"/>
<rect x="0" y="50.46" width="21.3" height="2.24" fill="#dfff20"/>
<rect x="0" y="48.52" width="21.3" height="2.24" fill="#efff10"/>
<rect x="0" y="46.58" width="21.3" height="2.24" fill="#ffff00"/>
<rect x="0" y="44.63" width="21.3" height="2.24" fill="#ffef00"/>
<rect x="0" y="42.69" width="21.3" height="2.24" fill="#ffdf00"/>
<rect x="0" y="40.75" width="21.3" height="2.24" fill="#ffcf00"/>
<rect x="0" y="38.81" width="21.3" height="2.24" fill="#ffbf00"/>
<rect x="0" y="36.87" width="21.3" height="2.24" fill="#ffaf00"/>
<rect x="0" y="34.93" width="21.3" height="2.24" fill="#ff9f00"/>
<rect x="0" y="32.99" width="21.3" height="2.24" fill="#ff8f00"/>
<rect x="0" y="31.05" width="21.3" height="2.24" fill="#ff8000"/>
<rect x="0" y="29.11" width="21.3" height="2.24" fill="#ff7000"/>
<rect x="0" y="27.17" width="21.3" height="2.24" fill="#ff6000"/>
<rect x="0" y="25.23" width="21.3" height="2.24" fill="#ff5000"/>
<rect x="0" y="23.29" width="21.3" height="2.24" fill="#ff4000"/>
<rect x="0" y="21.35" width="21.3" height="2.24" fill="#ff3000"/>
<rect x="0" y="19.41" width="21.3" height="2.24" fill="#ff2000"/>
<rect x="0" y="17.47" width="21.3" height="2.24" fill="#ff1000"/>
<rect x="0" y="15.53" width="21.3" height="2.24" fill="#ff0000"/>
<rect x="0" y="13.58" width="21.3" height="2.24" fill="#ef0000"/>
<rect x="0" y="11.64" width="21.3" height="2.24" fill="#df0000"/>
<rect x="0" y="9.70" width="21.3" height="2.24" fill="#cf0000"/>
<rect x="0" y="7.76" width="21.3" height="2.24" fill="#bf0000"/>
<rect x="0" y="5.82" width="21.3" height="2.24" fill="#af0000"/>
<rect x="0" y="3.88" width="21.3" height="2.24" fill="#9f0000"/>
<rect x="0" y="1.94" width="21.3" height="2.24" fill="#8f0000"/>
<rect x="0" y="0.00" width="21.3" height="2.24" fill="#800000"/>
<path d="M0 96.0h5M21.3 96.0h-5M0 67.7h5M21.3 67.7h-5M0 39.5h5M21.3 39.5h-5M0 11.3h5M21.3 11.3h-5" stroke="#222" stroke-width="1" fill="none"/>
<rect x="0" y="0" width="21.3" height="124.2" fill="none" stroke="#222" stroke-width="1.2"/>
<text class="n" x="30.8" y="132.8">0</text>
<text class="n" x="30.8" y="104.6">0.5</text>
<text class="n" x="30.8" y="76.3">1.0</text>
<text class="n" x="30.8" y="48.1">1.5</text>
<text class="n" x="30.8" y="19.9">2.0</text>
</g>
<g transform="translate(616.6 287.8)">
<rect x="0" y="0" width="300" height="192" fill="#00008f"/>
<path fill="#00009f" d="M85.8 27.2l0.4 0.5 8 17.5 5 9.4 6.6 9.6 7.3 8.6 11.9 11.4 8.3 7.6 9 7.4 10 7.6 16.9 11.4 13.2 8 6.6 3.6 10.2 4.1 0.9 1.3 0.6 4.6-0.3 3-0.4 1.4-0.8 1-1 0.1-1.4-0.7-12.6-7.2-20.4-14.4-15.6-11.5-9.4-7.6-8-7-18.4-18.1-5.4-6-4.4-5.6-4-6-3.7-6.4-3.8-8-2.9-7.6-2-7.1-0.5-2.9zM144.2 41.4l1.6 1.4 2.4 3.8 13 22.2 5.6 8.4 15.4 19.5 12 14.4 5 5.5 0.9 2.2 0.4 3.4-0.4 3.6-0.9 1.6-0.4 0.1-1-0.8-4.4-5.5-10.6-15.5-17.3-22.9-4.1-6-5.5-9.6-8.3-16-3-7-0.6-2zM170.2 42.2l2 2.6 3.7 7 8.3 20.6 2.6 4.4 6.6 10.4 6.1 12.6 0.6 2 0.3 3.4-0.3 2.6-0.9 1.5-0.4 0.1-1-0.8-2.8-3.8-5.2-12.2-8.9-16.8-2.4-6.6-7.3-21.4-1.1-4-0.1-1zM185.8 54.9l1.4 2.1 2.2 4.2 5.8 14.1 4.3 8.5 0.6 2 0.1 2.4-0.3 2-0.7 1.1-0.4 0.1-0.6-0.3-2.1-2.9-1.6-3-2.5-6-5.9-19.4-0.8-4.6zM0 141.5l1.2 0.5 7.6 5.2 15 8 7 4.5 2-0.5 16-7.3 8.4-2.9 14.6-3 9.4-1 24.6-0.1 8 0.5 17 2.1 45 6.4 1.5-0.1-2.4-1.6-18.7-8.8-8-4.4-33.4-20.5-8.6-5.5-5.4-4-16.5-13.8-13.1-10.3-6.5-6.1-4.2-5-3-5-1.6-3.6-1-3-0.2-2 0.5-0.2 1.6 1.5 6.4 9.1 7.1 7.2 4.8 4 12.1 8.9 14.1 11.1 6.3 4.4 7.2 4.6 18.9 11 16.5 9 9 4.4 9.5 4 6.9 2.6 23.2 6.3 1 0.7 1.4 0.3 1 1.8 2 7.8 0.6 0.6 95.2 0.9 0 3.9-80.8 0.7-6.6 0.4-0.1 0.6 2.1 2 0.6 1 0.1 1.4-0.8 1.6 0 0.4 1.7 0.5 83.8 0.3 0 6.4-75.2 0.1-5.9 0.3 0 0.4 6.1 1.6 8 1.4 18.3 2.6 25.9 2.4 22.8 1.5 0 2.3-161.8 0-0.4-2.4-5.6-2.2-6-1.9-13-2.5-9-1-28-1.7-15-0.5-8 0.3-8 0.8-5.4 1-5 1.5-1 0.7-0.3 0.7-0.1 7.2-33.4 0zM200.6 133.8l0.3-1 0.9-1 2-0.4 26.4 1.2 7 0.6 1.6 0.6-1.5 0.4-7.1 0.7-26.4 1.3-2.1-0.4-0.9-1z"/>
<path fill="#0000af" d="M149 50.8l0.2-0.1 2 2.7 10.4 17.4 5.5 8 25.1 30.9 6.8 7.5 0.9 2 0.3 2.6-0.2 3-0.8 1.5-0.4 0.2-1-0.7-3.7-4.6-11.3-16.4-19.2-26-4-6.6-4.4-8-6-12.2zM174.2 52.1l0.6 0.4 1.4 2.8 8 18.5 8.7 14 6.5 13 0.6 2 0.1 2-0.2 2-0.7 1.5-0.4 0.1-0.6-0.2-2.7-4-5.3-11.9-8.2-16.1-4.2-11.6-3-9.8zM96.2 52.9l7.7 10.9 7.8 9 16.4 15.4 12.3 10.6 7.9 6 8.5 6 17.5 11.4 13 7.6 4.5 2 7 2.6 0.7 0.8 0.5 1 0.4 3-0.4 3.6-0.8 1.5-1 0.2-3-1.5-8-4.5-5.4-3.5-27-19.5-11-8.5-8.6-7.2-12.2-11.6-9.7-10-5.1-5.6-4.4-5.8-3-4.5-3.6-6.3-1-2.3zM188.2 62.4l0.6 0.3 1 1.7 5.9 13.4 3.7 7 0.5 2 0 1.4-0.4 1.6-0.7 0.6-1-0.8-1.8-2.8-3.5-8-3.3-10.8-1-4.4zM0 144.5l1.2 0.5 10.6 7.2 5.9 4.6 3.8 4 1.2 2 1.1 2.5 2-0.6 13.4-7.6 8-3.6 6.6-2.5 5-1.5 7-1.5 8-1.4 6-0.7 25-0.2 7.4 0.4 17 2 49.3 7.1 3.7 0.3 0.2-0.3-2.6-1.4-19-8.9-10.6-5.5-24-14.5-20-12.8-8-6.1-13.4-11.5-13.8-11.3-3.6-3.4-3.1-3.6-2.6-4 0.1-0.5 7.3 6.5 5.1 4.2 12 8.7 16.4 12.7 9.1 6 22.5 13 16.5 9 8.1 4 9.4 4 8.2 3 22.4 6.3 1.4 1.7 1.6 1.2 2 6.5 0.4 1.1 0.6 0.4 95.2 1.4 0 1.5-90.2 1.4-2 0.5 0.3 0.4 3 2.6 0.8 1.4-0.2 2.6 1 1 1.1 0.4 86.2 0.4 0 5.2-79.2 0.2-6.6 0.2-0.4 0.6 3 1 6.5 1.4 13.9 2.6 15.9 2 15.2 1.4 19.3 1.6 12.4 0.6 0 1.6-161 0 0.4-3.8 1.2-2.4 2.6-2.9 3.6-2.7-0.1-0.4-16.5-6.4-11-2.6-11.4-1.8-30.6-1.9-16-0.6-11.4 0.6-5.9 1.1-6 2.6-8.6 5-5.2 3.4-2.5 2.6-0.4 2-0.2 8.2-21 0zM201.3 133.8l0.4-1 0.5-0.5 1.6-0.3 12.1 0.8 4.7 0.4 1.6 0.6-1.5 0.4-4.6 0.6-12.3 0.7-1.6-0.3-0.6-0.4z"/>
<path fill="#0000bf" d="M179.8 66.7l4.7 9.1 8.4 13 6.2 12 0.6 2 0.2 2.4-0.5 2-0.6 0.5-1.2-0.9-2.4-4-5-11.5-7-13.8-2.4-6.4-1-3.6zM158.2 67l4.9 7.2 4.4 6 24.3 29.6 7.1 8 0.7 1.4 0.4 2.6-0.1 2-0.7 1.8-0.4 0.3-0.6-0.3-3.6-4.4-11.4-16.4-16.5-22.6-5.9-9.4-2.8-5.6zM191.2 70.1l8 15.1 0.4 3-0.4 1.1-0.4 0.4-1-0.9-1.3-2-2.5-5.6-2.8-8.6-0.2-1.8zM117.6 80.8l0.2-0.2 1 0.6 13.4 11.7 9.7 7.9 8.2 6 11.6 8 10.1 6.4 12.6 7.6 6.2 3 8.2 3.1 0.9 1.3 0.5 2.6-0.2 3-0.8 1.9-1 0.3-13.4-7.6-19-13.4-14-10.4-10.5-8.4-8.4-7.4-9.2-9zM0 146.4l1.2 0.5 8 5.9 3.9 3.4 2.6 3 1.5 2.6 0.8 2.4 0 2-0.6 4 0.4 0.4 2-0.8 10.4-6.9 6-3.5 14-6.4 5.6-2 5-1.4 10.4-2.1 7.6-1 26-0.3 7.4 0.4 19.6 2.3 52.3 7.9 2 0-0.4-0.6-2.7-1.4-20.2-9.4-10.6-5.4-21-12.5-17.4-11.1-8.4-5.6-6.4-5-20.7-18-0.9-1 0.4-0.1 6.4 4.1 17.3 13 8.3 5.4 18.9 11 23 12.6 10.5 5 11.4 4.4 25.2 7.5 2 3 1 0.8 2 5.8 1 1.2 56.8 1.3 3.4 0.4-9.4 0.6-49.4 1-0.5 0.4 0.5 1.1 2.5 1.9 0.8 1 0.6 3 0.9 1 1.8 1.2 1.4 0.4 85.8 0.2 0 4.4-83.8 0.2-4.4 0.3-1.1 0.3 0.8 0.6 4.8 1.4 6.3 1.6 7.6 1.4 9.7 1.6 27.2 3 32.9 2.3 0 0.9-160.7 0 0.2-2.2 0.5-2 1.4-2.6 1.8-1.8 2-1.4 3-1.6 10.7-3.6 0-0.6-13.7-4.8-14.4-5.6-4-1.2-14-2.8-6-0.7-30.6-1.7-6.7 0.4-10.1 1.4-6.8 2-10.6 4-5.1 2.6-6.8 4-9.1 6-4.4 3.4-1.6 1.6-1 1.4-0.3 5.8-13.7 0zM201.9 133.8l0.1-0.6 0.6-0.4 1.2-0.2 7 0.6 1.6 0.6-1.5 0.4-7.1 0.7-1.2-0.1z"/>
<path fill="#0000cf" d="M193.2 76.6l0.6 0.1 5.1 8.5 0.4 2.6-0.5 1.2-1-0.9-2.1-3.9-1.9-5.3zM185.2 78.5l2.6 3.2 4.4 6.8 6.8 12.7 0.5 1.6 0.2 2-0.4 2-0.5 0.4-1.4-1.4-2.3-4-4.2-10-5.7-11.9-0.3-1.1zM168.9 83.8l0.3-0.1 3.6 3.9 20 23.9 6 6.5 0.6 1.2 0.4 2 0 2-0.6 1.8-0.4 0.3-1-0.7-3.9-4.8-9.5-14-13.6-19zM134 96.2l0.2-0.1 13 9.4 11.6 7.8 15.5 9.9 13.1 7.6 11.4 4.5 0.8 1.5 0.4 2 0 2.4-0.8 2-0.4 0.4-1-0.2-10.6-5.8-5.4-3.6-14-10-11.1-8.2-11.4-9-6.9-6zM0 147.7l0.8 0.2 1.4 1 6.3 5.3 3.2 3.6 2.1 3.4 0.7 2.6 0.1 2.4-0.8 3.6-1.8 6 0.2 0.2 1.6-0.7 11.4-8.3 7.6-5 6.4-3.5 7.6-3.5 6-2.5 6.4-2.1 11.6-2.3 7-1 5.4-0.3 21-0.1 8.6 0.4 20 2.4 41 6 13 2.3 2.1 0-1.2-1-3.8-2-19.1-8.9-10-4.9-21-12.5-18.6-11.7-9.4-6.6-8.6-7-3.4-3.4 0.4-0.1 11.6 7.7 8.4 5.1 19.9 11.3 21.7 11.4 9.1 4 10.4 4 22.9 6.7 1 0.9 1.6 3.1 1 0.9 2 5.1 1 1.1 22.2 0.8 3.5 0.4-24.8 1-0.5 0.6 0.2 1 0.8 1.4 1.9 2 1.1 2.9 1.6 1.6 1.6 1.1 1.8 0.3 85.8 0.3 0 3.7-87.2 0.3-4 0.4 0.1 0.4 0.9 0.6 8.3 2.4 9.2 2 8.8 1.6 20.1 2.5 39.6 3.5 0 0.2-156.3 0 0.4-3.2 1.1-2.6 1.8-2 3-2.2 3-1.5 4.4-1.6 7.6-1.9 8.8-1.8-0.2-0.4-7.5-3-23.5-8.6-9.3-2.4-12.7-2-9.7-1-26.9-0.3-7.9 0.7-12.3 2-8.3 2.6-9.5 3.6-5 2.4-6.1 3.4-9.3 6-4.8 3.6-7 6-0.9 1.4-0.1 2.8-8.6 0zM202.7 133.8l1.1-0.5 1.7 0.5-1.7 0.5-0.6-0.1z"/>
<path fill="#0000df" d="M195.8 81.6l3 4.1 0.2 1.5-0.2 1-0.6-0.2-1.4-2.6-1.1-2.6zM188.8 84.7l3.4 4.7 6.6 11.9 0.7 2.9-0.3 1.9-0.4 0.5-0.6-0.2-0.8-1.2-2.2-4-6.4-15.3zM177.2 94l16.2 18.8 5.4 5.7 0.7 1.7 0.2 2-0.4 2-0.5 0.7-1.6-1.3-4.7-6.4-15.5-23zM146.9 106.8l0.3-0.1 2 1.1 19 12.2 14.7 8.8 7 3.4 8.9 3.5 0.7 1.1 0.4 2-0.1 2.4-0.6 1.6-0.4 0.4-0.6 0-1.4-0.7-9-5-5.6-3.6-21.5-15.7-9.4-7.4zM0 148.8l0.8 0.2 2.2 1.8 5.1 5 2.8 4 1.2 3.4 0.1 2.6-0.6 3-1.4 4-3.5 8-0.2 1 0.3 0.4 1.4-0.9 9.5-8.1 7.4-5.4 7.7-5.1 7-3.9 10.4-4.8 7-2.6 10.6-2.4 8.4-1.4 6.6-0.5 21-0.1 9.4 0.5 20.6 2.5 38 5.5 17.9 3.3 1.5 0-1-1-4.5-2.6-24.5-11.3-12-6.4-17.6-10.7-13.9-9-8-5.6-3.6-3 0.1-0.1 2.7 1.1 39.4 21.6 10 5 9.5 4 8.1 3 18.3 5.3 4.6 1.5 0.8 1.2 1.2 3.2 1 0.7 0.4 0.8 1.6 3.9 1.7 1.8-0.3 0.2-0.3 1.4 0.9 2.3 3.4 5.6 1.7 1.5 1.3 0.9 2 0.3 85.8 0.3 0 3-84.8 0.4-6 0.1-1.9 0.6 0.4 0.4 2.2 1 6.4 2 8.5 2 8.1 1.6 20.9 2.7 28.7 2.7 3.4 0.6 0 0.2-146.2 0 0.4-3.2 1.4-3 2.3-2.2 4.4-2.7 4-1.5 5.6-1.5 7.4-1.4 12.5-1.7 0-0.6-8.7-4-8.2-3-9.7-2.4-22.6-5-13.8-2-6.9-0.7-27.6-0.3-9.4 0.9-11 1.8-7.8 2.3-11.2 4.1-8 4.1-11.6 7.1-5.4 3.9-8.6 6.5-1 0.4-1-0.3-0.4 1.6-0.2 2.8-4.6 0z"/>
<path fill="#0000ef" d="M198.2 86l0 0.9-0.2-0.7zM191.8 89.9l7 12 0.5 2.3-0.1 1-0.4 0.9-0.6-0.2-0.8-1.1-2.2-4.2-3.4-9.2-0.3-1.2zM183.2 101.8l15.6 17.1 0.5 1.3 0.2 2-0.3 1.7-0.4 0.5-0.6-0.1-1-1.1-4.4-6.1-9.7-14.9zM157 114.2l0.2-0.2 1.6 0.8 26.2 15.4 5.3 2.6 8.5 3.2 0.7 1.2 0.3 1.6-0.1 2-0.5 1.6-0.4 0.5-0.6 0-7.4-4-6.6-4-17.5-12.7-7-5.4zM10.1 182.2l1-1.4 2.3-2.6 6.8-6 9.6-7 9.1-5.4 10.6-5 7.3-2.8 10-2.4 9.4-1.6 6.6-0.5 21.4-0.1 10 0.5 17.6 2.1 37.4 5.5 23.6 4.1 0.4-0.4-5.9-3.4-24.5-11.4-12-6.3-23.9-14.9-8.7-6-1.8-1.4 0.4-0.2 4.5 2.2 30.2 16 9.5 4.4 15.5 6 21.7 6.5 0.8 0.5 0.6 1 1.2 3.7 1 0.7 0.4 0.7 2.3 4.9 0.3 2 0.4 1.4 2.6 4.6 2 2.5 1.4 1.3 1 0.4 23.6 0.4 64.2 0.2 0 2.4-86.2 0.4-6.8 0.4-0.8 0.5 0.6 0.5 2 1 5.9 2 13.5 3.2 20 3 26.3 2.8 2.7 0.6 0 0.2-137.3 0 0.5-3.8 1.3-2.4 3.1-2.8 3.4-1.9 6-2.1 6.6-1.5 6.4-1.1 15.4-1.6 0.6-0.6-0.8-0.4-8.1-3.6-11-3.4-34.4-7.6-13.7-2-7-0.7-27-0.3-8 0.6-12.4 1.8-7 1.9-9 3-5 2-6 2.9-13 7.7-10 6.2zM0 149.8l1.2 0.5 2.2 1.9 4 4.6 2.2 4 0.8 3.4-0.4 3-1.1 3.6-6.2 13.4-0.9 3.6-0.5 4.2-1.3 0z"/>
<path fill="#0000ff" d="M194.2 95.3l4.6 7.2 0.2 1.7-0.2 1.2-0.6-0.1-2.4-4.4-1.6-4.1-0.2-1zM187.5 107.8l0.3-0.1 10.9 11.5 0.7 2.6-0.2 1.4-0.4 0.8-1-0.6-4-5.3-5-7.8zM164.8 119.6l2 0.6 20 11.3 5.2 2.3 6.2 2.2 0.9 0.8 0.5 1.4 0.1 2-0.5 1.9-0.4 0.5-1-0.1-12-6.9-15.6-11.4-4.4-3.4zM22.5 172.2l5.1-4.4 7.3-5 6.2-3.6 9.5-4.4 5.2-2.1 5.4-1.6 11-2.2 8-1 25.6-0.2 9.4 0.6 17.6 2.1 35 5.1 12.4 2 13.3 2.7 1.7 0-1.8-1.4-6.5-3.6-23.1-10.6-11-5.7-20.5-12.7-7-5 0.5-0.1 5.8 2.7 22.6 11.7 9.7 4.3 11.9 4.5 22.4 6.7 1.2 1.2 1.4 4.6 1 0.6 0.4 0.6 2 4.2 1 3.8 2 3.8 2 2.8 2.6 2 2.4 0.3 85.8 0.4 0 1.8-90.2 0.6-4 0.5-0.4 0.6 0.6 0.4 4.2 2 6.5 2 6.2 1.6 15.3 2.7 28.4 3.7 2.2 0.6 0 0.2-128.8 0 0.5-3.8 1.4-2.4 2.9-2.7 5-2.5 5-1.6 6.4-1.5 7-1.1 17-1.6-0.2-0.6-5.1-2.4-6.5-2.6-6.2-2-7.8-2-31.2-6.5-15-2.2-8.4-0.6-25.3-0.1-7.7 0.7-11 1.5-8 2.1-11.6 3.8-6 2.6-12.4 6.2zM0 150.7l0.8 0.2 2 1.9 3.7 4.4 1.7 3.6 0.7 3.4-0.4 3-1.6 4.6-5.7 10.4-1 1.4-0.2 0z"/>
<path fill="#0010ff" d="M196.2 99.8l2 2.4 0.6 1.3 0 0.9-0.6 0.2-0.6-0.8-1.3-3zM191.2 112.4l7.5 7.4 0.5 2-0.4 1.7-1-0.5-3.6-4.8-3.2-5.4zM170.9 123.8l0.6 0 16.3 8.4 10.4 4 0.7 0.6 0.6 1.4 0.1 2-0.4 1.6-0.4 0.5-1-0.1-11.2-6.4-10.4-7.6zM34.7 164.8l0.1-0.6 1.8-1.4 4.9-3 8-4 6.3-2.6 5-1.6 10-2.1 6.4-1 5.6-0.4 23-0.2 10 0.7 16 2 38 5.5 12 2 12.4 2.7 2.6 0.2 0.1-0.2-2.1-1.6-7.4-4-22.6-10.4-10.9-5.6-16.2-10-4.9-3.4-0.4-0.6 0.4 0 5.6 2.6 17.4 8.7 10 4.3 10.7 4 21.7 6.5 1.2 1.5 1.1 4.4 0.3 0.5 1 0.4 0.4 0.6 1.7 3.5 1.3 4.2 2 3.8 2.6 3.3 1 0.9 1 0.5 28.4 0.6 59.8 0.4 0 0.6-88.2 0.8-4.6 0.5-2.3 0.4-0.1 0.6 0.7 0.4 4.1 2 5.6 2 5 1.4 12.6 2.5 26.7 4.1 1.6 0.6 0 0.2-121 0 0.5-3.8 1.8-3 3.4-2.6 4.4-2.1 6.6-1.9 8-1.6 9-1 10.5-0.8 2.2-0.4-0.4-0.6-2.9-1.4-5.8-2.6-7.1-2.4-7-2-32.2-7-15.9-2.5-9.4-0.8-22.6-0.3-9 0.4-14 1.9-8 2zM0 151.5l0.8 0.3 1.1 1 3.5 4.4 1.7 3.6 0.6 3.4-0.6 3.6-1.5 4-3.1 5.4-2.3 3-0.2 0z"/>
<path fill="#0020ff" d="M193.5 115.8l0.3-0.2 4.4 3.9 0.8 1.7-0.2 1.8-0.6 0-1.4-1.8-2.6-3.7zM176.2 127.2l0.6 0 13 6.2 8.4 3.1 0.8 0.7 0.5 1.6-0.1 2-0.6 1.2-1-0.1-9.9-5.7-7.1-5zM44.1 159.8l1.2-1 3.5-2 6.7-3 6.5-2 9.2-2.1 5.6-0.8 5-0.5 24.4-0.2 7.6 0.5 16 1.9 41.4 5.9 13.6 2.4 13.4 3 1 0.6 0.6-0.7 0-1.1-1.6 0.2-11.4-6.1-20.5-9.6-9-4.4-12.6-7.6-5.6-4 0.7 0 17.4 8.3 11 4.5 9.1 3.2 20.9 6.3 0.8 0.7 0.5 1 0.7 5 1.6 0.5 0.4 0.6 1.5 2.9 1.5 4.6 1.6 3 2.4 3.5 2 1.8 2 0.3 28.9 0.8-31.3 0.9-4.9 0.7-1.6 0.4 0 0.6 1.5 1 6.9 3 7.5 2.2 11.6 2.5 21.2 3.7 1.4 0.6 0 0.2-114.2 0 0.5-3.8 0.7-1.4 1.2-1.6 3.6-2.8 4.6-2 6.4-1.9 6-1.1 11-1.3 12-0.9 1.3-0.4-1.4-1-5.2-2.6-7.9-3-12.3-3.4-29.9-6.5-14-2.2-8.6-1-25.4-0.4-6 0.2-16 1.9-15.6 3.4-1 0zM0 152.3l0.8 0.3 1.1 1.2 2.9 4 1.3 3 0.5 3.4-0.4 3-1.3 3.6-2.8 5-1.9 2.3-0.2 0z"/>
<path fill="#0030ff" d="M195.6 118.2l1.2 0.5 1.4 1.4 0.6 1.1-0.1 1-0.5 0.3-2-2.7zM180.7 130.2l1.1 0 8.4 3.8 8 2.7 0.6 0.4 0.5 1.1 0.1 1.6-0.3 1.4-0.3 0.6-1-0.1-6.1-3.5-7-4.4zM145.2 132.8l0.6-0.1 14 6.2 13 5.1 25.4 7.8 0.9 1 0.5 1.4 0.4 2.6 0 2.4-1.2 1.3-1-0.2-11.5-6.1-27.4-13-7.1-4zM50.7 157.2l1-1 1.8-1 4.9-2 7.5-2 8.3-1.6 8-0.9 23.6-0.2 8 0.5 16 1.8 40 5.7 14.4 2.6 13.6 3 1.4 0.8 0.6-0.3 0.6-2.8 0.8-0.6 1 0.7 1 1.8 1.6 4.2 2 4.3 3.4 4.7 1.6 0.8 7.1 0.5-7.1 0.5-6.9 1.1-1.1 0.4 0.8 1 5.6 2.9 7.6 2.6 9 2.3 19.7 4.2 1.1 0.6 0 0.2-107.3 0 0.5-3.8 0.7-1.4 1.2-1.6 3.5-2.7 4.6-2 5-1.5 8-1.6 8-1 16-1.3 0.5-0.3-0.5-0.6-9.6-4.4-10.4-3.6-10-2.4-28.6-6.3-18.4-2.6-6-0.4-25.6-0.2-17 1.6-9.4 1.5zM0 153.1l0.8 0.3 0.8 0.8 2.4 3.6 1.2 3 0.5 3-0.3 3-1.3 3.4-2.3 4.5-1.6 1.7-0.2 0z"/>
<path fill="#0040ff" d="M197.8 120.4l0.4 0.6 0 0.6-0.4-0.4-0.2-0.4zM184.8 132.3l13.4 4.7 0.6 0.4 0.5 1.4 0 1.4-0.4 1-0.7 0.4-7.6-4.4-5.1-3.4-1-1zM151.5 136.2l0.9 0 12.8 5.2 9.6 3.5 23.4 7.1 1 1.2 0.4 1.6 0.3 2.4-0.3 2-0.8 1-1-0.1-11-5.9-25.3-12-6.4-3.4zM57.4 154.8l3.1-1.6 5.3-1.4 6.7-1.6 5.7-0.8 5.6-0.4 23.4-0.2 6.6 0.5 17.2 1.9 40.8 5.8 14 2.6 12 2.8 1.4 0.8 0.6-0.2 0.8-2.8 0.6-0.4 0.6 0.2 1 1.2 3.4 8.4 1.6 2.5 2.7 3.7 0 0.4-1.3 0.6-5.1 1-0.7 0.4 0.8 1 4.6 2.6 6 2.3 6 1.9 16.4 4.2 3 1 0.8 0.6 0 0.2-100.6 0 0.5-3.8 0.8-1.4 1.1-1.6 3.4-2.6 5-2.2 6.6-1.8 6.4-1.2 8.6-1 15.6-1.2 0.7-0.4-0.6-0.6-7-3.4-9.4-3.6-10.6-3-31.3-6.9-15.4-2.4-9-0.8-24-0.4-6.6 0.2-16.4 1.3-1-0.1zM0 153.9l1.3 0.9 2.2 3.4 1.1 3 0.3 2.6-0.2 2.4-1.2 3.6-1.8 3.4-1.5 1.8-0.2 0z"/>
<path fill="#0050ff" d="M187.4 134.2l1.4 0 9.4 3 0.6 0.6 0.4 1.4-0.4 2-1 0-8.1-5zM157.5 139.2l2.3 0.6 16 5.7 14 4 8.4 2.7 0.9 1 0.4 1.6 0.2 2.4-0.3 2-0.6 0.8-1-0.2-11.6-6-21.1-10-5.5-3zM64.7 153.2l2-1 3.5-1 4.7-1 4.9-0.6 9.9-0.4 19.5 0 23.7 2.6 40.3 5.7 8.6 1.5 16 3.7 1.4 0.8 0.6 0 1-2.7 0.4-0.4 0.6 0.1 1 1.2 3.4 8.1 3.5 6-0.2 0.4-1.1 0.6-4.9 1-0.4 0.4 0.3 0.6 3.8 2.4 4.6 2.1 6 2.2 16 4.9 2.1 0.8 0.7 0.8-96.1 0 0.5-3.8 1.5-2.4 3.3-2.8 4-1.9 6.4-2.1 8-1.5 9-1.1 16-1.2 0.6-0.4-2.5-1.6-8.6-4-12.1-4-8-2-32.4-7-12-1.8-8-0.8-25-0.5-14 0.6zM0 154.7l1.2 0.9 1.6 2.6 1.1 3 0.3 2.6-0.3 2.4-0.9 3-1.8 3.4-1 1.1-0.2 0z"/>
<path fill="#0060ff" d="M190.2 135.8l0.6-0.3 7.4 2 0.8 1.3-0.2 2.1-0.6 0.2-1.7-0.9-4.6-3zM163.6 142.2l0.2-0.2 1.4 0.2 11 3.7 13 3.7 9 2.9 0.7 0.7 0.6 2 0.1 2.6-0.4 1.3-0.4 0.6-1-0.1-11.6-6-17.3-8.4zM72.3 151.8l3.2-1 2.8-0.6 4.9-0.4 22-0.4 6.6 0.3 22.9 2.5 38.1 5.4 8.4 1.5 16.6 3.8 2 1 1-2.5 0.4-0.4 0.6 0.1 1 1.1 3 7 3 5.6 0.3 1-0.3 0.4-1.3 0.6-4.4 1-0.3 0.4 0.3 0.6 3.1 2.1 4.6 2.3 22.1 8 0.7 0.8-93 0 0.5-3.8 0.8-1.4 1.2-1.6 3.7-2.7 4.4-1.9 5.6-1.6 8-1.5 9-1 16.2-1.3 0.4-0.4-0.6-0.6-10-4.9-11.6-3.9-8-2.1-32-7.2-13-2.1-7.4-0.8-35.3-1zM0 155.5l1.1 0.7 1.4 2.6 0.8 2.4 0.2 2.6-0.3 2.4-0.7 2.6-1.3 2.6-1 1.1-0.2 0z"/>
<path fill="#0070ff" d="M192.6 136.8l1.6-0.1 4 1 0.7 1.1-0.1 1.7-0.6 0.3-1.2-0.6-3.7-2.4zM168.4 144.2l1.3 0 17.5 5 11 3.5 0.9 1.1 0.3 1.4 0.1 2-0.3 1.6-0.4 0.7-1-0.1-11-5.8-14.2-6.8zM81.5 151.2l0.4-0.4 6.4-0.6 17.5-0.3 7.8 0.3 23 2.6 37.2 5.1 9 1.7 15 3.5 2 1.2 1-2.3 0.4-0.5 0.6 0.2 1.4 2 2.4 5.5 3 6-0.1 0.6-0.5 0.4-5.2 1.5-0.2 0.5 0.3 0.6 2.9 2 4.4 2.4 20.4 8 0.6 0.8-90.5 0 0.5-3.8 0.8-1.4 1.2-1.6 3.6-2.6 4.4-1.9 5.6-1.6 8-1.6 9-1 16.9-1.3 0.4-0.4-0.6-0.6-10.2-5-11.1-3.8-8-2.2-31.4-7.3-13.6-2.3-7.4-0.9-22.6-0.9zM0 156.3l0.8 0.5 1.3 2.4 0.6 2 0.2 2.6-0.2 2-0.7 2.4-0.8 2-1 1.2-0.2 0z"/>
<path fill="#0080ff" d="M194.4 137.8l1.4-0.3 2.4 0.6 0.6 0.8 0 1.1-0.6 0.5-0.4-0.1-2.5-1.6zM172.9 146.2l0.3-0.2 9.7 2.2 15 4.6 0.9 0.6 0.5 1.4 0.1 2.4-0.3 1.6-0.3 0.4-1-0.1-21.5-10.9zM103.5 151.2l0.2-0.4 4.1-0.2 10.9 0.6 15.4 1.6 27.1 3.4 13 2 10 1.9 13.6 3.2 2 1.4 1-2.1 0.4-0.5 0.6 0.1 1.4 2 4.4 9.6 0.4 1.4-0.1 0.6-0.7 0.4-4.8 1.6 0 0.4 0.3 0.6 2.5 1.9 4.6 2.5 18.8 8 0.6 0.8-88.4 0 0.5-3.8 0.8-1.4 1.1-1.5 3.6-2.6 5-2.2 5.4-1.5 7.6-1.4 10-1.1 13.7-0.7 2.9-0.6 0.3-0.4-4.4-2.6-7.5-3.4-7.6-2.8-8-2.3-36.4-8.8-14-2.5zM0 157.1l0.8 0.5 0.8 1.6 0.8 4-0.6 4-0.8 2-0.8 1.1-0.2 0z"/>
<path fill="#008fff" d="M196.1 138.2l1.1-0.1 1 0.4 0.4 0.7-0.4 0.9-1.5-0.9zM176.4 147.2l9.4 2 12.4 3.9 0.8 1.1 0.3 1.6 0 2-0.4 1-0.7 0.3-20.1-10.3-1.5-1zM123.4 152.8l5.6 0 11 1 33.2 4.4 10 1.8 15 3.7 1.6 1.4 1-2 0.4-0.5 0.6 0.1 1.4 1.9 3.9 8.6 0.4 1.6-0.3 1-0.7 0.4-4.3 1.4 0 0.6 0.4 0.6 2.6 2 3.6 2.1 18 8.3 0.6 0.8-86.5 0 0.5-3.8 1.8-2.8 3.6-2.6 5-2.2 6-1.6 7-1.3 10-1.1 14.7-0.8 2.6-0.6 0.2-0.4-3.4-2-7.2-3.6-10.5-3.8-9-2.6-21.3-5-16.5-4.6zM0 158.1l0.8 0.6 0.4 1.1 0.7 3.4-0.5 3.6-1.2 2.3-0.2 0z"/>
<path fill="#009fff" d="M197.8 138.9l0.3 0.3-0.5 0zM179.3 148.8l0.5-0.4 4.9 0.8 13.1 3.9 1 0.8 0.3 0.9 0.2 2-0.3 1.4-0.4 0.6-0.8-0.1-16.1-8.5zM132.2 154.2l0.4-0.4 1.6-0.1 7.3 0.5 16.7 2 16.6 2.4 9.4 1.9 13 3.1 1.5 0.6 1.1 1.2 1-1.7 0.4-0.5 0.6 0.1 1 1 1 1.8 2.6 6.1 0.6 2-0.2 1-1.1 1-3.5 1.2-0.2 0.4 0.4 1 2.4 1.9 3.4 2.2 17.1 8.3 0.5 0.8-84.8 0 0.5-3.8 0.8-1.4 1.2-1.6 3.7-2.6 5-2.1 5.6-1.5 7.4-1.3 10-1.1 15.2-0.8 2.4-0.6 0.1-0.4-3.4-2-6.7-3.4-9-3.5-10-3-23-5.7-6.3-2zM0 159.2l0.2 0 0.7 1 0.5 3-0.2 2.6-1 2-0.2 0z"/>
<path fill="#00afff" d="M182 149.2l5.5 1 10.7 3.4 0.6 0.6 0.3 1.6-0.3 2.4-0.6 0.4-14.8-7.8-1.5-1zM137.2 154.8l5-0.1 10 1.1 25 3.4 8.6 1.8 12 2.9 1 0.6 1 1.3 1.4-2.1 0.6 0.1 1 1 1 1.8 2 4.6 0.7 2.6-0.1 1-0.6 1-0.7 0.4-3 1-0.3 0.6 0.5 1 1.9 1.7 3.6 2.3 16.1 8.4 0.5 0.8-83.4 0 0.6-3.8 0.8-1.4 1.2-1.6 3.6-2.5 5-2.1 5.6-1.5 7-1.3 10.4-1.1 16.1-0.9 2.1-0.6 0.1-0.4-9.7-5.2-8.6-3.5-11.4-3.5-21-5.4-5.3-2zM0 160.6l0.2 0 0.5 1.2 0.2 1.4-0.1 1.8-0.6 1.3-0.2 0z"/>
<path fill="#00bfff" d="M184.1 150.2l1.7 0 2.5 0.6 9.8 3 0.7 0.7 0.2 1.3-0.2 2.3-0.6 0.3-1.4-0.6-10.9-6zM141.7 155.8l2.5-0.4 10 0.8 12.1 1.6 12.5 1.9 9 1.9 10 2.5 1 0.6 1 1.5 0.4-0.3 1-1.7 0.6 0.2 1 1 1 1.7 1.5 3.7 0.7 2.4-0.3 1.6-0.6 1-3.2 1.4-0.3 0.6 0.6 1 2 1.8 3.6 2.4 15 8.2 0.5 0.8-82.2 0 0.6-3.8 0.8-1.4 1.2-1.6 3.6-2.4 5.5-2.3 7-1.8 7.4-1.2 8.6-0.8 15-0.8 3.3-0.7-0.1-0.4-5.2-3-6.6-3.2-5-2.1-11-3.6-19.6-5.1-3.1-1z"/>
<path fill="#00cfff" d="M186.4 151.2l0.8-0.2 1.6 0.2 9 2.6 0.6 0.4 0.5 1-0.1 2.6-0.6 0.3-1-0.3-8-4.6zM146.8 156.4l3.1-0.2 10.6 1 20.1 3 17.2 4.1 1 0.6 1 1.8 0.4-0.2 1-1.7 0.6 0.1 1 1.1 1 1.7 1.4 3.5 0.3 1.6-0.2 1.4-0.8 1.6-2.9 1.4-0.1 0.6 0.5 1 1.8 1.6 3.4 2.5 14.6 8.3 0.4 0.8-81 0 0.6-3.8 0.8-1.4 1.2-1.6 3.6-2.4 5.4-2.2 7.2-1.8 7.2-1.2 8.6-0.8 15.4-0.9 3.5-0.7-0.1-0.4-3.4-2-12-5.8-11.4-4-18.8-5.2-2.4-1z"/>
<path fill="#00dfff" d="M188.8 152.1l0.4-0.2 2.3 0.3 6.3 1.8 0.4 0.3 0.6 0.9 0 2.2-0.6 0.5-0.5-0.1-7-4zM141.5 189.8l0.6-2 2.1-2.8 1.7-1.2 2.7-1.6 5.4-2 6.8-1.5 7-1.1 8.4-0.8 17.7-1 1.4-0.6-0.1-0.4-1.6-1-12.4-6.3-11-4-17.2-5.3-1.1-0.4-0.5-0.6 1.8-0.1 4.2 0.1 9.2 1 10.1 1.6 7.8 1.4 13.3 3.3 1 0.7 1 2 0.4-0.1 1-1.8 0.6 0.2 2 2.8 0.9 2.5 0.3 2-0.5 2-0.6 1-2.5 1.4 0 0.6 0.5 1 1.9 1.7 3 2.3 14 8.4 0.5 0.8-80 0z"/>
<path fill="#00efff" d="M191.2 152.9l2.8 0.3 3.8 1.1 0.4 0.3 0.5 1.2-0.2 1.4-0.3 0.4-0.4-0.1-6.2-3.7-0.5-0.6zM141.7 189.2l0.5-1.4 2-2.7 1.8-1.3 2.8-1.6 5.5-2 6.5-1.5 7-1 8.4-0.8 16-0.9 2.6-0.2 1.2-0.6-0.3-0.4-2.9-1.8-12-6-8-3.1-15.7-5.1-0.8-0.6 1.9-0.3 5.9 0.3 11.3 1.6 14.8 2.9 8 2.2 0.8 0.9 0.8 1.9 0.4 0.1 1-1.9 0.6 0.2 1 1.2 1 1.9 0.7 3-0.2 1.6-0.5 1.4-2.6 2 0.6 1.5 1.4 1.5 3 2.4 13.8 8.6 0.4 0.8-79 0zM199.8 173.4l-0.6 1.4 0.1 0.4 0.5 0.2 0.3-0.6z"/>
<path fill="#00ffff" d="M193.4 154.2l0.4-0.4 4 0.8 0.4 0.4 0.3 0.8-0.3 1.4-1.2-0.4zM141.7 189.8l0.5-1.9 2-2.7 3.7-2.4 6.6-2.6 6.6-1.4 6.7-1.1 8.4-0.8 16.6-0.8 2.8-0.3 1-0.6-0.3-0.4-2.1-1.3-12.4-6.4-6.6-2.6-14.1-5.3-0.2-0.4 1.9-0.2 7.3 0.6 7.1 1 7.9 1.6 10.4 2.4 2.9 1 0.9 1.6 0.5 1.7 0.4 0.2 0.6-1.6 0.4-0.6 0.6 0.3 1.5 2.4 0.6 3-0.7 3-1.8 1.6-0.3 0.4 0.6 1.6 1.5 1.6 3 2.4 12.3 8 1.1 1.2-78.1 0zM199.8 172.4l-0.8 2.8 0.8 0.5 0.4-0.5 0.1-0.4z"/>
<path fill="#10ffef" d="M195.7 154.8l2.1 0.3 0.4 0.5 0 1.1-0.4 0.1-2.1-1.6zM142.2 188.2l0.9-1.4 1.3-1.6 3.7-2.4 6.7-2.6 6.6-1.4 6.8-1 8-0.8 17-0.8 3.2-0.4 0.8-0.6-0.3-0.4-2.1-1.3-12.6-6.5-16.6-6.8-0.7-0.4 1.9-0.4 4.9 0.4 9.9 1.4 9.2 2 7.4 2.1 0.8 0.9 0.7 2.6-0.1 3.4-0.8 3 0.4 0.6 1 0 0.2-0.6-0.4-4.4 0.8-2.9 0.4-0.7 0.6 0.2 1.2 2.4 0.4 2.4-0.7 3-1.6 1.6-0.1 1 0.6 1 4.2 3.8 12 8.2 1 1.2-77.1 0z"/>
<path fill="#20ffdf" d="M168.9 160.2l4 0 7.4 1 9.7 2 7.8 2.1 1.1 0.9 0.6 2.6 0 3-0.7 2.7-0.6 0.7-4-2.3-11-5.8-13.4-5.9-0.9-0.4zM218.1 191.8l0 0.2-76.3 0 0.6-3.8 0.8-1.4 1.3-1.6 3.8-2.4 6.8-2.6 9.8-2 9-1 19.9-1 3.5-0.4 0.9-0.5 1 0.6 1 0.1 0.5-0.8-0.2-5 0.3-1.5 0.4-0.8 0.6 0.3 0.7 1.6 0.4 2.4-0.4 2.6-1.7 2 0.1 1 0.6 1 1.7 1.9 2.6 2.1 11.4 8z"/>
<path fill="#30ffcf" d="M172.2 161.2l0.6-0.3 1.4 0 7.6 0.9 9.4 1.9 6.6 1.7 1 0.9 0.6 2.5 0 2.4-0.6 2.8-0.6 0.6-0.4-0.1-13-7-11.2-5.3zM201.2 168.8l0.6 0.4 0.4 1 0.3 2-0.4 2-0.9 1.4-0.4-1.6-0.2-2.2 0.2-1.9zM217.5 191.8l0 0.2-75.6 0 0.2-2.2 0.4-1.6 0.8-1.4 1.4-1.6 3.8-2.4 6.9-2.6 6.9-1.4 7.1-1 7.8-0.7 17-0.8 4-0.5 2 0.5 1.2 2.5 2.8 3 12.4 9z"/>
<path fill="#40ffbf" d="M175.4 161.8l2.8-0.2 4.9 0.6 7.3 1.6 7.6 2 0.8 0.7 0.5 2.3 0 2.4-0.5 2.4-0.6 0.6-1-0.3-20.1-10.7-1.5-1zM201.2 169.9l0.6 0.6 0.2 1.7-0.2 1.6-0.6 0.6-0.3-2.2zM216.9 191.8l0 0.2-74.8 0 0.1-2.2 0.6-1.7 1-1.7 1.1-1.2 3.8-2.4 7-2.6 7-1.4 7.4-1 28.1-1.8 2 0.6 1.1 2.2 2.9 3.1 11.8 8.9z"/>
<path fill="#50ffaf" d="M178.3 162.8l0.5-0.5 1-0.1 4.5 0.6 7.4 1.4 6.1 1.6 1 1 0.3 1.4 0.1 2.6-0.4 2.4-0.6 0.6-1-0.2-16.8-9.4zM216.4 191.8l0 0.2-74.2 0 0.6-3.5 0.9-1.7 1.4-1.6 3.9-2.4 5.2-2 6.2-1.6 10.4-1.4 27.4-1.6 1.9 0.6 1.7 2.7 2.4 2.6 11.3 8.7z"/>
<path fill="#60ff9f" d="M180.9 163.2l1.3-0.2 3.2 0.2 5.3 1 7.1 1.9 1 1 0.2 1.1 0.1 2.6-0.4 2-0.5 0.7-1-0.3-13.2-7.4-2.3-1.6zM215.8 191.8l0 0.2-73.3 0 0.2-2.8 0.5-1.3 2.1-2.7 3.9-2.4 5.4-2 6.3-1.6 10.6-1.4 26.7-1.4 1.7 0.4 1.9 2.8 2.4 2.7 10.8 8.5z"/>
<path fill="#70ff8f" d="M183.5 163.8l2.3-0.1 3.4 0.5 8.6 2.1 0.9 0.9 0.3 1.6-0.1 2.4-0.7 1.9-1-0.2-9.8-5.7-3.6-2.4-0.5-0.6zM215.3 191.8l0 0.2-72.6 0 0.1-1.8 0.5-2 0.9-1.4 1.4-1.6 4-2.4 5.4-2 9.2-2 8.2-1 25.8-1.3 1.6 0.4 2 2.8 2.4 2.8 10.2 8.3z"/>
<path fill="#80ff80" d="M185.4 164.8l0.4-0.4 1-0.1 3.4 0.4 4.8 1.1 3.2 1 0.6 1 0.1 1.4-0.1 2.4-0.6 1.1-1-0.2-8.1-4.7-2.9-2zM214.8 191.8l0 0.2-71.7 0 0.1-2.2 0.5-1.6 0.8-1.4 1.4-1.6 4-2.4 5.5-2 9.5-2 8.5-1 24.8-1.1 1.6 0.3 2.4 3.5 2 2.2 9.2 7.5z"/>
<path fill="#8fff70" d="M187.5 165.2l1.3-0.2 2.4 0.2 6.6 1.6 0.5 0.4 0.5 1.6 0 2.1-0.6 1.4-1-0.2-6.4-3.9-2.8-2zM214.2 191.8l0 0.2-70.7 0 0.1-2.2 0.5-1.6 0.8-1.4 1.4-1.6 4-2.4 5.6-2 9.7-2 9-1 23.6-1 1.6 0.4 2.4 3.5 2 2.2 8.7 7.3z"/>
<path fill="#9fff60" d="M189.7 165.8l3.1 0.1 4.1 0.9 1.2 0.4 0.6 2-0.5 2.6-1-0.1-5.5-3.5-1.8-1.4-0.4-0.6zM213.7 191.8l0 0.2-69.8 0 0.2-2.2 0.4-1.6 0.9-1.4 1.4-1.6 4-2.4 5.6-2 10-2 9.5-1 22.3-0.9 1.6 0.4 2.4 3.5 2 2.3 6 5.1z"/>
<path fill="#afff50" d="M191.5 166.8l0.7-0.4 1 0.1 4.6 0.8 0.4 0.5 0.3 1-0.3 2.4-0.4 0.2-3.6-2.2-2-1.4zM213.2 191.8l0 0.2-68.8 0 0.2-2.2 0.5-1.6 0.8-1.4 1.4-1.6 4-2.4 5.7-2 7-1.6 7.5-1 11.3-0.7 15-0.4 1.4 0.1 0.6 0.3 4 5.3 6 5.4z"/>
<path fill="#bfff40" d="M193.8 167.8l0.4-0.6 3.6 0.5 0.5 1.1-0.1 1.6-0.4 0.4-3.1-2zM212.6 191.8l0 0.2-67.6 0 0.2-2.2 0.4-1.6 0.9-1.4 1.4-1.6 4.1-2.4 5.7-2 7.2-1.6 7.9-1 9.4-0.6 16.6-0.3 1 0.4 4 5.3 5.6 5.2z"/>
<path fill="#cfff30" d="M196.3 168.2l1.5 0.1 0.2 0.9-0.2 0.8-1.1-0.8-0.4-0.4zM212.1 191.8l0 0.2-66.5 0 0.1-2.2 0.5-1.6 0.9-1.4 1.4-1.6 4.2-2.4 5.9-2 7.4-1.6 8.4-1 7.8-0.5 15.6-0.3 1.4 0.1 0.6 0.4 4 5.3 5.2 5z"/>
<path fill="#dfff20" d="M211.6 191.8l0 0.2-65.4 0 0.6-3.5 1.8-2.7 3.8-2.6 5.2-2 9.5-2 8.7-0.9 9.8-0.5 12.2-0.3 1.4 0.2 0.6 0.3 4 5.4 4.8 4.8z"/>
<path fill="#efff10" d="M211.1 191.8l0 0.2-64.3 0 0.5-3.2 0.8-1.6 1.2-1.4 3.9-2.6 5.4-2 6.7-1.4 7.4-1 11.1-0.8 15-0.3 1 0.5 3.4 4.8 5.1 5.2z"/>
<path fill="#ffff00" d="M210.6 191.8l0 0.2-63 0 0.1-2.2 0.5-1.6 1.9-2.4 3.9-2.6 5.6-2 7.1-1.4 8-1 9.5-0.7 14.6-0.2 1 0.5 3.4 4.8 4.7 5z"/>
<path fill="#ffef00" d="M210.1 191.8l0 0.2-61.8 0 0.5-3.2 0.8-1.6 1.2-1.3 3.1-2.1 5.1-2 6.3-1.6 9.5-1.2 10.4-0.7 13.6-0.2 1 0.5 3.4 4.8 4.4 4.8z"/>
<path fill="#ffdf00" d="M209.7 191.8l0 0.2-60.6 0 0.1-2 0.6-1.6 2-2.6 3.1-2 5.2-2 6.7-1.6 7.4-1 10-0.6 14.6-0.3 1 0.5 3.4 4.8 4.5 5.2z"/>
<path fill="#ffcf00" d="M209.3 191.8l0 0.2-59.4 0 0.2-2.2 0.6-1.6 2-2.4 3.2-2 5.3-2 7.3-1.6 8.3-0.9 8.4-0.6 13.6-0.1 1 0.4 3.4 4.9 3.8 4.3z"/>
<path fill="#ffbf00" d="M208.9 191.8l0 0.2-58.1 0 0.5-3.2 1.8-2.6 2.9-2 5-2 6.3-1.4 7.5-1.1 9.4-0.7 14.6-0.2 1 0.4 3.4 4.9 3.5 4.1z"/>
<path fill="#ffaf00" d="M208.5 192l-56.7 0 0.5-3.2 1.8-2.6 3-2 5.2-2 6.8-1.4 8-1 8.1-0.6 13.6-0.2 1 0.4 6.6 8.8z"/>
<path fill="#ff9f00" d="M208.2 192l-55.5 0 0.6-3.2 1.9-2.6 3.1-2 4.5-1.6 5.4-1.4 8-1.1 9-0.6 11-0.2 3 0.1 1 0.8 5.9 8z"/>
<path fill="#ff8f00" d="M207.8 192l-54 0 0.4-2.8 1.6-2.4 3-2.1 4.8-1.9 6.7-1.6 7.5-0.9 8.4-0.5 13-0.1 1 0.7 5.3 7.4z"/>
<path fill="#ff8000" d="M207.5 192l-52.6 0 0.4-2.8 1.7-2.4 2.9-2 5.3-2 6-1.3 7-0.9 8.6-0.6 12.4-0.1 1 0.8 5.1 7.1z"/>
<path fill="#ff7000" d="M207.1 192l-51.1 0 0.5-2.8 0.8-1.4 0.9-1 3.1-2 3.9-1.6 6-1.3 7-1 8.6-0.6 12.4-0.1 1 0.8 4.8 6.8z"/>
<path fill="#ff6000" d="M206.8 192l-49.5 0 0.4-2.8 0.9-1.4 0.9-1 3.3-2 4-1.5 5-1.1 7-1 8-0.5 12.4-0.1 1 0.6 4.6 6.6z"/>
<path fill="#ff5000" d="M206.4 192l-47.9 0 0.5-2.8 1.4-2 2.9-2 3.9-1.4 5.6-1.4 6.4-0.8 8-0.6 12-0.1 1 0.7 4.3 6.2z"/>
<path fill="#ff4000" d="M206.1 192l-46.2 0 0.4-2.8 1.5-2 3.1-2 3.9-1.3 5-1.2 7-0.9 16-0.6 2.4 0 1 0.7 4.1 5.9z"/>
<path fill="#ff3000" d="M205.8 192l-44.6 0 0.6-2.8 1.4-1.9 2.4-1.5 3.9-1.6 4.7-1.1 6.4-0.9 7.2-0.5 11.4-0.1 1 0.6 3.8 5.6z"/>
<path fill="#ff2000" d="M205.4 192l-42.7 0 0.3-2.2 1.3-2 2.9-2 3.6-1.3 5-1.1 5.4-0.8 7-0.5 11-0.1 1 0.6 3.6 5.2z"/>
<path fill="#ff1000" d="M205.1 192l-40.9 0 0.4-2.2 1.4-2 2.2-1.6 3.9-1.4 4.4-1 5.7-0.8 14.6-0.6 2.4 0 1 0.6 3 4.3z"/>
<path fill="#ff0000" d="M166.2 189.8l1.5-2 2.4-1.6 3.7-1.2 5-1.1 5.4-0.6 14-0.5 1.6 0.2 1.4 1.6 2.1 3.2 1.4 4.2-38.9 0z"/>
<path fill="#ef0000" d="M204.3 192l-36.8 0 0.4-2.2 1.1-1.6 2.1-1.4 3.1-1.3 4-0.9 5.6-0.8 13-0.6 2.4 0.1 1.6 1 2.2 3.5z"/>
<path fill="#df0000" d="M203.9 192l-34.7 0 0.5-2.2 1.1-1.6 2.4-1.4 2.9-1 4.1-1 4.4-0.6 12.2-0.5 2.4 0 1.6 1.1 1.9 3z"/>
<path fill="#cf0000" d="M203.5 192l-32.5 0 0.3-1.8 1-1.4 2.1-1.6 2.6-1 3.8-0.8 4.2-0.6 11.8-0.6 2.4 0 1.6 1 1.6 2.6z"/>
<path fill="#bf0000" d="M203.1 192l-30.2 0 0.3-1.8 1.1-1.4 1.4-1 2.5-1.1 3.6-0.9 4-0.6 11-0.5 2.4 0 1.6 1 1.3 2.1z"/>
<path fill="#af0000" d="M202.6 192l-27.8 0 0.4-1.8 0.7-1 1.9-1.3 2.4-0.9 7-1.3 10-0.5 2.6 0.2 1 0.8 1 1.6z"/>
<path fill="#9f0000" d="M177.3 190.2l0.8-1 1.5-1 2.7-1 6.9-1.1 9.6-0.3 1.4 0.4 0.9 1 0.5 1.6 0.5 3.2-25.2 0z"/>
<path fill="#8f0000" d="M179.4 190.2l1-1 3.4-1.5 6-1 9-0.4 1 0.2 1 0.9 0.4 1.4 0.4 3.2-22.6 0z"/>
<path fill="#800000" d="M181.4 190.8l0.8-1 3-1.6 5.7-1 7.9-0.2 1 0.1 0.6 0.7 0.6 4.2-19.8 0z"/>
<rect x="0.6" y="0" width="1.6" height="192" fill="#fff" opacity="1.00"/>
<rect x="198.1" y="0" width="3.3" height="192" fill="#fff"/>
<path d="M0 170.7h7M300 170.7h-7M0 149.3h7M300 149.3h-7M0 128.0h7M300 128.0h-7M0 106.7h7M300 106.7h-7M0 85.3h7M300 85.3h-7M0 64.0h7M300 64.0h-7M0 42.7h7M300 42.7h-7M0 21.3h7M300 21.3h-7M40.0 0v3M40.0 192v-3M80.0 0v3M80.0 192v-3M120.0 0v3M120.0 192v-3M160.0 0v3M160.0 192v-3M200.0 0v3M200.0 192v-3M240.0 0v3M240.0 192v-3M280.0 0v3M280.0 192v-3" stroke="#111" stroke-width="1" fill="none"/>
<rect x="0" y="0" width="300" height="192" fill="none" stroke="#222" stroke-width="1.2"/>
<text class="n" x="-9.8" y="177.2" text-anchor="end">10</text>
<text class="n" x="-9.8" y="155.8" text-anchor="end">20</text>
<text class="n" x="-9.8" y="134.5" text-anchor="end">30</text>
<text class="n" x="-9.8" y="113.2" text-anchor="end">40</text>
<text class="n" x="-9.8" y="91.8" text-anchor="end">50</text>
<text class="n" x="-9.8" y="70.5" text-anchor="end">60</text>
<text class="n" x="-9.8" y="49.2" text-anchor="end">70</text>
<text class="n" x="-9.8" y="27.8" text-anchor="end">80</text>
<text class="n" x="-9.8" y="6.5" text-anchor="end">90</text>
<text class="n" x="-17" y="218.2" text-anchor="middle">0</text>
<text class="n" x="38.7" y="218.2" text-anchor="middle">0.2</text>
<text class="n" x="78.7" y="218.2" text-anchor="middle">0.4</text>
<text class="n" x="118.7" y="218.2" text-anchor="middle">0.6</text>
<text class="n" x="158.7" y="218.2" text-anchor="middle">0.8</text>
<text class="n" x="198.7" y="218.2" text-anchor="middle">1.0</text>
<text class="n" x="238.7" y="218.2" text-anchor="middle">1.2</text>
<text class="n" x="278.7" y="218.2" text-anchor="middle">1.4</text>
</g>
<g transform="translate(956.3 287.8)">
<rect x="0" y="122.26" width="21.3" height="2.24" fill="#00008f"/>
<rect x="0" y="120.32" width="21.3" height="2.24" fill="#00009f"/>
<rect x="0" y="118.38" width="21.3" height="2.24" fill="#0000af"/>
<rect x="0" y="116.44" width="21.3" height="2.24" fill="#0000bf"/>
<rect x="0" y="114.50" width="21.3" height="2.24" fill="#0000cf"/>
<rect x="0" y="112.56" width="21.3" height="2.24" fill="#0000df"/>
<rect x="0" y="110.62" width="21.3" height="2.24" fill="#0000ef"/>
<rect x="0" y="108.67" width="21.3" height="2.24" fill="#0000ff"/>
<rect x="0" y="106.73" width="21.3" height="2.24" fill="#0010ff"/>
<rect x="0" y="104.79" width="21.3" height="2.24" fill="#0020ff"/>
<rect x="0" y="102.85" width="21.3" height="2.24" fill="#0030ff"/>
<rect x="0" y="100.91" width="21.3" height="2.24" fill="#0040ff"/>
<rect x="0" y="98.97" width="21.3" height="2.24" fill="#0050ff"/>
<rect x="0" y="97.03" width="21.3" height="2.24" fill="#0060ff"/>
<rect x="0" y="95.09" width="21.3" height="2.24" fill="#0070ff"/>
<rect x="0" y="93.15" width="21.3" height="2.24" fill="#0080ff"/>
<rect x="0" y="91.21" width="21.3" height="2.24" fill="#008fff"/>
<rect x="0" y="89.27" width="21.3" height="2.24" fill="#009fff"/>
<rect x="0" y="87.33" width="21.3" height="2.24" fill="#00afff"/>
<rect x="0" y="85.39" width="21.3" height="2.24" fill="#00bfff"/>
<rect x="0" y="83.45" width="21.3" height="2.24" fill="#00cfff"/>
<rect x="0" y="81.51" width="21.3" height="2.24" fill="#00dfff"/>
<rect x="0" y="79.57" width="21.3" height="2.24" fill="#00efff"/>
<rect x="0" y="77.62" width="21.3" height="2.24" fill="#00ffff"/>
<rect x="0" y="75.68" width="21.3" height="2.24" fill="#10ffef"/>
<rect x="0" y="73.74" width="21.3" height="2.24" fill="#20ffdf"/>
<rect x="0" y="71.80" width="21.3" height="2.24" fill="#30ffcf"/>
<rect x="0" y="69.86" width="21.3" height="2.24" fill="#40ffbf"/>
<rect x="0" y="67.92" width="21.3" height="2.24" fill="#50ffaf"/>
<rect x="0" y="65.98" width="21.3" height="2.24" fill="#60ff9f"/>
<rect x="0" y="64.04" width="21.3" height="2.24" fill="#70ff8f"/>
<rect x="0" y="62.10" width="21.3" height="2.24" fill="#80ff80"/>
<rect x="0" y="60.16" width="21.3" height="2.24" fill="#8fff70"/>
<rect x="0" y="58.22" width="21.3" height="2.24" fill="#9fff60"/>
<rect x="0" y="56.28" width="21.3" height="2.24" fill="#afff50"/>
<rect x="0" y="54.34" width="21.3" height="2.24" fill="#bfff40"/>
<rect x="0" y="52.40" width="21.3" height="2.24" fill="#cfff30"/>
<rect x="0" y="50.46" width="21.3" height="2.24" fill="#dfff20"/>
<rect x="0" y="48.52" width="21.3" height="2.24" fill="#efff10"/>
<rect x="0" y="46.58" width="21.3" height="2.24" fill="#ffff00"/>
<rect x="0" y="44.63" width="21.3" height="2.24" fill="#ffef00"/>
<rect x="0" y="42.69" width="21.3" height="2.24" fill="#ffdf00"/>
<rect x="0" y="40.75" width="21.3" height="2.24" fill="#ffcf00"/>
<rect x="0" y="38.81" width="21.3" height="2.24" fill="#ffbf00"/>
<rect x="0" y="36.87" width="21.3" height="2.24" fill="#ffaf00"/>
<rect x="0" y="34.93" width="21.3" height="2.24" fill="#ff9f00"/>
<rect x="0" y="32.99" width="21.3" height="2.24" fill="#ff8f00"/>
<rect x="0" y="31.05" width="21.3" height="2.24" fill="#ff8000"/>
<rect x="0" y="29.11" width="21.3" height="2.24" fill="#ff7000"/>
<rect x="0" y="27.17" width="21.3" height="2.24" fill="#ff6000"/>
<rect x="0" y="25.23" width="21.3" height="2.24" fill="#ff5000"/>
<rect x="0" y="23.29" width="21.3" height="2.24" fill="#ff4000"/>
<rect x="0" y="21.35" width="21.3" height="2.24" fill="#ff3000"/>
<rect x="0" y="19.41" width="21.3" height="2.24" fill="#ff2000"/>
<rect x="0" y="17.47" width="21.3" height="2.24" fill="#ff1000"/>
<rect x="0" y="15.53" width="21.3" height="2.24" fill="#ff0000"/>
<rect x="0" y="13.58" width="21.3" height="2.24" fill="#ef0000"/>
<rect x="0" y="11.64" width="21.3" height="2.24" fill="#df0000"/>
<rect x="0" y="9.70" width="21.3" height="2.24" fill="#cf0000"/>
<rect x="0" y="7.76" width="21.3" height="2.24" fill="#bf0000"/>
<rect x="0" y="5.82" width="21.3" height="2.24" fill="#af0000"/>
<rect x="0" y="3.88" width="21.3" height="2.24" fill="#9f0000"/>
<rect x="0" y="1.94" width="21.3" height="2.24" fill="#8f0000"/>
<rect x="0" y="0.00" width="21.3" height="2.24" fill="#800000"/>
<path d="M0 96.0h5M21.3 96.0h-5M0 67.7h5M21.3 67.7h-5M0 39.5h5M21.3 39.5h-5M0 11.3h5M21.3 11.3h-5" stroke="#222" stroke-width="1" fill="none"/>
<rect x="0" y="0" width="21.3" height="124.2" fill="none" stroke="#222" stroke-width="1.2"/>
<text class="n" x="30.8" y="132.8">0</text>
<text class="n" x="30.8" y="104.6">0.5</text>
<text class="n" x="30.8" y="76.3">1.0</text>
<text class="n" x="30.8" y="48.1">1.5</text>
<text class="n" x="30.8" y="19.9">2.0</text>
</g>
<text class="i" x="1.0" y="24.0">(a)</text>
<text class="i" x="530.0" y="24.0">(b)</text>
<text class="i" x="1.0" y="297.4">(c)</text>
<text class="i" x="530.0" y="297.4">(d<tspan dx="3.2">)</tspan></text>
<text class="i" x="9.2" y="103.5">θ<tspan class="s" font-style="normal" dy="4.5">0</tspan></text>
<text class="i" x="9.2" y="378.3">θ<tspan class="s" font-style="normal" dy="4.5">0</tspan></text>
<text class="i" x="224.7" y="545.6" text-anchor="middle">β</text>
<text class="i" x="753.7" y="545.6" text-anchor="middle">β</text>
</svg></body></html>
